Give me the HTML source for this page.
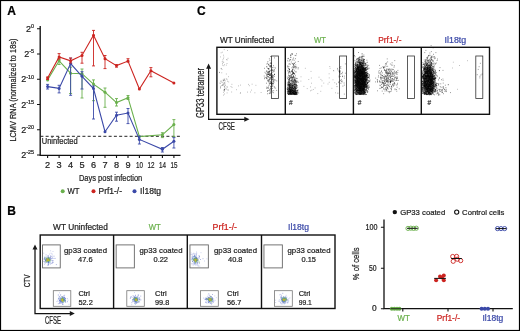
<!DOCTYPE html>
<html><head><meta charset="utf-8"><style>
html,body{margin:0;padding:0;background:#fff;width:520px;height:331px;overflow:hidden}

svg{display:block;font-family:"Liberation Sans", sans-serif;will-change:transform}
text{stroke-width:0.22px}
</style></head><body>
<div id="w"><svg width="520" height="331" viewBox="0 0 520 331">
<text x="7.3" y="15.4" font-size="12" fill="#000" stroke="#000" text-anchor="start" font-weight="bold">A</text>
<path d="M40.2 26V155.3H180.5" stroke="#111" stroke-width="1.35" fill="none"/>
<path d="M37 28.7H40M37 54.0H40M37 79.2H40M37 104.5H40M37 129.7H40M37 155.0H40M47.6 155.3V158M59.1 155.3V158M70.6 155.3V158M82.0 155.3V158M93.5 155.3V158M105.0 155.3V158M116.5 155.3V158M128.0 155.3V158M139.4 155.3V158M150.9 155.3V158M162.4 155.3V158M173.9 155.3V158" stroke="#111" stroke-width="1.1" fill="none"/>
<text x="34" y="31.7" font-size="9" fill="#222" stroke="#222" text-anchor="end">2<tspan font-size="5.4" dy="-3.6">0</tspan></text>
<text x="34" y="57.0" font-size="9" fill="#222" stroke="#222" text-anchor="end">2<tspan font-size="5.4" dy="-3.6">-5</tspan></text>
<text x="34" y="82.2" font-size="9" fill="#222" stroke="#222" text-anchor="end">2<tspan font-size="5.4" dy="-3.6">-10</tspan></text>
<text x="34" y="107.5" font-size="9" fill="#222" stroke="#222" text-anchor="end">2<tspan font-size="5.4" dy="-3.6">-15</tspan></text>
<text x="34" y="132.7" font-size="9" fill="#222" stroke="#222" text-anchor="end">2<tspan font-size="5.4" dy="-3.6">-20</tspan></text>
<text x="34" y="158.0" font-size="9" fill="#222" stroke="#222" text-anchor="end">2<tspan font-size="5.4" dy="-3.6">-25</tspan></text>
<text x="47.6" y="168.3" font-size="9.2" fill="#222" stroke="#222" text-anchor="middle">2</text>
<text x="59.1" y="168.3" font-size="9.2" fill="#222" stroke="#222" text-anchor="middle">3</text>
<text x="70.6" y="168.3" font-size="9.2" fill="#222" stroke="#222" text-anchor="middle">4</text>
<text x="82.0" y="168.3" font-size="9.2" fill="#222" stroke="#222" text-anchor="middle">5</text>
<text x="93.5" y="168.3" font-size="9.2" fill="#222" stroke="#222" text-anchor="middle">6</text>
<text x="105.0" y="168.3" font-size="9.2" fill="#222" stroke="#222" text-anchor="middle">7</text>
<text x="116.5" y="168.3" font-size="9.2" fill="#222" stroke="#222" text-anchor="middle">8</text>
<text x="128.0" y="168.3" font-size="9.2" fill="#222" stroke="#222" text-anchor="middle">9</text>
<text x="139.4" y="168.3" font-size="9.2" fill="#222" stroke="#222" text-anchor="middle" textLength="7.0" lengthAdjust="spacingAndGlyphs">10</text>
<text x="150.9" y="168.3" font-size="9.2" fill="#222" stroke="#222" text-anchor="middle" textLength="7.0" lengthAdjust="spacingAndGlyphs">12</text>
<text x="162.4" y="168.3" font-size="9.2" fill="#222" stroke="#222" text-anchor="middle" textLength="7.0" lengthAdjust="spacingAndGlyphs">14</text>
<text x="173.9" y="168.3" font-size="9.2" fill="#222" stroke="#222" text-anchor="middle" textLength="7.0" lengthAdjust="spacingAndGlyphs">15</text>
<text x="78.9" y="181.4" font-size="9.3" fill="#222" stroke="#222" text-anchor="start" textLength="63.4" lengthAdjust="spacingAndGlyphs">Days post infection</text>
<circle cx="62.7" cy="191.2" r="2" fill="#6ab04c"/><circle cx="93.5" cy="191.2" r="2" fill="#cc2420"/><circle cx="134.5" cy="191.2" r="2" fill="#3b49a8"/>
<text x="67.5" y="194" font-size="8.6" fill="#222" stroke="#222" text-anchor="start" textLength="12" lengthAdjust="spacingAndGlyphs">WT</text>
<text x="98.5" y="194" font-size="8.6" fill="#222" stroke="#222" text-anchor="start" textLength="23.5" lengthAdjust="spacingAndGlyphs">Prf1-/-</text>
<text x="140.1" y="194" font-size="8.6" fill="#222" stroke="#222" text-anchor="start" textLength="21" lengthAdjust="spacingAndGlyphs">Il18tg</text>
<text transform="translate(15.6 90.1) rotate(-90)" font-size="9.2" fill="#222" stroke="#222" text-anchor="middle" textLength="103" lengthAdjust="spacingAndGlyphs">LCMV RNA (normalized to 18s)</text>
<path d="M40.4 136.3H182" stroke="#222" stroke-width="1" stroke-dasharray="3 2.25"/>
<text x="41.8" y="143.7" font-size="8.4" fill="#222" stroke="#222" text-anchor="start" textLength="35.8" lengthAdjust="spacingAndGlyphs">Uninfected</text>
<path d="M47.6 79.9 L59.1 60.8 L70.6 73.2 L82.0 73.7 L93.5 84.1 L105.0 92.2 L116.5 102.6 L128.0 97.7 L139.4 136.6 L162.4 134.8 L173.9 124.5" stroke="#6ab04c" stroke-width="1.1" fill="none"/>
<path d="M59.1 59V64.5M57.6 59h3M57.6 64.5h3M70.6 67.2V93.5M69.1 67.2h3M69.1 93.5h3M82.0 69V98M80.5 69h3M80.5 98h3M93.5 79.9V100.7M92.0 79.9h3M92.0 100.7h3M105.0 88V107.3M103.5 88h3M103.5 107.3h3M116.5 98.6V106M115.0 98.6h3M115.0 106h3M128.0 95.5V99.5M126.5 95.5h3M126.5 99.5h3M162.4 132.7V137.6M160.9 132.7h3M160.9 137.6h3M173.9 119.6V136.8M172.4 119.6h3M172.4 136.8h3" stroke="#6ab04c" stroke-width="0.9" fill="none"/>
<circle cx="47.6" cy="79.9" r="1.5" fill="#6ab04c"/>
<circle cx="59.1" cy="60.8" r="1.5" fill="#6ab04c"/>
<circle cx="70.6" cy="73.2" r="1.5" fill="#6ab04c"/>
<circle cx="82.0" cy="73.7" r="1.5" fill="#6ab04c"/>
<circle cx="93.5" cy="84.1" r="1.5" fill="#6ab04c"/>
<circle cx="105.0" cy="92.2" r="1.5" fill="#6ab04c"/>
<circle cx="116.5" cy="102.6" r="1.5" fill="#6ab04c"/>
<circle cx="128.0" cy="97.7" r="1.5" fill="#6ab04c"/>
<circle cx="139.4" cy="136.6" r="1.5" fill="#6ab04c"/>
<circle cx="162.4" cy="134.8" r="1.5" fill="#6ab04c"/>
<circle cx="173.9" cy="124.5" r="1.5" fill="#6ab04c"/>
<path d="M47.6 86.6 L59.1 88.4 L70.6 63.6 L82.0 76.3 L93.5 88.6 L105.0 131.7 L116.5 115.2 L128.0 113 L139.4 139.4 L162.4 149.3 L173.9 141.2" stroke="#3b49a8" stroke-width="1.1" fill="none"/>
<path d="M47.6 84.4V89M46.1 84.4h3M46.1 89h3M59.1 85.3V92.9M57.6 85.3h3M57.6 92.9h3M70.6 58.1V95.3M69.1 58.1h3M69.1 95.3h3M82.0 71.7V89M80.5 71.7h3M80.5 89h3M93.5 86V119M92.0 86h3M92.0 119h3M116.5 112.2V121.2M115.0 112.2h3M115.0 121.2h3M128.0 108.5V123.6M126.5 108.5h3M126.5 123.6h3M139.4 136.3V144M137.9 136.3h3M137.9 144h3M162.4 147.5V152M160.9 147.5h3M160.9 152h3M173.9 137.6V148M172.4 137.6h3M172.4 148h3" stroke="#3b49a8" stroke-width="0.9" fill="none"/>
<circle cx="47.6" cy="86.6" r="1.5" fill="#3b49a8"/>
<circle cx="59.1" cy="88.4" r="1.5" fill="#3b49a8"/>
<circle cx="70.6" cy="63.6" r="1.5" fill="#3b49a8"/>
<circle cx="82.0" cy="76.3" r="1.5" fill="#3b49a8"/>
<circle cx="93.5" cy="88.6" r="1.5" fill="#3b49a8"/>
<circle cx="105.0" cy="131.7" r="1.5" fill="#3b49a8"/>
<circle cx="116.5" cy="115.2" r="1.5" fill="#3b49a8"/>
<circle cx="128.0" cy="113" r="1.5" fill="#3b49a8"/>
<circle cx="139.4" cy="139.4" r="1.5" fill="#3b49a8"/>
<circle cx="162.4" cy="149.3" r="1.5" fill="#3b49a8"/>
<circle cx="173.9" cy="141.2" r="1.5" fill="#3b49a8"/>
<path d="M47.6 78.1 L59.1 56.9 L70.6 60.8 L82.0 55.4 L93.5 35.2 L105.0 58.7 L116.5 65.6 L128.0 61.1 L139.4 89 L150.9 70.7 L173.9 83" stroke="#cc2420" stroke-width="1.1" fill="none"/>
<path d="M47.6 77V79.5M46.1 77h3M46.1 79.5h3M59.1 53.6V59M57.6 53.6h3M57.6 59h3M70.6 58V63M69.1 58h3M69.1 63h3M82.0 52.3V63.2M80.5 52.3h3M80.5 63.2h3M93.5 30.4V65.9M92.0 30.4h3M92.0 65.9h3M105.0 55.5V68.6M103.5 55.5h3M103.5 68.6h3M116.5 64.8V67.2M115.0 64.8h3M115.0 67.2h3M128.0 58.7V62M126.5 58.7h3M126.5 62h3M150.9 67.6V76.8M149.4 67.6h3M149.4 76.8h3" stroke="#cc2420" stroke-width="0.9" fill="none"/>
<circle cx="47.6" cy="78.1" r="1.5" fill="#cc2420"/>
<circle cx="59.1" cy="56.9" r="1.5" fill="#cc2420"/>
<circle cx="70.6" cy="60.8" r="1.5" fill="#cc2420"/>
<circle cx="82.0" cy="55.4" r="1.5" fill="#cc2420"/>
<circle cx="93.5" cy="35.2" r="1.5" fill="#cc2420"/>
<circle cx="105.0" cy="58.7" r="1.5" fill="#cc2420"/>
<circle cx="116.5" cy="65.6" r="1.5" fill="#cc2420"/>
<circle cx="128.0" cy="61.1" r="1.5" fill="#cc2420"/>
<circle cx="139.4" cy="89" r="1.5" fill="#cc2420"/>
<circle cx="150.9" cy="70.7" r="1.5" fill="#cc2420"/>
<circle cx="173.9" cy="83" r="1.5" fill="#cc2420"/>
<text x="197" y="15.3" font-size="12" fill="#000" stroke="#000" text-anchor="start" font-weight="bold">C</text>
<text x="220" y="42.9" font-size="8.6" fill="#222" stroke="#222" text-anchor="start" textLength="54" lengthAdjust="spacingAndGlyphs">WT Uninfected</text>
<text x="314" y="42.9" font-size="8.6" fill="#6ab04c" stroke="#6ab04c" text-anchor="start" textLength="12" lengthAdjust="spacingAndGlyphs">WT</text>
<text x="378.2" y="42.9" font-size="8.6" fill="#cc2420" stroke="#cc2420" text-anchor="start" textLength="23.3" lengthAdjust="spacingAndGlyphs">Prf1-/-</text>
<text x="444.6" y="42.9" font-size="8.6" fill="#3b49a8" stroke="#3b49a8" text-anchor="start" textLength="21.6" lengthAdjust="spacingAndGlyphs">Il18tg</text>
<rect x="216.9" y="47.3" width="272.6" height="67" fill="none" stroke="#111" stroke-width="1.4"/>
<path d="M285.3 47.4V114.3M353.4 47.4V114.3M421.3 47.4V114.3" stroke="#111" stroke-width="1.4"/>
<rect x="271.4" y="56" width="7" height="42.4" fill="none" stroke="#333" stroke-width="0.8"/>
<rect x="339.6" y="56" width="7" height="42.4" fill="none" stroke="#333" stroke-width="0.8"/>
<rect x="407.4" y="56" width="7" height="42.4" fill="none" stroke="#333" stroke-width="0.8"/>
<rect x="475.8" y="56" width="7" height="42.4" fill="none" stroke="#333" stroke-width="0.8"/>
<path d="M208.6 67V119.4H247" stroke="#111" stroke-width="1.2" fill="none"/>
<path d="M208.6 63.5l-2.5 5.2h5z M249.5 119.3l-5.2 -2.5v5z" fill="#1a1a1a"/>
<text transform="translate(203.7 93.0) rotate(-90)" font-size="10.2" fill="#222" stroke="#222" text-anchor="middle" textLength="49.8" lengthAdjust="spacingAndGlyphs">GP33 tetramer</text>
<text x="218.5" y="129.7" font-size="10.4" fill="#222" stroke="#222" text-anchor="start" textLength="16.5" lengthAdjust="spacingAndGlyphs">CFSE</text>
<text x="290.9" y="105.1" font-size="6.5" fill="#444" stroke="#444" text-anchor="middle">#</text>
<text x="359.5" y="105.1" font-size="6.5" fill="#444" stroke="#444" text-anchor="middle">#</text>
<text x="429.2" y="105.1" font-size="6.5" fill="#444" stroke="#444" text-anchor="middle">#</text>
<path d="M267.3 74.8h.8M268.0 87.7h.8M269.1 89.7h.8M264.5 77.7h.8M269.6 92.4h.8M272.6 77.4h.8M268.1 69.4h.8M271.3 73.6h.8M272.1 92.0h.8M273.9 86.7h.8M274.0 74.2h.8M270.7 88.8h.8M268.5 81.8h.8M273.9 87.8h.8M268.4 64.2h.8M270.3 75.3h.8M270.8 89.2h.8M265.5 73.5h.8M273.3 71.8h.8M272.4 79.8h.8M273.2 65.7h.8M271.7 83.1h.8M273.6 67.4h.8M270.0 70.8h.8M276.3 90.4h.8M270.9 82.6h.8M271.6 90.7h.8M272.9 81.7h.8M268.2 72.0h.8M267.2 73.0h.8M270.4 83.0h.8M293.3 92.3h.8M293.4 90.8h.8M291.4 77.1h.8M289.2 69.4h.8M289.5 81.9h.8M289.6 92.3h.8M290.6 76.2h.8M290.5 91.0h.8M288.6 75.7h.8M293.8 84.6h.8M288.7 84.3h.8M288.4 93.9h.8M293.1 67.0h.8M295.1 94.4h.8M289.5 91.9h.8M287.5 82.2h.8M294.4 94.4h.8M292.1 90.8h.8M297.3 87.3h.8M290.0 85.8h.8M293.0 89.6h.8M296.0 88.7h.8M294.3 66.6h.8M294.0 93.0h.8M295.6 84.4h.8M291.2 84.3h.8M289.5 90.1h.8M295.3 89.4h.8M292.7 93.9h.8M288.3 94.1h.8M289.9 89.3h.8M291.1 91.7h.8M293.6 65.5h.8M292.3 90.3h.8M293.0 76.1h.8M297.9 82.3h.8M288.9 69.1h.8M295.0 81.9h.8M294.8 85.2h.8M294.6 90.8h.8M290.3 90.0h.8M292.6 90.7h.8M294.1 87.4h.8M289.8 73.2h.8M288.5 84.6h.8M290.2 85.3h.8M296.0 88.0h.8M287.4 84.2h.8M291.0 93.8h.8M290.8 91.8h.8M288.4 88.4h.8M291.7 71.7h.8M290.9 89.2h.8M288.7 78.6h.8M296.7 91.3h.8M290.2 85.1h.8M296.0 92.4h.8M290.8 93.5h.8M295.6 67.2h.8M291.6 87.0h.8M289.2 71.5h.8M292.2 91.6h.8M287.7 94.3h.8M293.7 60.3h.8M292.0 70.7h.8M296.8 90.6h.8M294.9 77.8h.8M292.4 89.8h.8M290.7 91.3h.8M290.9 82.1h.8M295.2 93.7h.8M292.5 90.1h.8M290.7 90.7h.8M289.0 89.3h.8M289.6 88.4h.8M291.4 87.1h.8M290.4 90.4h.8M293.5 92.1h.8M296.0 90.8h.8M294.9 93.4h.8M289.2 94.6h.8M295.3 86.6h.8M292.7 72.7h.8M296.0 93.5h.8M292.6 90.8h.8M291.3 86.0h.8M295.2 93.2h.8M290.0 72.0h.8M292.2 93.0h.8M295.0 83.2h.8M292.5 74.7h.8M296.1 82.4h.8M292.9 93.3h.8M287.4 66.3h.8M289.8 87.2h.8M293.3 94.2h.8M297.0 94.0h.8M290.8 87.1h.8M296.6 94.2h.8M293.0 85.5h.8M294.1 89.7h.8M292.1 53.8h.8M292.8 67.0h.8M288.2 93.0h.8M295.2 92.7h.8M294.2 92.7h.8M291.9 93.1h.8M294.0 79.9h.8M294.4 90.2h.8M289.5 91.3h.8M295.0 92.4h.8M297.0 85.7h.8M295.7 87.1h.8M289.3 91.1h.8M288.8 71.0h.8M290.3 77.7h.8M293.5 90.9h.8M288.1 94.5h.8M290.3 92.4h.8M292.9 90.0h.8M288.9 93.9h.8M290.9 89.1h.8M290.9 90.1h.8M295.3 88.5h.8M293.3 90.4h.8M291.8 60.0h.8M288.6 82.8h.8M289.6 77.2h.8M291.9 80.3h.8M343.9 78.1h.8M341.6 73.8h.8M337.4 69.8h.8M343.7 83.0h.8M362.8 89.2h.8M360.4 89.7h.8M359.7 80.8h.8M358.2 70.8h.8M363.4 83.9h.8M357.6 78.0h.8M359.6 65.8h.8M362.9 72.8h.8M362.7 74.1h.8M363.0 80.4h.8M360.5 73.6h.8M361.0 88.8h.8M357.9 78.0h.8M361.9 72.1h.8M366.5 76.7h.8M361.4 78.1h.8M357.9 86.9h.8M360.7 91.5h.8M367.3 83.6h.8M361.2 86.0h.8M360.8 88.9h.8M361.3 88.9h.8M354.2 85.5h.8M362.3 62.4h.8M355.8 66.2h.8M355.7 64.9h.8M364.8 68.1h.8M361.4 92.6h.8M363.8 78.9h.8M361.8 74.3h.8M355.9 72.2h.8M360.5 85.4h.8M362.5 83.2h.8M358.5 90.1h.8M366.9 79.1h.8M359.3 59.5h.8M361.3 71.9h.8M360.2 68.1h.8M366.4 64.7h.8M359.8 78.6h.8M355.4 75.5h.8M365.1 84.1h.8M357.7 76.1h.8M363.6 82.7h.8M365.4 83.7h.8M359.0 69.5h.8M359.4 68.2h.8M363.5 72.9h.8M358.3 60.7h.8M360.7 74.6h.8M354.6 90.4h.8M359.1 62.7h.8M362.2 74.6h.8M357.1 79.2h.8M355.3 77.6h.8M361.4 76.0h.8M358.6 74.3h.8M359.1 63.6h.8M368.9 80.7h.8M364.1 76.0h.8M361.5 69.2h.8M361.0 81.8h.8M365.0 75.8h.8M354.9 69.2h.8M354.8 81.6h.8M364.7 87.1h.8M361.6 83.5h.8M357.6 77.5h.8M362.9 73.6h.8M359.1 81.2h.8M366.6 78.6h.8M363.5 83.7h.8M356.8 76.6h.8M358.2 75.2h.8M357.2 71.8h.8M360.2 85.2h.8M356.6 73.3h.8M355.5 77.2h.8M364.2 85.3h.8M363.9 69.5h.8M356.9 75.7h.8M363.5 77.3h.8M362.0 69.6h.8M364.6 86.0h.8M361.8 79.2h.8M360.9 71.8h.8M356.6 85.4h.8M357.1 71.5h.8M362.0 87.9h.8M363.3 85.9h.8M365.0 69.2h.8M355.2 88.0h.8M357.3 72.0h.8M355.4 92.1h.8M358.2 77.7h.8M359.2 70.1h.8M364.7 93.4h.8M360.6 64.7h.8M362.4 80.9h.8M363.9 71.8h.8M360.3 64.3h.8M356.1 84.8h.8M355.6 69.4h.8M362.7 72.6h.8M364.8 84.7h.8M360.6 79.7h.8M354.9 82.5h.8M364.5 82.5h.8M364.0 76.1h.8M365.0 77.4h.8M361.7 65.3h.8M358.1 72.2h.8M362.2 67.3h.8M361.2 89.7h.8M361.3 85.7h.8M361.6 77.8h.8M359.9 93.4h.8M357.0 81.7h.8M360.6 65.5h.8M358.7 80.4h.8M363.8 76.9h.8M359.3 68.3h.8M364.3 77.0h.8M362.7 76.3h.8M361.1 78.6h.8M358.4 67.2h.8M367.7 77.6h.8M358.5 88.5h.8M362.9 72.3h.8M360.5 90.5h.8M360.1 71.1h.8M361.5 81.9h.8M355.5 80.5h.8M359.8 66.6h.8M360.8 80.7h.8M364.8 88.2h.8M359.8 79.6h.8M365.1 90.5h.8M357.5 62.8h.8M359.6 73.0h.8M362.6 76.5h.8M357.1 79.6h.8M367.7 87.9h.8M368.2 82.3h.8M361.6 83.6h.8M358.1 70.8h.8M356.0 90.6h.8M359.9 92.2h.8M362.4 69.3h.8M361.4 90.9h.8M359.2 73.3h.8M364.7 78.5h.8M355.6 62.2h.8M356.7 86.4h.8M362.6 89.5h.8M363.1 60.5h.8M362.7 74.3h.8M363.8 73.8h.8M361.7 83.6h.8M362.6 85.3h.8M357.5 76.3h.8M361.2 91.6h.8M365.9 85.3h.8M366.5 82.1h.8M357.0 64.8h.8M356.6 88.9h.8M362.8 92.7h.8M357.1 94.3h.8M355.4 92.1h.8M364.1 83.0h.8M356.9 81.8h.8M359.7 72.0h.8M359.5 72.4h.8M361.5 86.4h.8M358.4 83.6h.8M368.2 87.9h.8M365.1 94.1h.8M357.6 85.3h.8M360.2 70.2h.8M361.4 76.6h.8M364.6 73.4h.8M364.8 78.2h.8M360.5 69.8h.8M361.3 87.7h.8M363.2 75.3h.8M357.8 75.7h.8M358.2 61.8h.8M364.8 85.6h.8M355.8 85.4h.8M357.0 84.8h.8M356.4 77.1h.8M357.8 86.5h.8M360.3 66.9h.8M362.6 84.6h.8M359.1 89.0h.8M360.5 85.3h.8M364.1 87.0h.8M355.3 85.1h.8M358.8 80.6h.8M362.6 60.6h.8M363.1 85.8h.8M356.2 84.1h.8M362.4 69.2h.8M355.4 77.4h.8M356.3 81.5h.8M361.7 82.7h.8M365.2 84.3h.8M358.5 85.8h.8M361.9 75.3h.8M358.6 88.6h.8M363.1 85.4h.8M362.7 89.4h.8M360.6 83.6h.8M360.2 83.2h.8M361.8 79.9h.8M356.4 70.5h.8M360.8 84.4h.8M357.5 67.7h.8M362.9 81.6h.8M363.8 73.6h.8M358.0 73.8h.8M364.2 68.4h.8M356.4 69.7h.8M360.1 62.3h.8M364.4 94.0h.8M364.5 85.3h.8M361.1 65.3h.8M361.9 59.9h.8M359.2 81.9h.8M358.9 65.8h.8M356.6 79.8h.8M359.1 75.8h.8M360.2 87.8h.8M359.7 66.5h.8M360.3 79.2h.8M357.6 68.1h.8M357.4 84.2h.8M360.8 85.2h.8M357.4 90.5h.8M357.4 75.0h.8M359.5 79.1h.8M361.2 82.6h.8M365.1 76.9h.8M366.6 86.7h.8M359.5 62.7h.8M359.3 70.8h.8M356.4 60.1h.8M360.4 86.3h.8M356.6 79.8h.8M362.0 69.1h.8M369.7 80.1h.8M359.4 66.9h.8M361.4 83.4h.8M359.3 79.4h.8M356.5 77.0h.8M361.1 86.9h.8M361.3 84.3h.8M356.0 75.3h.8M358.1 81.0h.8M355.6 79.4h.8M364.3 72.2h.8M357.2 91.0h.8M359.6 69.9h.8M362.7 65.9h.8M364.7 74.4h.8M359.5 86.8h.8M361.6 80.3h.8M362.3 86.5h.8M361.6 66.4h.8M365.8 81.1h.8M355.9 88.4h.8M357.5 70.4h.8M362.3 81.4h.8M364.6 74.8h.8M365.5 80.0h.8M354.6 60.6h.8M360.5 63.9h.8M363.4 78.4h.8M359.1 74.1h.8M363.1 63.9h.8M362.7 93.0h.8M366.6 84.9h.8M356.7 83.5h.8M359.5 71.7h.8M360.9 62.6h.8M360.5 76.8h.8M360.7 83.5h.8M361.7 91.0h.8M359.4 59.5h.8M362.5 93.6h.8M357.2 80.1h.8M360.0 66.0h.8M358.2 82.2h.8M363.8 73.6h.8M361.6 88.4h.8M362.1 83.0h.8M357.1 87.4h.8M362.6 67.0h.8M355.9 81.5h.8M365.8 70.0h.8M367.3 80.7h.8M360.9 85.9h.8M364.3 81.0h.8M357.3 75.4h.8M362.9 88.4h.8M359.7 83.2h.8M357.9 83.0h.8M355.7 75.0h.8M363.9 86.6h.8M357.3 80.0h.8M365.8 80.7h.8M360.4 63.6h.8M364.0 76.5h.8M355.6 75.6h.8M362.1 66.0h.8M364.0 78.7h.8M359.8 90.6h.8M362.7 76.0h.8M362.3 83.6h.8M364.9 73.9h.8M364.7 80.8h.8M362.0 72.1h.8M361.8 87.8h.8M361.7 89.8h.8M360.9 91.9h.8M365.9 79.5h.8M365.2 83.4h.8M354.3 80.3h.8M357.7 80.4h.8M356.1 85.1h.8M359.5 84.6h.8M358.1 88.4h.8M358.4 73.4h.8M355.5 72.4h.8M362.7 90.6h.8M357.6 84.6h.8M359.9 72.9h.8M354.3 68.8h.8M358.3 70.0h.8M356.8 66.8h.8M364.9 83.4h.8M361.1 75.6h.8M363.5 63.2h.8M358.5 64.4h.8M355.3 83.7h.8M356.0 94.3h.8M362.3 75.3h.8M361.2 81.7h.8M362.0 88.5h.8M362.0 69.5h.8M358.9 74.9h.8M365.7 72.1h.8M359.8 91.3h.8M355.2 76.4h.8M360.1 88.6h.8M360.1 82.3h.8M361.4 82.3h.8M362.5 71.1h.8M358.5 88.5h.8M359.7 63.9h.8M359.3 64.8h.8M359.2 57.3h.8M355.8 94.4h.8M359.7 62.3h.8M362.8 84.2h.8M366.8 75.6h.8M359.6 77.2h.8M364.1 82.3h.8M359.9 89.5h.8M357.6 85.3h.8M364.7 84.9h.8M363.5 75.1h.8M363.9 88.8h.8M363.1 91.2h.8M364.6 92.3h.8M362.9 73.4h.8M367.9 81.0h.8M360.6 71.2h.8M359.2 80.8h.8M364.0 93.3h.8M358.5 81.0h.8M360.5 78.8h.8M355.5 86.7h.8M359.2 78.7h.8M358.0 81.8h.8M355.4 72.0h.8M355.0 76.8h.8M361.0 84.2h.8M358.9 82.9h.8M356.7 89.9h.8M357.1 93.3h.8M364.2 61.7h.8M356.4 74.5h.8M357.5 74.1h.8M362.2 72.9h.8M357.4 67.5h.8M361.1 79.5h.8M357.7 69.3h.8M358.9 88.7h.8M365.4 65.4h.8M362.7 75.4h.8M361.5 75.3h.8M357.2 89.8h.8M361.4 74.1h.8M361.0 84.8h.8M361.9 78.3h.8M363.4 79.6h.8M360.3 84.5h.8M361.1 65.7h.8M361.5 74.5h.8M363.8 77.9h.8M360.0 69.6h.8M360.1 94.4h.8M365.7 75.6h.8M361.7 84.4h.8M366.3 73.0h.8M362.3 73.7h.8M358.0 84.2h.8M359.2 88.7h.8M363.3 80.6h.8M362.6 89.2h.8M356.1 94.4h.8M356.5 83.5h.8M363.0 92.2h.8M366.9 69.1h.8M365.6 65.8h.8M363.1 74.0h.8M364.3 83.2h.8M364.0 68.9h.8M358.5 91.9h.8M361.8 89.6h.8M360.0 89.8h.8M361.3 72.9h.8M355.2 86.8h.8M357.1 92.0h.8M360.0 69.3h.8M356.6 80.5h.8M363.8 90.1h.8M358.2 78.9h.8M362.7 77.2h.8M363.3 73.2h.8M358.6 82.2h.8M360.8 73.4h.8M363.8 85.2h.8M363.3 75.6h.8M358.4 73.1h.8M361.6 57.3h.8M362.0 78.9h.8M364.0 59.7h.8M359.8 81.7h.8M364.2 74.1h.8M358.5 90.6h.8M356.8 76.1h.8M357.0 75.8h.8M362.9 88.6h.8M361.8 90.8h.8M363.0 76.0h.8M357.4 93.2h.8M361.7 83.5h.8M359.5 77.7h.8M354.2 76.4h.8M366.7 83.6h.8M365.3 69.7h.8M359.5 69.3h.8M354.8 78.4h.8M364.0 85.7h.8M362.3 67.8h.8M356.6 90.5h.8M362.6 81.0h.8M364.1 75.0h.8M364.4 88.7h.8M357.0 87.5h.8M365.0 84.5h.8M363.4 82.5h.8M355.1 67.8h.8M361.7 90.3h.8M362.2 87.3h.8M363.6 82.6h.8M361.5 63.1h.8M365.8 62.8h.8M384.9 65.0h.8M387.5 84.4h.8M384.4 81.6h.8M387.0 81.1h.8M381.7 87.3h.8M382.5 66.7h.8M388.3 72.9h.8M382.8 83.9h.8M383.5 76.8h.8M388.1 82.2h.8M381.2 87.5h.8M384.0 81.3h.8M390.6 76.2h.8M396.0 79.9h.8M387.7 78.1h.8M393.8 83.5h.8M386.7 78.9h.8M383.1 85.1h.8M390.2 78.9h.8M392.4 84.9h.8M385.9 78.3h.8M395.8 74.2h.8M393.9 82.7h.8M387.3 71.3h.8M384.6 76.6h.8M375.0 81.9h.8M388.8 73.1h.8M388.3 79.0h.8M387.3 66.3h.8M385.1 82.9h.8M396.4 91.2h.8M392.4 65.2h.8M397.9 80.4h.8M387.5 73.9h.8M392.6 85.4h.8M396.2 71.7h.8M383.8 81.0h.8M391.7 80.9h.8M386.8 87.2h.8M391.6 75.9h.8M383.6 67.6h.8M390.2 82.7h.8M384.6 91.0h.8M392.1 69.7h.8M383.9 70.0h.8M382.1 87.5h.8M385.3 87.6h.8M377.2 81.8h.8M377.2 80.1h.8M385.8 78.1h.8M388.0 73.3h.8M425.2 87.1h.8M425.6 77.0h.8M430.0 76.6h.8M427.0 75.4h.8M433.0 78.8h.8M434.6 78.5h.8M433.0 88.3h.8M429.2 69.5h.8M426.5 89.5h.8M431.0 91.5h.8M428.0 81.2h.8M431.8 89.8h.8M424.3 87.7h.8M428.3 83.9h.8M429.7 84.4h.8M426.8 89.6h.8M430.4 86.9h.8M429.2 83.4h.8M422.8 77.8h.8M424.1 84.0h.8M423.5 80.8h.8M432.1 79.7h.8M435.3 82.7h.8M427.1 94.1h.8M431.7 74.2h.8M434.9 71.3h.8M431.9 77.1h.8M429.7 73.1h.8M430.2 88.9h.8M427.5 84.7h.8M426.8 63.7h.8M427.4 70.2h.8M430.3 88.7h.8M429.7 84.0h.8M429.8 80.2h.8M427.5 74.1h.8M428.3 80.1h.8M430.8 72.4h.8M425.8 71.2h.8M429.1 72.5h.8M429.9 85.3h.8M423.0 64.3h.8M429.7 89.0h.8M429.9 80.4h.8M432.5 88.2h.8M426.0 81.5h.8M425.5 72.6h.8M428.8 71.0h.8M431.7 77.4h.8M423.7 84.0h.8M424.8 73.2h.8M426.3 79.6h.8M423.0 85.7h.8M428.4 87.1h.8M429.8 68.3h.8M426.5 80.5h.8M430.6 75.6h.8M422.1 76.7h.8M427.2 75.2h.8M422.6 90.8h.8M429.4 82.6h.8M423.2 75.0h.8M424.8 75.4h.8M427.2 73.0h.8M428.2 88.2h.8M435.9 85.6h.8M427.2 88.2h.8M427.8 86.5h.8M430.0 78.6h.8M427.1 91.5h.8M431.3 77.6h.8M426.9 57.7h.8M424.0 88.7h.8M431.4 88.5h.8M425.0 61.4h.8M432.5 84.8h.8M423.2 75.0h.8M431.0 88.0h.8M424.2 77.6h.8M426.1 65.4h.8M430.0 93.6h.8M426.2 78.1h.8M427.3 77.5h.8M424.1 82.0h.8M430.9 79.7h.8M428.1 75.1h.8M429.2 75.1h.8M423.1 78.3h.8M428.8 78.2h.8M433.1 86.1h.8M425.3 71.3h.8M433.6 71.5h.8M428.0 75.4h.8M426.8 73.3h.8M423.6 82.2h.8M425.9 81.3h.8M431.9 78.2h.8M427.1 83.9h.8M430.8 67.2h.8M423.6 83.1h.8M428.9 65.6h.8M426.9 81.7h.8M431.8 88.1h.8M430.7 72.2h.8M429.0 78.0h.8M431.7 88.1h.8M430.4 77.0h.8M426.4 85.2h.8M429.9 87.6h.8M430.8 80.2h.8M426.3 92.4h.8M425.2 76.5h.8M431.8 92.2h.8M426.0 80.5h.8M423.4 78.6h.8M431.8 83.8h.8M424.8 81.1h.8M430.9 91.6h.8M427.2 76.0h.8M427.0 89.1h.8M427.2 66.7h.8M430.1 89.4h.8M429.2 77.1h.8M434.5 71.1h.8M427.6 77.0h.8M426.5 84.3h.8M425.8 75.7h.8M429.2 88.7h.8M427.8 76.0h.8M426.4 82.6h.8M426.1 78.8h.8M433.2 82.2h.8M424.2 82.4h.8M430.4 70.9h.8M431.5 88.6h.8M431.7 83.2h.8M425.4 88.7h.8M426.8 86.1h.8M429.9 85.2h.8M425.2 73.1h.8M427.7 75.6h.8M428.6 65.9h.8M428.3 89.1h.8M428.1 88.4h.8M426.6 75.6h.8M423.8 82.3h.8M429.4 79.0h.8M424.1 80.8h.8M430.6 57.7h.8M429.3 92.5h.8M431.3 71.6h.8M429.9 65.6h.8M431.1 79.8h.8M429.9 66.7h.8M425.4 83.6h.8M425.9 83.1h.8M427.5 77.0h.8M428.0 90.3h.8M432.5 71.8h.8M422.8 91.4h.8M434.9 75.8h.8M433.7 79.1h.8M432.1 90.5h.8M431.1 69.7h.8M433.3 86.7h.8M428.4 76.8h.8M424.2 74.5h.8M427.8 88.8h.8M432.6 83.7h.8M433.6 87.0h.8M429.3 67.0h.8M425.9 71.9h.8M427.6 69.8h.8M427.3 78.2h.8M424.6 89.8h.8M425.2 75.9h.8M422.7 71.6h.8M425.9 81.4h.8M424.3 68.5h.8M429.0 88.8h.8M432.1 83.3h.8M425.8 88.8h.8M426.0 78.8h.8M427.5 68.5h.8M429.2 90.3h.8M425.5 85.0h.8M427.0 68.5h.8M427.3 89.8h.8M428.9 79.4h.8M427.1 82.2h.8M428.2 87.7h.8M426.0 89.6h.8M422.3 84.4h.8M432.7 81.6h.8M425.1 90.2h.8M425.7 69.1h.8M427.2 69.0h.8M425.4 69.7h.8M430.2 82.4h.8M426.6 90.8h.8M431.2 78.1h.8M422.0 90.6h.8M425.9 72.4h.8M424.6 82.7h.8M426.6 74.9h.8M430.1 81.8h.8M426.7 76.8h.8M429.8 66.2h.8M426.0 91.7h.8M425.2 89.3h.8M428.2 81.6h.8M431.4 82.7h.8M427.3 65.8h.8M432.3 77.8h.8M430.0 74.1h.8M426.0 88.9h.8M429.0 67.6h.8M435.6 77.7h.8M430.5 89.0h.8M429.4 77.8h.8M429.1 69.5h.8M426.2 75.8h.8M426.1 91.9h.8M425.3 72.2h.8M427.4 73.2h.8M425.0 82.0h.8M433.1 83.3h.8M427.2 78.3h.8M429.0 93.0h.8M428.9 89.3h.8M426.6 79.2h.8M431.2 76.5h.8M426.1 92.6h.8M430.4 83.8h.8M434.6 79.6h.8M428.6 93.2h.8M426.6 73.2h.8M431.0 85.1h.8M426.4 84.4h.8M426.6 80.7h.8M426.8 64.7h.8M432.0 87.7h.8M426.2 71.6h.8M428.5 73.1h.8M428.2 80.9h.8M425.9 69.6h.8M431.1 71.0h.8M428.6 91.8h.8M428.5 84.4h.8M431.6 81.7h.8M427.3 69.1h.8M425.6 92.3h.8M431.0 81.1h.8M432.1 88.6h.8M430.4 77.2h.8M426.9 60.6h.8M427.0 74.4h.8M425.5 78.6h.8M424.3 80.8h.8M423.3 67.8h.8M424.6 85.2h.8M425.5 70.3h.8M428.7 85.1h.8M426.4 71.8h.8M424.9 85.9h.8M424.4 85.0h.8M429.6 67.3h.8M429.1 78.0h.8M430.0 78.7h.8M427.6 56.8h.8M429.7 68.8h.8M427.4 91.9h.8M424.7 75.7h.8M428.9 75.1h.8M435.2 77.5h.8M430.5 89.7h.8M433.4 86.7h.8M431.9 89.1h.8M432.3 68.4h.8M426.2 75.9h.8M430.9 69.1h.8M425.9 84.5h.8M424.6 84.0h.8M427.7 78.3h.8M426.1 89.3h.8M430.2 94.3h.8M428.2 91.7h.8M426.0 83.3h.8M430.1 73.1h.8M422.5 89.8h.8M430.1 82.0h.8M431.5 75.8h.8M425.9 67.9h.8M427.0 73.5h.8M430.1 92.8h.8M422.4 89.6h.8M426.2 93.7h.8M430.4 89.5h.8M430.4 83.6h.8M427.5 77.1h.8M428.9 60.2h.8M427.9 84.1h.8M428.2 93.7h.8M432.8 90.5h.8M430.1 79.4h.8M434.0 91.3h.8M424.0 79.2h.8M430.9 82.7h.8M431.4 88.5h.8M431.1 82.0h.8M427.6 81.4h.8M428.3 88.1h.8M430.1 85.7h.8M425.5 73.3h.8M427.2 91.3h.8M429.9 87.0h.8M433.4 82.0h.8M430.5 84.5h.8M425.2 86.6h.8M424.6 92.3h.8M423.9 78.0h.8M426.4 76.4h.8M425.2 66.3h.8M432.6 82.5h.8M426.7 60.0h.8M427.1 63.6h.8M430.2 79.6h.8M429.2 92.7h.8M425.8 86.3h.8M436.6 75.5h.8M427.5 84.9h.8M426.1 85.3h.8M431.0 76.2h.8M432.9 78.4h.8M426.0 88.3h.8M432.1 74.6h.8M432.8 61.1h.8M428.2 76.6h.8M425.6 67.5h.8M442.7 80.2h.8M423.3 76.1h.8M425.1 66.2h.8M425.1 93.5h.8M430.2 79.4h.8M438.9 70.7h.8M432.7 89.1h.8M427.3 83.6h.8M439.1 77.8h.8M423.7 93.5h.8M422.4 75.4h.8M428.0 83.0h.8M430.7 59.4h.8M428.6 79.4h.8M439.0 91.1h.8M429.7 55.3h.8M437.2 59.0h.8M425.6 59.4h.8M432.8 63.1h.8M435.0 63.7h.8M433.4 66.5h.8M431.0 58.8h.8M433.9 58.7h.8M445.5 87.6h.8M439.4 94.8h.8M429.6 94.0h.8M440.6 89.8h.8M440.4 83.8h.8M446.1 91.0h.8M432.9 89.7h.8M438.2 93.0h.8M445.8 89.3h.8M476.8 74.7h.8" stroke="#000" stroke-width="0.85" stroke-opacity="0.58" fill="none"/>
<path d="M268.1 72.9h.8M268.9 72.7h.8M267.7 74.3h.8M273.3 90.7h.8M271.3 84.4h.8M269.5 74.4h.8M267.4 68.5h.8M273.6 80.8h.8M274.8 80.1h.8M269.5 75.2h.8M274.0 74.4h.8M264.0 78.7h.8M269.4 78.1h.8M269.8 74.7h.8M269.8 65.9h.8M267.9 74.2h.8M271.6 77.3h.8M270.4 86.6h.8M267.2 90.9h.8M268.9 77.4h.8M269.9 63.0h.8M271.0 76.5h.8M270.3 74.0h.8M274.3 79.7h.8M270.3 66.7h.8M270.0 92.9h.8M272.2 88.4h.8M270.2 81.4h.8M271.3 75.3h.8M269.6 70.2h.8M291.5 67.8h.8M291.4 90.1h.8M291.3 79.9h.8M296.4 94.3h.8M287.8 84.9h.8M290.9 93.3h.8M290.8 79.8h.8M286.9 83.1h.8M292.7 83.4h.8M291.6 93.7h.8M290.3 91.8h.8M292.4 87.5h.8M292.1 87.8h.8M293.4 82.0h.8M288.5 66.5h.8M295.2 80.7h.8M293.0 82.5h.8M288.3 84.7h.8M292.3 86.0h.8M289.4 89.3h.8M293.7 79.0h.8M293.9 94.2h.8M290.3 57.2h.8M294.8 87.9h.8M293.1 93.4h.8M294.1 73.5h.8M293.2 90.0h.8M295.4 92.7h.8M289.4 93.3h.8M289.3 89.2h.8M293.4 92.3h.8M292.0 77.5h.8M290.3 92.4h.8M291.0 94.5h.8M296.2 93.7h.8M291.7 90.2h.8M295.2 92.5h.8M290.4 88.1h.8M292.1 90.7h.8M288.4 89.7h.8M288.4 94.5h.8M288.1 90.8h.8M287.0 90.2h.8M291.0 93.8h.8M291.4 74.7h.8M289.2 90.1h.8M292.7 88.6h.8M294.2 94.6h.8M293.2 64.4h.8M290.6 84.3h.8M292.2 94.3h.8M289.8 93.9h.8M292.2 85.6h.8M296.0 90.7h.8M292.4 89.4h.8M294.5 94.0h.8M294.3 84.0h.8M289.6 86.2h.8M291.9 85.0h.8M289.2 89.5h.8M291.8 85.6h.8M293.9 91.4h.8M294.1 84.3h.8M288.9 91.2h.8M292.0 69.6h.8M287.4 91.2h.8M294.0 90.8h.8M288.0 83.6h.8M293.2 81.1h.8M287.7 93.4h.8M288.6 76.2h.8M290.1 93.1h.8M290.3 94.1h.8M294.3 87.3h.8M290.4 89.9h.8M296.0 94.6h.8M297.8 61.5h.8M294.1 93.4h.8M288.0 77.5h.8M288.6 87.7h.8M293.2 88.3h.8M296.0 93.6h.8M295.3 89.5h.8M289.7 91.2h.8M288.9 69.5h.8M295.6 81.3h.8M291.7 88.1h.8M292.3 90.5h.8M293.3 73.0h.8M293.6 93.3h.8M295.0 90.2h.8M290.5 88.8h.8M291.4 71.1h.8M291.3 53.7h.8M293.1 84.9h.8M290.4 83.6h.8M292.8 72.7h.8M288.1 68.5h.8M294.0 81.1h.8M338.7 77.0h.8M339.3 71.8h.8M342.1 76.1h.8M342.0 72.3h.8M339.4 70.6h.8M338.6 81.7h.8M340.4 68.4h.8M341.6 80.9h.8M343.9 94.1h.8M356.8 83.7h.8M363.9 81.7h.8M368.9 74.6h.8M360.2 78.3h.8M360.1 87.8h.8M362.5 89.2h.8M354.5 81.3h.8M360.2 82.1h.8M362.1 67.3h.8M365.7 77.9h.8M356.2 76.9h.8M361.7 72.6h.8M361.7 73.5h.8M360.9 60.2h.8M355.5 71.0h.8M357.7 86.0h.8M362.9 81.3h.8M363.9 78.6h.8M360.7 70.1h.8M363.3 68.0h.8M364.4 77.3h.8M356.8 91.7h.8M354.2 76.8h.8M361.5 83.9h.8M358.7 89.7h.8M359.6 73.9h.8M358.6 74.4h.8M363.2 78.8h.8M359.6 67.5h.8M354.2 55.5h.8M363.0 85.3h.8M358.9 81.9h.8M358.0 60.6h.8M360.8 89.1h.8M357.9 67.3h.8M359.1 94.5h.8M361.1 89.3h.8M364.4 85.4h.8M357.5 83.2h.8M360.4 87.1h.8M361.7 85.8h.8M361.4 72.1h.8M361.1 63.5h.8M362.8 61.2h.8M356.3 92.4h.8M356.7 68.7h.8M364.7 72.6h.8M363.5 88.5h.8M356.2 81.9h.8M363.6 87.9h.8M364.1 82.1h.8M356.4 77.8h.8M360.7 70.8h.8M364.3 85.1h.8M365.3 71.0h.8M358.6 88.1h.8M361.6 82.8h.8M355.6 77.3h.8M356.5 68.5h.8M357.8 84.3h.8M361.4 60.4h.8M362.2 87.3h.8M365.4 81.8h.8M363.1 80.0h.8M358.7 85.6h.8M360.8 59.6h.8M363.6 75.7h.8M364.3 77.7h.8M363.3 84.9h.8M367.0 91.9h.8M358.7 82.6h.8M365.9 79.8h.8M363.4 80.4h.8M361.6 71.7h.8M358.1 67.5h.8M364.0 85.7h.8M358.7 58.7h.8M365.4 72.4h.8M361.6 66.9h.8M363.4 88.5h.8M366.9 77.5h.8M355.6 91.3h.8M362.2 68.9h.8M364.4 89.8h.8M357.6 89.8h.8M364.0 78.8h.8M359.4 79.3h.8M364.1 69.7h.8M358.4 75.5h.8M356.7 69.3h.8M359.5 74.1h.8M367.1 75.4h.8M357.5 86.7h.8M361.1 73.1h.8M360.3 74.7h.8M362.8 71.3h.8M358.4 63.1h.8M360.5 90.0h.8M358.6 79.6h.8M358.1 81.4h.8M362.8 76.7h.8M362.1 75.4h.8M367.4 85.1h.8M358.4 88.9h.8M359.3 67.8h.8M360.0 72.9h.8M364.1 81.6h.8M360.4 86.1h.8M361.8 77.6h.8M357.5 74.2h.8M362.1 82.5h.8M359.6 78.9h.8M357.3 81.5h.8M364.6 82.0h.8M358.6 79.5h.8M360.3 75.9h.8M358.8 75.0h.8M361.0 66.4h.8M357.9 92.2h.8M363.0 78.5h.8M360.5 79.5h.8M356.4 91.3h.8M360.8 75.5h.8M359.3 74.3h.8M361.3 93.1h.8M357.6 82.7h.8M361.9 69.4h.8M361.8 80.4h.8M359.2 92.8h.8M362.3 80.2h.8M360.1 90.5h.8M364.7 63.4h.8M359.2 82.6h.8M358.1 78.5h.8M357.7 76.7h.8M360.8 90.9h.8M364.8 86.3h.8M355.3 67.5h.8M354.7 76.8h.8M367.5 82.1h.8M361.0 67.6h.8M358.3 68.8h.8M360.4 77.4h.8M360.6 90.5h.8M356.5 74.7h.8M360.9 91.3h.8M366.5 79.1h.8M360.2 72.0h.8M358.0 81.5h.8M360.8 81.9h.8M360.6 73.9h.8M365.8 84.3h.8M359.7 76.6h.8M364.5 70.6h.8M356.5 91.7h.8M361.0 62.3h.8M359.7 91.9h.8M359.2 70.2h.8M360.9 81.5h.8M363.9 80.0h.8M363.7 82.5h.8M362.0 61.2h.8M359.9 93.4h.8M365.6 75.2h.8M355.1 89.9h.8M361.5 67.5h.8M363.2 63.2h.8M357.3 72.2h.8M358.7 65.7h.8M361.8 82.9h.8M360.6 78.9h.8M361.8 82.3h.8M361.2 84.5h.8M362.0 69.9h.8M364.5 73.2h.8M357.8 80.2h.8M358.1 73.0h.8M360.8 88.1h.8M354.9 93.2h.8M366.3 84.9h.8M356.2 74.1h.8M362.3 71.5h.8M359.7 88.4h.8M366.0 78.3h.8M365.5 82.9h.8M364.3 83.7h.8M354.6 56.7h.8M355.6 84.9h.8M359.8 89.9h.8M363.8 82.4h.8M362.8 72.9h.8M362.5 74.8h.8M362.4 84.4h.8M359.3 71.1h.8M355.7 85.3h.8M360.2 89.6h.8M361.4 87.3h.8M355.8 71.3h.8M368.1 82.4h.8M357.7 72.0h.8M358.9 84.4h.8M360.9 73.6h.8M366.7 85.7h.8M361.5 68.5h.8M361.3 79.3h.8M360.9 87.9h.8M361.0 72.1h.8M356.3 64.1h.8M366.1 85.6h.8M362.6 88.6h.8M362.3 82.0h.8M360.1 70.8h.8M364.1 92.6h.8M357.2 69.6h.8M357.4 84.8h.8M364.6 72.3h.8M363.0 80.5h.8M362.8 83.9h.8M357.9 58.2h.8M359.8 74.4h.8M355.1 62.8h.8M359.5 75.3h.8M365.3 81.0h.8M360.4 94.1h.8M359.0 85.9h.8M356.8 73.9h.8M356.7 73.0h.8M356.9 79.0h.8M362.8 67.8h.8M361.2 70.8h.8M358.8 74.4h.8M367.3 82.9h.8M357.3 78.9h.8M365.7 67.4h.8M364.0 83.6h.8M362.5 86.6h.8M361.7 89.6h.8M356.9 84.6h.8M360.8 71.6h.8M359.2 57.1h.8M358.0 78.9h.8M360.1 84.5h.8M364.7 87.1h.8M365.4 80.6h.8M361.2 72.4h.8M364.2 82.2h.8M355.3 89.5h.8M357.7 69.4h.8M358.4 79.9h.8M360.7 84.2h.8M363.7 87.5h.8M358.3 85.0h.8M361.2 81.0h.8M361.5 62.7h.8M365.9 76.5h.8M356.3 83.5h.8M361.1 73.4h.8M362.7 86.4h.8M362.2 78.6h.8M361.8 68.4h.8M363.1 83.2h.8M362.0 73.2h.8M365.3 72.4h.8M358.2 65.3h.8M363.3 87.1h.8M360.9 93.5h.8M355.3 76.3h.8M358.1 85.9h.8M358.6 86.4h.8M362.8 69.7h.8M365.7 67.1h.8M363.6 87.1h.8M363.6 56.5h.8M362.7 69.7h.8M362.1 90.8h.8M355.2 77.2h.8M361.8 74.9h.8M357.3 89.1h.8M357.1 80.2h.8M366.3 75.7h.8M358.7 71.7h.8M358.8 64.6h.8M361.7 70.6h.8M363.6 82.7h.8M360.3 93.4h.8M361.9 74.1h.8M364.4 77.4h.8M363.5 63.0h.8M355.6 76.5h.8M362.6 87.5h.8M364.7 94.6h.8M363.2 88.4h.8M366.5 60.2h.8M362.1 88.1h.8M361.9 78.7h.8M355.9 78.0h.8M365.1 86.4h.8M358.5 81.2h.8M360.5 68.6h.8M363.6 69.0h.8M356.3 68.2h.8M364.1 81.5h.8M360.7 64.4h.8M361.3 76.4h.8M365.2 67.9h.8M359.4 84.8h.8M360.7 83.6h.8M363.4 76.1h.8M367.1 62.3h.8M368.1 77.6h.8M361.5 80.1h.8M359.0 72.4h.8M356.2 78.3h.8M358.5 79.5h.8M369.2 75.2h.8M362.7 88.0h.8M363.5 88.3h.8M363.2 82.3h.8M357.6 87.7h.8M361.1 68.4h.8M357.8 76.0h.8M358.3 88.8h.8M358.0 83.0h.8M357.5 76.8h.8M359.9 83.8h.8M361.0 93.0h.8M365.8 91.6h.8M362.0 94.2h.8M364.4 69.2h.8M361.8 66.9h.8M359.3 92.7h.8M354.4 77.1h.8M361.4 94.2h.8M354.2 75.7h.8M361.2 92.2h.8M361.9 84.9h.8M366.1 88.3h.8M362.2 85.3h.8M366.3 73.8h.8M362.1 76.1h.8M356.9 78.8h.8M361.8 90.3h.8M358.8 84.0h.8M356.0 69.8h.8M364.1 83.4h.8M358.1 85.5h.8M361.8 82.9h.8M355.4 83.1h.8M364.8 90.3h.8M363.1 83.0h.8M365.4 84.7h.8M361.0 56.6h.8M358.2 91.8h.8M360.4 87.2h.8M356.4 78.7h.8M361.4 80.6h.8M363.1 73.5h.8M356.5 86.2h.8M363.3 59.9h.8M365.3 79.0h.8M355.8 68.6h.8M357.6 86.5h.8M354.2 83.7h.8M360.9 82.8h.8M359.8 84.8h.8M358.9 82.5h.8M361.2 84.1h.8M360.8 86.7h.8M357.6 87.0h.8M363.5 83.5h.8M359.4 80.6h.8M361.2 81.2h.8M359.2 73.4h.8M362.5 88.9h.8M359.2 87.1h.8M359.9 90.4h.8M362.7 78.4h.8M362.3 76.5h.8M363.7 87.3h.8M359.8 87.1h.8M365.7 70.7h.8M364.3 77.0h.8M360.7 82.4h.8M356.0 90.2h.8M355.8 94.6h.8M364.5 69.3h.8M360.2 76.0h.8M358.9 76.3h.8M360.7 81.7h.8M358.9 81.1h.8M355.2 81.3h.8M361.5 69.1h.8M363.2 77.4h.8M360.7 87.7h.8M356.7 76.0h.8M365.0 76.1h.8M359.7 87.8h.8M356.0 76.3h.8M361.9 93.3h.8M364.9 78.5h.8M354.1 90.4h.8M363.9 79.5h.8M367.2 73.4h.8M364.6 78.6h.8M361.6 77.1h.8M355.5 85.8h.8M357.0 87.6h.8M359.6 83.6h.8M355.6 65.3h.8M359.6 61.1h.8M364.7 63.9h.8M360.7 92.8h.8M357.4 81.7h.8M362.9 71.1h.8M360.6 63.7h.8M365.9 86.7h.8M365.5 69.2h.8M360.7 59.0h.8M359.5 70.6h.8M363.7 79.2h.8M362.3 86.6h.8M354.9 93.2h.8M357.8 75.6h.8M356.9 79.7h.8M364.2 72.6h.8M368.1 88.1h.8M360.8 87.1h.8M363.6 79.9h.8M357.5 84.3h.8M365.4 81.9h.8M361.0 86.2h.8M355.3 74.1h.8M356.5 83.9h.8M365.3 78.1h.8M366.3 80.6h.8M358.3 69.9h.8M362.1 73.7h.8M357.1 73.6h.8M363.7 79.1h.8M355.0 78.6h.8M364.9 79.2h.8M362.2 67.2h.8M361.1 79.1h.8M357.0 74.1h.8M363.0 78.1h.8M356.1 72.2h.8M367.3 87.8h.8M356.6 68.2h.8M364.0 72.5h.8M360.7 77.8h.8M354.8 89.9h.8M364.7 77.4h.8M357.6 85.0h.8M364.8 84.6h.8M364.6 79.7h.8M361.7 83.9h.8M363.9 89.7h.8M363.2 69.5h.8M365.1 64.8h.8M360.9 70.9h.8M356.4 73.4h.8M357.1 68.5h.8M363.3 80.6h.8M357.1 80.4h.8M358.8 82.2h.8M359.7 77.9h.8M361.3 86.0h.8M362.2 71.3h.8M357.6 80.2h.8M361.8 91.4h.8M360.9 75.8h.8M361.1 93.1h.8M357.5 84.5h.8M366.3 89.0h.8M363.6 79.2h.8M358.1 83.2h.8M357.5 61.4h.8M361.7 54.9h.8M358.7 92.2h.8M357.5 77.3h.8M362.6 74.4h.8M358.6 68.6h.8M360.6 68.1h.8M362.6 84.4h.8M358.0 70.7h.8M362.8 86.7h.8M364.9 80.6h.8M356.4 78.1h.8M358.6 89.1h.8M368.2 74.9h.8M366.2 86.5h.8M362.7 82.6h.8M360.0 89.3h.8M359.5 86.3h.8M361.6 93.2h.8M358.7 63.1h.8M357.8 71.0h.8M394.3 79.9h.8M397.0 78.3h.8M384.7 88.8h.8M388.5 68.9h.8M383.9 79.0h.8M386.5 69.1h.8M390.2 77.5h.8M378.8 70.6h.8M394.6 73.4h.8M383.2 68.2h.8M386.6 79.7h.8M390.0 81.1h.8M383.8 66.8h.8M394.1 82.9h.8M379.2 81.2h.8M392.1 76.1h.8M398.8 88.8h.8M390.3 74.0h.8M386.3 81.5h.8M390.1 81.5h.8M386.0 88.0h.8M394.8 80.7h.8M391.5 69.0h.8M387.7 81.4h.8M390.0 82.4h.8M383.7 89.4h.8M394.1 72.0h.8M382.0 72.9h.8M388.8 71.0h.8M396.8 74.2h.8M381.0 84.5h.8M383.9 77.2h.8M388.9 86.8h.8M391.5 78.9h.8M389.4 75.8h.8M397.0 77.1h.8M392.7 79.6h.8M396.0 73.0h.8M387.1 87.9h.8M393.0 80.1h.8M386.1 89.8h.8M377.1 90.8h.8M387.8 78.8h.8M393.6 67.2h.8M387.3 81.0h.8M386.4 72.3h.8M377.9 77.1h.8M390.5 80.0h.8M385.8 76.5h.8M387.8 75.0h.8M386.0 86.1h.8M381.4 78.7h.8M380.9 71.6h.8M378.7 73.6h.8M384.1 69.3h.8M392.1 78.7h.8M386.5 85.2h.8M386.7 72.6h.8M396.6 80.4h.8M380.8 79.9h.8M389.1 79.7h.8M386.1 89.9h.8M386.5 76.7h.8M427.4 81.6h.8M429.0 82.7h.8M430.9 69.1h.8M433.2 73.5h.8M429.6 85.5h.8M427.4 84.0h.8M423.4 68.4h.8M428.0 87.3h.8M428.0 86.6h.8M428.6 77.5h.8M425.4 78.1h.8M432.3 68.8h.8M426.8 88.5h.8M424.8 66.5h.8M426.3 87.5h.8M427.6 84.1h.8M425.9 85.8h.8M425.2 84.9h.8M434.3 86.2h.8M424.0 74.8h.8M425.1 91.5h.8M427.7 71.4h.8M431.1 80.1h.8M425.1 83.1h.8M428.5 76.6h.8M430.8 82.1h.8M423.2 80.9h.8M425.1 68.2h.8M426.0 93.5h.8M426.5 77.0h.8M431.7 82.6h.8M428.6 85.6h.8M427.5 61.4h.8M426.4 68.9h.8M426.7 83.3h.8M423.9 74.9h.8M426.4 87.1h.8M429.1 92.9h.8M434.6 64.3h.8M431.5 74.2h.8M424.5 90.3h.8M429.2 86.8h.8M429.6 76.2h.8M425.7 84.0h.8M433.8 79.2h.8M432.2 83.7h.8M429.7 73.5h.8M434.5 78.5h.8M431.6 70.5h.8M422.5 83.0h.8M423.8 92.4h.8M431.5 80.6h.8M423.5 78.3h.8M429.7 84.5h.8M425.7 85.0h.8M430.4 87.9h.8M431.5 79.3h.8M431.8 89.0h.8M427.6 83.3h.8M429.3 72.5h.8M430.2 70.3h.8M426.0 81.5h.8M425.9 72.0h.8M429.7 74.3h.8M435.0 74.0h.8M431.2 89.7h.8M431.8 69.6h.8M426.2 76.6h.8M424.1 67.2h.8M428.4 85.3h.8M429.1 77.1h.8M428.2 92.8h.8M422.2 87.6h.8M424.5 90.1h.8M422.2 81.3h.8M422.6 85.3h.8M430.1 76.2h.8M429.5 86.7h.8M430.7 93.8h.8M423.4 82.2h.8M429.2 77.7h.8M431.5 77.9h.8M428.8 75.4h.8M426.8 89.7h.8M424.4 76.1h.8M429.8 79.7h.8M429.5 69.1h.8M430.9 71.3h.8M430.0 80.1h.8M428.6 91.8h.8M430.4 90.3h.8M427.8 68.2h.8M434.4 78.0h.8M427.7 76.9h.8M433.6 77.7h.8M431.8 87.6h.8M431.8 79.0h.8M426.1 94.0h.8M423.5 83.0h.8M430.4 74.8h.8M431.9 88.1h.8M433.5 84.6h.8M429.9 78.1h.8M424.7 75.3h.8M423.4 85.2h.8M429.5 69.1h.8M429.7 80.6h.8M425.9 91.5h.8M427.3 86.6h.8M430.0 75.6h.8M427.5 68.0h.8M436.8 90.6h.8M431.1 94.3h.8M429.2 89.9h.8M425.9 63.1h.8M429.3 86.5h.8M424.7 75.4h.8M427.3 92.4h.8M425.6 71.6h.8M427.8 74.4h.8M434.9 77.3h.8M427.2 81.0h.8M432.2 90.3h.8M429.6 85.9h.8M429.6 83.7h.8M427.9 90.5h.8M427.7 86.6h.8M432.2 79.1h.8M429.3 84.4h.8M429.6 79.2h.8M426.7 87.7h.8M432.7 81.8h.8M431.7 86.7h.8M422.6 82.4h.8M429.9 93.2h.8M422.0 76.5h.8M427.1 67.6h.8M434.6 84.0h.8M429.9 80.8h.8M428.6 75.7h.8M426.5 88.4h.8M428.8 82.5h.8M424.8 82.8h.8M429.3 69.4h.8M431.1 65.6h.8M432.9 72.8h.8M428.7 78.9h.8M433.1 87.4h.8M431.8 83.0h.8M431.5 91.2h.8M430.0 73.1h.8M427.1 82.6h.8M422.4 77.3h.8M428.1 74.8h.8M428.7 75.6h.8M431.1 77.9h.8M431.9 86.4h.8M429.3 61.3h.8M430.7 90.1h.8M425.7 93.7h.8M430.1 61.4h.8M430.7 69.5h.8M427.7 86.6h.8M426.9 77.1h.8M425.4 81.6h.8M428.8 79.9h.8M431.7 70.8h.8M425.2 73.5h.8M422.1 88.5h.8M430.0 73.0h.8M430.7 90.3h.8M426.9 59.0h.8M429.9 86.5h.8M428.0 87.5h.8M430.9 78.4h.8M429.1 88.7h.8M428.4 70.4h.8M425.1 63.5h.8M431.9 78.2h.8M433.2 69.8h.8M429.7 69.9h.8M429.4 74.1h.8M433.4 72.1h.8M432.1 75.9h.8M422.5 85.5h.8M427.7 82.6h.8M424.6 69.1h.8M424.2 65.2h.8M429.7 94.7h.8M426.3 74.8h.8M424.0 68.7h.8M427.8 88.3h.8M428.4 76.3h.8M427.9 79.7h.8M430.2 81.9h.8M428.7 90.2h.8M428.8 89.6h.8M426.8 77.9h.8M434.3 85.6h.8M431.0 85.7h.8M425.9 81.8h.8M424.9 82.4h.8M425.5 84.4h.8M428.5 88.5h.8M430.8 83.7h.8M428.3 73.6h.8M431.4 83.3h.8M431.0 87.7h.8M426.5 72.6h.8M432.7 85.5h.8M428.4 90.4h.8M424.9 72.4h.8M427.8 87.7h.8M427.1 70.9h.8M426.0 73.6h.8M426.4 84.6h.8M425.4 88.1h.8M422.6 73.0h.8M430.5 79.8h.8M427.5 82.0h.8M432.0 76.2h.8M426.4 85.7h.8M423.7 87.8h.8M426.7 89.3h.8M426.2 75.5h.8M431.8 76.5h.8M427.0 75.8h.8M431.6 82.7h.8M426.2 62.6h.8M429.6 89.6h.8M424.2 87.4h.8M427.3 77.7h.8M431.2 63.7h.8M423.2 70.4h.8M426.1 85.8h.8M432.6 89.8h.8M429.5 68.5h.8M429.1 64.6h.8M428.6 88.5h.8M427.5 76.2h.8M424.3 86.3h.8M423.6 74.6h.8M422.9 83.9h.8M432.3 87.7h.8M427.0 78.8h.8M427.5 71.1h.8M426.5 84.9h.8M425.8 73.7h.8M433.5 78.9h.8M432.4 66.3h.8M422.7 79.1h.8M428.0 93.3h.8M423.6 74.4h.8M430.9 90.2h.8M422.2 92.0h.8M428.2 89.2h.8M428.1 93.3h.8M427.8 80.3h.8M432.7 76.2h.8M427.5 67.1h.8M431.1 62.4h.8M431.3 77.5h.8M428.4 92.4h.8M425.3 84.7h.8M429.4 73.0h.8M427.8 64.7h.8M427.1 91.6h.8M425.4 81.5h.8M427.5 88.5h.8M429.3 86.7h.8M425.8 91.5h.8M427.6 81.7h.8M433.7 79.8h.8M428.9 73.8h.8M425.4 88.5h.8M427.6 66.3h.8M429.5 81.2h.8M422.9 83.9h.8M432.3 78.1h.8M430.3 84.2h.8M425.2 76.2h.8M429.1 85.1h.8M430.7 89.5h.8M430.4 89.3h.8M429.8 69.7h.8M427.9 88.6h.8M426.4 85.9h.8M425.7 67.7h.8M434.7 86.8h.8M430.1 86.8h.8M427.2 70.1h.8M431.7 78.3h.8M432.9 88.9h.8M429.6 76.9h.8M431.0 86.6h.8M428.5 88.0h.8M430.2 86.5h.8M430.7 73.2h.8M434.0 87.1h.8M426.5 90.4h.8M430.3 73.3h.8M422.1 80.9h.8M427.9 86.3h.8M428.6 67.4h.8M424.5 80.8h.8M427.6 70.0h.8M430.3 82.7h.8M434.0 88.7h.8M425.3 90.4h.8M432.1 91.2h.8M432.3 78.5h.8M431.1 67.7h.8M422.5 62.7h.8M424.0 90.7h.8M428.2 81.3h.8M424.7 85.6h.8M431.1 72.3h.8M433.0 66.3h.8M426.5 70.3h.8M428.7 79.3h.8M428.7 85.0h.8M425.7 84.8h.8M425.4 61.3h.8M427.0 86.6h.8M426.3 64.4h.8M422.0 70.9h.8M425.9 87.6h.8M428.0 91.8h.8M427.6 94.0h.8M431.3 80.8h.8M424.2 74.9h.8M423.2 80.2h.8M425.1 87.0h.8M430.1 65.1h.8M428.2 75.7h.8M423.7 79.2h.8M430.0 67.4h.8M427.4 80.1h.8M425.4 87.2h.8M432.2 70.6h.8M425.6 89.1h.8M423.4 77.1h.8M428.6 73.5h.8M424.8 68.5h.8M425.4 78.4h.8M425.7 89.4h.8M427.2 68.6h.8M431.7 80.2h.8M433.2 78.9h.8M426.7 73.9h.8M426.8 67.1h.8M424.7 86.9h.8M426.9 93.9h.8M423.4 74.0h.8M427.8 76.2h.8M427.3 76.2h.8M426.1 73.5h.8M426.3 78.0h.8M425.1 85.5h.8M430.4 89.0h.8M428.5 81.8h.8M426.5 64.6h.8M428.4 91.7h.8M430.5 76.0h.8M428.6 80.0h.8M433.9 83.9h.8M431.9 87.6h.8M432.7 85.1h.8M424.0 93.2h.8M428.4 71.9h.8M431.5 81.2h.8M429.4 69.3h.8M426.1 86.3h.8M432.4 64.7h.8M428.7 93.4h.8M428.1 86.1h.8M430.0 85.6h.8M430.1 70.5h.8M424.7 92.4h.8M428.1 91.3h.8M432.5 70.1h.8M435.1 73.6h.8M423.0 81.8h.8M431.4 75.6h.8M438.9 78.3h.8M433.2 71.3h.8M430.0 74.5h.8M428.7 90.4h.8M430.3 58.0h.8M431.0 63.1h.8M429.7 58.9h.8M426.0 57.9h.8M427.7 60.4h.8M430.2 64.4h.8M434.8 58.3h.8M434.4 63.1h.8M430.2 60.5h.8M428.8 65.1h.8M434.1 56.7h.8M435.8 91.7h.8M439.6 89.4h.8M442.8 87.9h.8M444.9 85.2h.8M435.5 84.5h.8M442.3 89.7h.8M441.4 90.0h.8M450.2 92.6h.8M432.9 84.5h.8M479.5 77.9h.8" stroke="#000" stroke-width="0.85" stroke-opacity="0.58" fill="none"/>
<path d="M271.3 79.9h.8M269.2 66.3h.8M269.3 80.2h.8M268.9 58.8h.8M270.3 66.4h.8M269.4 90.6h.8M267.8 79.8h.8M271.2 82.9h.8M266.9 71.7h.8M272.4 75.0h.8M268.1 68.5h.8M271.4 77.0h.8M267.7 72.5h.8M271.1 66.1h.8M269.5 93.4h.8M269.9 63.4h.8M267.0 93.8h.8M273.1 83.4h.8M272.0 85.8h.8M268.2 64.5h.8M266.2 77.8h.8M269.7 65.3h.8M267.7 76.5h.8M268.8 72.1h.8M271.8 84.2h.8M269.2 79.4h.8M269.1 75.5h.8M272.1 67.6h.8M269.4 79.1h.8M267.0 63.2h.8M274.1 76.3h.8M269.1 83.4h.8M267.0 74.8h.8M272.7 75.5h.8M291.3 91.1h.8M293.8 63.4h.8M290.2 87.4h.8M288.8 91.6h.8M288.7 92.7h.8M294.3 91.6h.8M295.2 92.0h.8M295.2 66.7h.8M294.7 86.9h.8M290.2 87.4h.8M291.1 78.3h.8M294.1 88.7h.8M286.8 89.2h.8M293.8 80.1h.8M289.1 85.5h.8M290.7 91.4h.8M293.1 93.4h.8M294.0 93.4h.8M290.1 91.7h.8M287.5 86.7h.8M293.1 80.2h.8M292.0 93.1h.8M290.7 81.0h.8M289.9 87.9h.8M288.7 71.4h.8M293.7 93.6h.8M295.1 90.6h.8M292.2 74.1h.8M288.5 91.1h.8M287.4 66.0h.8M291.9 81.8h.8M293.6 81.8h.8M294.2 92.7h.8M289.0 75.8h.8M291.7 91.0h.8M295.2 94.5h.8M288.8 79.7h.8M288.9 63.8h.8M289.6 85.2h.8M293.2 91.3h.8M294.1 86.7h.8M287.9 79.6h.8M293.9 89.1h.8M292.1 79.9h.8M294.9 88.6h.8M295.4 91.4h.8M294.6 92.5h.8M289.7 91.5h.8M290.2 92.8h.8M289.9 89.0h.8M293.3 93.4h.8M294.8 91.7h.8M287.4 85.1h.8M293.0 91.4h.8M295.4 86.2h.8M289.1 79.2h.8M291.7 74.3h.8M294.7 82.6h.8M293.3 86.9h.8M289.8 90.2h.8M293.7 63.8h.8M293.0 75.9h.8M292.4 73.1h.8M296.4 82.0h.8M292.6 86.2h.8M289.1 78.0h.8M289.4 78.7h.8M297.4 90.8h.8M292.4 93.5h.8M291.1 80.8h.8M294.6 88.7h.8M293.2 77.8h.8M294.4 78.8h.8M293.1 91.0h.8M287.1 60.8h.8M291.0 92.9h.8M289.0 85.2h.8M294.0 92.0h.8M291.1 74.9h.8M294.7 55.4h.8M289.1 92.6h.8M294.7 80.4h.8M289.8 91.3h.8M290.9 87.4h.8M295.3 81.4h.8M295.5 84.7h.8M295.0 84.8h.8M293.7 80.8h.8M288.3 81.7h.8M294.0 89.9h.8M294.7 79.7h.8M291.6 93.5h.8M291.2 85.7h.8M294.5 90.4h.8M296.3 67.1h.8M292.4 87.4h.8M286.8 88.6h.8M296.0 92.9h.8M293.8 79.5h.8M293.6 84.9h.8M295.5 88.5h.8M286.9 91.4h.8M292.7 77.6h.8M287.5 58.7h.8M288.3 91.0h.8M288.8 81.1h.8M287.4 85.0h.8M290.4 85.8h.8M294.9 93.1h.8M296.4 88.1h.8M292.6 82.1h.8M290.9 88.8h.8M291.0 77.7h.8M294.5 86.0h.8M294.8 87.6h.8M291.5 71.6h.8M292.4 73.6h.8M292.8 77.2h.8M297.3 92.7h.8M288.9 85.6h.8M295.0 87.8h.8M287.7 88.9h.8M293.4 67.6h.8M294.0 70.8h.8M292.2 87.9h.8M289.4 84.6h.8M290.3 93.3h.8M294.5 89.9h.8M290.9 80.7h.8M295.5 71.4h.8M292.3 77.0h.8M296.6 93.8h.8M338.7 76.0h.8M340.4 66.6h.8M343.9 76.1h.8M339.9 76.4h.8M339.7 72.2h.8M362.0 71.8h.8M358.2 69.9h.8M362.8 69.2h.8M361.8 70.6h.8M359.2 76.1h.8M357.4 70.6h.8M360.7 82.0h.8M363.5 90.7h.8M364.3 70.2h.8M361.4 83.6h.8M360.8 65.5h.8M356.7 70.5h.8M362.7 84.5h.8M361.5 67.2h.8M363.3 78.1h.8M360.6 70.3h.8M359.7 82.3h.8M358.8 93.1h.8M355.9 68.3h.8M356.9 64.3h.8M364.1 68.6h.8M362.2 90.1h.8M362.9 88.3h.8M363.0 62.3h.8M365.8 90.0h.8M364.9 73.6h.8M365.3 70.5h.8M359.7 87.7h.8M359.7 79.2h.8M359.6 91.8h.8M355.4 89.2h.8M358.8 90.6h.8M355.6 89.7h.8M354.2 77.6h.8M356.4 82.8h.8M359.4 88.1h.8M365.0 79.2h.8M366.2 72.5h.8M359.0 88.9h.8M360.3 86.5h.8M361.0 61.4h.8M359.7 82.9h.8M362.5 72.0h.8M363.2 77.1h.8M365.9 84.0h.8M361.7 71.9h.8M358.1 92.3h.8M360.5 76.8h.8M366.7 90.5h.8M362.6 94.3h.8M358.0 77.5h.8M357.2 83.8h.8M359.8 86.2h.8M359.1 86.5h.8M359.8 78.2h.8M356.5 76.4h.8M360.0 84.7h.8M367.5 77.5h.8M363.3 88.1h.8M359.3 66.9h.8M357.8 68.0h.8M358.0 85.1h.8M358.6 74.0h.8M359.2 90.5h.8M360.4 87.1h.8M363.0 84.1h.8M359.1 84.0h.8M359.8 89.2h.8M361.6 94.0h.8M356.7 62.8h.8M358.9 85.4h.8M367.9 77.5h.8M362.9 59.2h.8M357.0 84.6h.8M360.5 74.5h.8M358.2 71.4h.8M365.6 76.9h.8M355.9 80.3h.8M362.7 82.6h.8M362.8 69.8h.8M359.9 90.0h.8M359.6 76.1h.8M362.5 68.9h.8M365.9 77.1h.8M365.6 79.4h.8M364.7 79.6h.8M364.7 76.2h.8M361.4 67.2h.8M356.7 70.2h.8M363.2 70.4h.8M355.6 66.9h.8M366.7 77.3h.8M363.0 86.2h.8M360.5 82.3h.8M354.2 75.5h.8M361.3 81.5h.8M355.2 94.3h.8M361.7 75.3h.8M361.6 87.2h.8M358.6 88.2h.8M362.3 80.0h.8M365.1 72.4h.8M356.5 73.3h.8M361.5 89.2h.8M364.5 68.3h.8M360.3 75.3h.8M356.4 72.3h.8M359.7 82.5h.8M362.0 77.4h.8M363.9 83.5h.8M360.1 64.4h.8M358.7 76.7h.8M358.9 85.1h.8M363.5 80.6h.8M356.7 80.2h.8M368.9 78.4h.8M363.2 61.6h.8M365.3 85.7h.8M360.4 64.4h.8M358.8 75.2h.8M359.6 62.2h.8M364.1 83.4h.8M357.2 80.3h.8M361.5 76.8h.8M359.2 73.1h.8M366.0 87.0h.8M362.9 72.2h.8M356.6 65.5h.8M358.2 87.1h.8M355.3 69.0h.8M357.9 79.8h.8M356.4 81.7h.8M360.0 72.9h.8M357.0 78.3h.8M354.8 77.3h.8M365.4 84.9h.8M359.3 75.2h.8M359.0 72.2h.8M365.7 74.1h.8M361.9 76.2h.8M355.3 74.5h.8M363.8 72.4h.8M363.9 73.8h.8M358.5 77.3h.8M355.4 87.6h.8M360.1 78.8h.8M361.0 75.1h.8M358.0 67.4h.8M362.5 59.0h.8M363.2 92.2h.8M358.8 83.0h.8M359.4 83.4h.8M362.3 88.7h.8M360.6 82.5h.8M357.9 91.0h.8M358.3 76.9h.8M355.1 75.9h.8M357.5 70.8h.8M362.7 69.8h.8M360.0 69.3h.8M366.4 84.1h.8M362.9 79.1h.8M358.1 92.2h.8M359.5 71.9h.8M363.1 90.2h.8M363.0 68.6h.8M363.4 86.2h.8M357.3 77.8h.8M360.8 88.9h.8M364.2 88.2h.8M361.0 78.4h.8M361.0 66.7h.8M362.1 78.2h.8M360.2 82.8h.8M360.9 79.0h.8M363.4 76.7h.8M362.2 74.6h.8M359.5 93.5h.8M365.8 94.5h.8M356.2 91.9h.8M354.8 92.2h.8M360.6 79.3h.8M363.2 91.1h.8M358.8 72.1h.8M359.6 94.2h.8M356.4 88.5h.8M362.6 77.8h.8M355.3 82.0h.8M359.9 70.2h.8M359.2 70.6h.8M366.0 67.8h.8M361.8 89.2h.8M358.8 70.3h.8M362.1 88.2h.8M355.7 80.4h.8M354.6 87.8h.8M360.7 81.5h.8M361.2 72.1h.8M361.9 82.0h.8M355.7 70.9h.8M360.6 86.8h.8M356.7 81.8h.8M358.3 62.5h.8M358.0 81.3h.8M358.5 87.3h.8M359.0 75.6h.8M358.5 73.4h.8M359.9 74.2h.8M357.3 68.5h.8M362.0 72.4h.8M364.8 85.1h.8M357.3 85.3h.8M358.8 90.1h.8M359.5 63.7h.8M357.1 76.7h.8M361.4 93.8h.8M365.9 87.2h.8M365.7 74.4h.8M359.9 76.5h.8M363.4 78.7h.8M365.1 84.0h.8M359.7 84.0h.8M363.8 85.6h.8M357.3 65.7h.8M366.1 74.5h.8M359.8 74.3h.8M357.7 90.0h.8M359.6 85.2h.8M354.5 87.7h.8M357.0 77.1h.8M365.7 79.9h.8M368.7 77.0h.8M365.3 69.8h.8M359.7 63.9h.8M361.1 72.4h.8M358.1 74.5h.8M358.9 84.2h.8M362.2 68.7h.8M361.3 87.5h.8M361.8 75.6h.8M355.3 63.6h.8M362.7 86.3h.8M359.5 70.7h.8M361.5 71.6h.8M357.2 80.9h.8M365.7 79.9h.8M364.5 75.2h.8M360.7 68.2h.8M359.0 88.2h.8M359.5 92.5h.8M357.1 86.0h.8M358.6 74.7h.8M360.3 79.8h.8M363.7 80.1h.8M361.9 61.0h.8M363.3 77.1h.8M356.8 75.5h.8M362.4 69.3h.8M354.9 71.7h.8M358.8 77.7h.8M365.2 79.7h.8M363.4 88.3h.8M361.8 85.4h.8M363.9 81.4h.8M368.1 89.6h.8M362.0 72.6h.8M356.5 86.2h.8M360.2 80.8h.8M357.0 78.5h.8M360.7 73.2h.8M359.7 84.0h.8M358.1 77.7h.8M367.0 83.1h.8M366.6 67.4h.8M355.8 68.0h.8M361.5 89.7h.8M359.5 87.9h.8M365.8 74.6h.8M363.5 89.5h.8M357.3 71.2h.8M363.5 84.4h.8M357.5 76.1h.8M357.7 93.5h.8M362.7 72.4h.8M362.1 83.6h.8M359.9 64.3h.8M358.9 83.5h.8M354.8 84.5h.8M359.8 87.5h.8M365.0 84.3h.8M364.6 75.9h.8M363.3 89.2h.8M360.1 86.7h.8M359.4 75.1h.8M360.1 72.4h.8M361.2 84.3h.8M356.2 75.4h.8M357.1 70.0h.8M359.8 75.5h.8M357.3 75.2h.8M360.8 85.1h.8M366.4 80.7h.8M355.9 66.7h.8M364.3 76.7h.8M364.0 74.4h.8M356.1 84.6h.8M362.5 90.5h.8M361.3 79.7h.8M357.9 74.5h.8M357.3 67.9h.8M360.0 91.1h.8M360.0 94.2h.8M355.2 76.6h.8M357.3 69.2h.8M358.2 75.6h.8M358.3 67.5h.8M363.9 77.9h.8M362.7 86.1h.8M360.1 69.4h.8M361.2 69.5h.8M361.5 82.2h.8M360.2 74.9h.8M359.3 86.9h.8M362.4 81.3h.8M356.6 73.1h.8M360.0 78.0h.8M359.1 72.3h.8M363.7 69.4h.8M362.9 88.7h.8M362.9 94.4h.8M360.4 90.1h.8M360.3 70.9h.8M362.7 74.4h.8M365.5 69.9h.8M360.9 88.2h.8M355.8 76.1h.8M362.9 91.7h.8M369.2 87.3h.8M366.1 86.5h.8M363.6 86.2h.8M358.5 92.3h.8M367.5 77.0h.8M356.7 79.7h.8M363.7 94.1h.8M357.7 67.6h.8M355.3 89.1h.8M357.3 89.1h.8M365.4 85.6h.8M365.6 78.3h.8M356.7 80.8h.8M363.0 89.8h.8M358.5 94.2h.8M360.2 75.0h.8M360.3 78.6h.8M359.6 68.0h.8M364.5 87.9h.8M362.7 59.1h.8M362.5 71.4h.8M361.2 67.9h.8M359.4 74.8h.8M354.4 77.3h.8M363.0 86.4h.8M359.3 66.9h.8M361.5 75.6h.8M357.6 90.5h.8M359.7 84.7h.8M361.7 80.4h.8M359.4 91.5h.8M362.8 78.7h.8M359.8 66.9h.8M363.0 64.4h.8M357.3 82.7h.8M360.5 90.8h.8M354.1 87.0h.8M359.4 88.5h.8M358.1 66.3h.8M363.6 76.2h.8M359.5 90.5h.8M363.9 73.1h.8M358.1 78.6h.8M362.3 73.8h.8M359.6 67.8h.8M362.7 78.1h.8M357.4 78.1h.8M361.0 79.2h.8M355.2 84.5h.8M356.6 91.4h.8M360.0 76.4h.8M361.6 76.6h.8M357.4 75.3h.8M363.0 79.2h.8M359.6 88.5h.8M359.7 80.6h.8M356.1 92.4h.8M362.3 83.2h.8M356.2 70.0h.8M359.0 75.1h.8M362.9 74.7h.8M365.1 76.8h.8M364.2 71.5h.8M366.4 84.4h.8M363.3 68.9h.8M357.1 70.0h.8M355.6 70.4h.8M360.6 84.7h.8M359.6 82.5h.8M359.5 69.2h.8M364.1 82.9h.8M359.2 82.2h.8M364.4 86.4h.8M360.6 60.6h.8M363.4 91.8h.8M358.8 66.4h.8M357.5 79.5h.8M358.3 71.5h.8M361.7 83.8h.8M360.5 67.9h.8M360.0 72.9h.8M356.0 70.7h.8M366.1 76.3h.8M361.1 66.5h.8M359.8 70.5h.8M359.0 85.2h.8M362.6 85.1h.8M359.9 90.7h.8M361.3 80.6h.8M358.9 89.6h.8M362.0 68.2h.8M359.8 79.5h.8M367.1 74.2h.8M357.2 68.5h.8M365.8 70.1h.8M355.3 72.0h.8M360.0 73.2h.8M364.5 64.1h.8M360.9 66.2h.8M361.1 67.3h.8M357.1 77.0h.8M356.8 84.9h.8M359.6 78.9h.8M361.7 92.1h.8M361.9 65.3h.8M365.1 75.4h.8M361.6 69.2h.8M358.0 58.2h.8M363.3 78.3h.8M360.7 94.3h.8M363.0 71.1h.8M361.6 76.9h.8M362.1 72.5h.8M368.3 65.4h.8M364.2 93.3h.8M363.6 86.7h.8M356.8 89.6h.8M365.2 92.1h.8M357.9 85.7h.8M356.6 73.5h.8M364.5 80.4h.8M358.4 87.8h.8M360.2 71.3h.8M360.6 79.9h.8M366.4 77.9h.8M362.4 77.6h.8M354.4 83.4h.8M364.4 74.1h.8M360.9 73.0h.8M360.0 79.1h.8M359.0 85.9h.8M356.5 90.1h.8M364.8 78.1h.8M362.1 77.0h.8M357.1 79.8h.8M357.3 81.7h.8M358.1 83.8h.8M355.2 71.0h.8M364.0 70.7h.8M366.5 78.6h.8M363.7 92.9h.8M359.3 88.4h.8M358.5 66.4h.8M364.5 80.3h.8M358.2 88.1h.8M360.6 87.5h.8M356.5 93.3h.8M355.4 69.9h.8M358.0 71.1h.8M357.2 73.7h.8M357.7 67.1h.8M360.3 82.0h.8M362.9 80.3h.8M354.2 71.1h.8M359.9 72.7h.8M365.0 75.1h.8M356.9 86.0h.8M359.4 78.6h.8M359.7 80.9h.8M363.8 81.3h.8M362.8 81.7h.8M359.0 89.7h.8M362.8 68.2h.8M357.4 87.1h.8M358.1 82.7h.8M355.8 71.4h.8M355.6 80.7h.8M361.1 87.3h.8M354.9 79.0h.8M360.1 93.2h.8M355.9 94.1h.8M360.3 81.2h.8M358.6 68.1h.8M360.3 76.4h.8M357.8 72.6h.8M364.9 83.5h.8M357.4 85.1h.8M360.1 68.7h.8M362.9 80.6h.8M357.8 84.5h.8M358.8 60.2h.8M357.9 94.0h.8M356.1 85.7h.8M379.9 77.4h.8M383.7 78.7h.8M392.8 81.5h.8M392.6 83.7h.8M386.6 91.0h.8M389.4 75.5h.8M383.3 93.7h.8M385.3 71.1h.8M385.8 66.3h.8M390.4 81.9h.8M383.8 74.9h.8M383.4 80.5h.8M391.9 72.4h.8M390.7 81.0h.8M386.6 76.0h.8M383.9 85.2h.8M379.6 68.5h.8M388.4 70.4h.8M386.7 82.6h.8M389.8 77.3h.8M393.2 74.0h.8M391.2 86.3h.8M388.3 76.3h.8M380.8 74.7h.8M388.9 71.4h.8M386.4 73.0h.8M386.0 80.2h.8M381.3 77.6h.8M389.0 73.7h.8M380.7 78.0h.8M388.7 79.8h.8M387.9 69.6h.8M389.6 81.7h.8M396.4 80.3h.8M387.6 83.0h.8M395.9 78.0h.8M386.5 84.6h.8M387.9 91.6h.8M389.9 91.6h.8M391.1 86.2h.8M385.0 89.1h.8M395.1 77.3h.8M389.3 69.1h.8M390.3 74.9h.8M385.8 81.4h.8M384.5 67.0h.8M390.6 76.7h.8M383.2 76.7h.8M391.8 74.5h.8M386.1 71.3h.8M393.1 76.4h.8M429.5 66.3h.8M427.3 74.7h.8M424.4 90.7h.8M428.5 85.9h.8M427.8 84.7h.8M431.2 83.8h.8M429.4 82.2h.8M424.6 78.4h.8M427.1 89.0h.8M433.9 79.3h.8M422.8 89.8h.8M430.9 72.8h.8M431.2 80.8h.8M430.7 89.1h.8M427.1 72.8h.8M429.7 75.9h.8M425.0 77.3h.8M432.4 89.1h.8M424.2 86.5h.8M433.0 71.6h.8M424.1 84.8h.8M424.8 83.5h.8M423.6 89.9h.8M429.2 84.7h.8M424.1 83.3h.8M423.2 92.6h.8M434.3 78.7h.8M428.7 91.0h.8M435.3 85.9h.8M427.9 76.6h.8M422.3 67.7h.8M425.9 77.2h.8M430.4 76.2h.8M430.5 79.6h.8M427.9 74.7h.8M432.0 75.7h.8M431.0 75.0h.8M431.1 84.7h.8M422.9 82.3h.8M426.3 75.9h.8M429.1 85.0h.8M422.1 81.6h.8M430.5 69.8h.8M431.9 74.1h.8M422.5 81.4h.8M428.9 86.2h.8M428.0 71.2h.8M427.3 75.8h.8M433.2 68.0h.8M425.0 70.0h.8M426.9 88.2h.8M426.7 71.2h.8M433.0 74.1h.8M428.6 78.1h.8M436.1 83.6h.8M425.9 78.7h.8M429.6 88.2h.8M424.2 85.0h.8M426.2 72.4h.8M423.5 89.6h.8M429.4 84.7h.8M423.6 84.0h.8M426.0 71.5h.8M428.2 65.3h.8M424.7 79.8h.8M423.6 86.3h.8M427.5 75.3h.8M431.6 78.0h.8M428.0 88.0h.8M425.2 93.2h.8M425.5 86.0h.8M426.8 79.8h.8M424.9 76.0h.8M425.0 86.1h.8M427.3 90.4h.8M422.9 85.3h.8M428.7 83.1h.8M422.6 78.1h.8M424.3 63.9h.8M422.3 86.8h.8M430.2 86.7h.8M425.7 86.2h.8M428.7 70.7h.8M430.0 75.0h.8M434.2 82.1h.8M425.3 72.5h.8M429.9 73.9h.8M424.4 69.5h.8M432.3 89.3h.8M425.3 62.5h.8M427.5 94.0h.8M427.5 85.1h.8M428.3 70.8h.8M425.2 76.5h.8M425.0 88.9h.8M433.0 75.7h.8M424.8 62.4h.8M431.1 84.7h.8M430.9 88.8h.8M427.3 87.9h.8M431.5 82.7h.8M427.1 83.0h.8M427.6 93.8h.8M425.0 82.4h.8M431.5 87.0h.8M429.4 77.8h.8M429.3 69.3h.8M431.8 85.7h.8M430.2 80.2h.8M431.7 84.8h.8M430.0 70.9h.8M428.3 81.4h.8M424.0 92.5h.8M431.9 68.0h.8M431.3 84.5h.8M432.4 75.1h.8M423.6 81.9h.8M431.3 93.1h.8M431.0 83.5h.8M428.7 85.0h.8M428.6 85.4h.8M426.8 89.9h.8M427.3 94.6h.8M425.2 84.6h.8M426.0 84.4h.8M426.6 89.0h.8M428.7 67.4h.8M422.2 76.1h.8M424.4 84.9h.8M424.0 78.7h.8M429.6 89.2h.8M432.4 86.4h.8M431.5 65.9h.8M430.6 77.9h.8M430.7 74.2h.8M431.8 78.4h.8M424.0 69.2h.8M427.7 70.5h.8M436.5 85.8h.8M432.9 71.6h.8M425.2 81.7h.8M429.3 70.0h.8M429.8 68.3h.8M428.8 86.0h.8M430.1 93.7h.8M423.6 78.5h.8M425.9 79.9h.8M426.8 80.9h.8M422.8 91.3h.8M425.8 64.1h.8M427.5 68.7h.8M424.3 69.5h.8M423.0 64.1h.8M430.1 93.9h.8M433.1 94.3h.8M426.9 90.3h.8M427.8 66.7h.8M428.1 69.1h.8M429.3 84.2h.8M428.2 73.2h.8M426.8 92.0h.8M425.9 85.8h.8M430.3 72.7h.8M427.3 81.7h.8M427.2 72.4h.8M432.9 91.6h.8M429.2 76.4h.8M432.1 70.1h.8M426.3 94.7h.8M426.1 72.2h.8M425.1 92.5h.8M433.9 89.4h.8M426.9 87.6h.8M430.7 92.8h.8M427.6 87.5h.8M427.2 75.6h.8M430.3 93.9h.8M423.5 70.4h.8M424.8 78.2h.8M425.2 71.5h.8M430.5 89.1h.8M427.9 80.2h.8M425.3 79.0h.8M431.7 80.1h.8M430.2 77.1h.8M427.0 86.8h.8M428.5 77.3h.8M428.3 76.7h.8M426.8 74.0h.8M430.3 74.8h.8M423.9 79.5h.8M431.0 73.4h.8M428.5 73.6h.8M431.7 80.9h.8M425.8 81.6h.8M425.9 66.1h.8M431.6 73.6h.8M426.7 69.7h.8M432.2 76.2h.8M426.5 78.6h.8M432.1 89.3h.8M432.0 91.8h.8M423.4 78.7h.8M427.0 71.0h.8M430.0 76.3h.8M433.7 91.4h.8M423.6 76.4h.8M433.0 85.9h.8M432.5 80.5h.8M424.7 86.3h.8M430.6 85.2h.8M433.1 84.8h.8M428.4 69.2h.8M432.0 85.7h.8M430.2 78.1h.8M428.1 84.6h.8M430.5 83.2h.8M425.6 84.4h.8M424.6 74.4h.8M431.6 86.5h.8M432.1 74.6h.8M427.7 86.3h.8M429.6 89.4h.8M427.4 89.0h.8M427.2 83.8h.8M425.4 73.0h.8M431.1 85.0h.8M427.3 65.4h.8M424.8 82.1h.8M430.9 88.7h.8M423.7 81.6h.8M435.0 79.0h.8M428.8 84.5h.8M426.9 86.7h.8M432.4 92.0h.8M427.6 90.6h.8M424.1 86.1h.8M426.8 86.1h.8M425.7 69.7h.8M425.5 78.6h.8M433.5 86.2h.8M422.2 83.7h.8M432.1 74.7h.8M431.8 76.0h.8M433.6 86.1h.8M430.5 78.5h.8M434.0 75.4h.8M427.9 72.0h.8M425.7 76.8h.8M430.9 90.7h.8M431.1 87.0h.8M427.1 72.8h.8M432.9 72.4h.8M427.8 76.7h.8M424.1 78.8h.8M425.4 76.9h.8M432.7 79.7h.8M430.2 69.8h.8M424.8 81.4h.8M432.8 93.1h.8M432.2 70.7h.8M423.8 92.2h.8M424.7 68.8h.8M426.9 89.5h.8M423.8 93.2h.8M430.5 85.1h.8M425.7 72.8h.8M423.6 67.9h.8M428.6 84.0h.8M429.8 93.9h.8M429.1 82.4h.8M429.8 93.2h.8M425.6 80.7h.8M426.8 71.7h.8M427.0 87.0h.8M426.6 78.9h.8M423.0 76.2h.8M427.3 73.6h.8M426.9 86.0h.8M431.2 86.3h.8M422.9 76.3h.8M433.6 71.9h.8M427.7 85.3h.8M424.6 73.1h.8M431.7 80.4h.8M429.4 73.1h.8M431.3 68.6h.8M431.9 76.9h.8M429.1 85.2h.8M423.0 87.7h.8M425.5 92.9h.8M431.2 64.1h.8M424.5 77.9h.8M427.9 80.5h.8M422.2 89.1h.8M427.7 81.7h.8M429.2 71.6h.8M425.6 87.3h.8M430.2 73.4h.8M430.6 79.9h.8M425.6 81.4h.8M431.4 75.4h.8M430.2 82.7h.8M433.3 79.7h.8M427.1 67.7h.8M431.2 91.8h.8M423.0 84.8h.8M436.0 75.0h.8M429.7 90.9h.8M431.4 91.4h.8M426.1 90.8h.8M425.4 78.4h.8M429.7 74.9h.8M428.8 82.4h.8M424.3 85.9h.8M429.8 86.2h.8M429.6 84.2h.8M428.9 72.5h.8M432.1 69.2h.8M426.2 85.7h.8M422.2 87.1h.8M429.6 87.0h.8M434.0 72.5h.8M429.6 72.5h.8M428.4 77.0h.8M425.6 72.1h.8M424.0 71.6h.8M423.7 93.4h.8M425.6 74.9h.8M424.7 88.4h.8M431.6 80.0h.8M435.1 85.0h.8M424.0 82.7h.8M431.8 78.8h.8M431.4 67.6h.8M431.9 92.6h.8M429.0 68.5h.8M432.9 88.7h.8M423.3 77.4h.8M439.6 67.6h.8M427.8 78.8h.8M427.8 87.0h.8M428.1 71.9h.8M424.6 74.0h.8M424.9 83.3h.8M425.5 73.5h.8M433.1 88.5h.8M428.1 67.8h.8M432.9 64.0h.8M430.0 80.9h.8M430.4 69.1h.8M424.8 75.9h.8M431.6 56.0h.8M428.4 71.1h.8M422.3 93.5h.8M432.7 56.5h.8M425.5 59.7h.8M427.2 64.0h.8M429.8 67.2h.8M428.2 55.5h.8M428.1 72.0h.8M431.2 65.5h.8M429.8 70.3h.8M430.5 65.2h.8M434.5 57.3h.8M435.9 63.0h.8M440.0 91.4h.8M439.8 86.6h.8M431.7 87.3h.8M445.7 91.6h.8M433.1 86.8h.8M435.5 89.3h.8M442.8 86.5h.8M437.3 93.4h.8M435.2 84.8h.8M435.6 87.4h.8M435.1 90.2h.8M480.5 75.0h.8M481.7 74.1h.8" stroke="#000" stroke-width="0.85" stroke-opacity="0.58" fill="none"/>
<path d="M269.3 85.0h.8M266.3 87.2h.8M271.3 76.5h.8M267.0 91.2h.8M266.2 83.2h.8M268.8 73.4h.8M267.2 76.4h.8M272.7 77.9h.8M271.5 69.4h.8M275.1 68.0h.8M266.3 76.0h.8M271.9 76.9h.8M266.3 75.1h.8M266.7 78.9h.8M268.6 81.9h.8M266.5 78.1h.8M274.2 57.9h.8M263.8 76.0h.8M272.1 77.1h.8M270.5 88.9h.8M272.1 70.6h.8M266.5 64.0h.8M269.7 82.2h.8M273.1 76.1h.8M266.0 66.7h.8M269.5 60.3h.8M270.8 86.0h.8M273.1 79.0h.8M267.0 87.4h.8M268.5 65.3h.8M273.1 92.7h.8M271.6 75.2h.8M271.3 70.4h.8M269.9 91.4h.8M267.7 88.5h.8M268.8 74.0h.8M268.8 93.6h.8M270.8 62.8h.8M271.1 84.3h.8M264.1 68.3h.8M266.4 88.5h.8M269.1 71.5h.8M270.7 82.3h.8M270.8 66.0h.8M271.2 73.2h.8M290.4 54.9h.8M294.9 94.6h.8M290.7 55.0h.8M292.2 85.9h.8M289.8 83.7h.8M297.6 89.8h.8M289.9 59.5h.8M287.6 93.5h.8M295.2 90.1h.8M292.4 72.7h.8M288.7 79.3h.8M295.2 93.0h.8M295.6 72.2h.8M290.9 90.9h.8M291.6 84.1h.8M287.5 87.6h.8M295.3 92.5h.8M295.1 94.1h.8M292.8 88.5h.8M295.4 64.9h.8M294.0 86.9h.8M291.1 76.0h.8M291.2 94.1h.8M294.6 88.1h.8M294.7 85.6h.8M290.6 90.5h.8M292.1 89.8h.8M289.8 88.4h.8M295.9 85.6h.8M287.5 89.6h.8M294.0 87.5h.8M290.2 55.5h.8M289.3 86.8h.8M287.9 85.8h.8M291.6 86.8h.8M292.0 71.0h.8M296.3 81.2h.8M293.9 94.3h.8M295.6 80.6h.8M289.4 87.4h.8M287.1 87.4h.8M296.4 86.1h.8M287.2 89.4h.8M289.8 59.9h.8M292.6 92.5h.8M289.2 84.6h.8M291.5 88.2h.8M294.8 67.1h.8M292.8 94.0h.8M288.7 61.1h.8M288.6 70.9h.8M286.9 77.1h.8M289.3 60.1h.8M292.7 59.1h.8M296.6 92.5h.8M291.7 92.8h.8M288.4 82.2h.8M289.4 92.3h.8M292.3 92.5h.8M293.0 88.4h.8M296.0 84.6h.8M295.2 92.8h.8M294.2 93.6h.8M291.8 92.6h.8M295.6 87.4h.8M291.9 94.5h.8M290.1 90.7h.8M290.3 84.2h.8M287.8 88.3h.8M289.1 88.3h.8M287.9 73.3h.8M288.1 75.0h.8M291.9 85.9h.8M290.6 90.9h.8M288.0 58.4h.8M289.4 93.8h.8M293.9 73.8h.8M291.8 63.5h.8M293.1 64.3h.8M290.0 91.5h.8M294.6 93.7h.8M296.2 53.8h.8M290.3 83.1h.8M291.7 92.5h.8M288.1 90.9h.8M290.0 92.3h.8M291.9 83.2h.8M292.2 92.3h.8M288.5 91.9h.8M297.7 68.9h.8M289.3 81.0h.8M288.5 86.3h.8M293.9 84.7h.8M292.7 81.4h.8M290.3 93.8h.8M293.3 93.9h.8M290.7 89.6h.8M292.9 76.6h.8M290.0 93.0h.8M294.3 83.8h.8M291.6 91.7h.8M287.6 88.5h.8M288.8 87.5h.8M292.2 90.2h.8M289.1 93.8h.8M291.2 89.6h.8M292.7 94.0h.8M290.2 90.0h.8M294.4 88.9h.8M292.9 91.4h.8M292.7 91.0h.8M287.9 85.1h.8M294.1 85.1h.8M289.5 93.8h.8M289.5 76.5h.8M293.4 94.1h.8M290.8 92.2h.8M288.7 89.4h.8M291.3 88.1h.8M290.0 94.3h.8M288.8 84.5h.8M293.7 84.0h.8M290.3 75.2h.8M288.9 82.4h.8M293.9 93.3h.8M292.9 88.9h.8M289.0 90.0h.8M340.0 80.4h.8M341.7 81.9h.8M339.6 67.5h.8M343.9 85.1h.8M339.7 74.3h.8M339.2 72.7h.8M340.9 79.4h.8M339.6 70.9h.8M340.5 83.3h.8M337.0 68.4h.8M356.8 67.1h.8M363.7 88.9h.8M360.0 89.9h.8M360.6 62.7h.8M364.6 82.1h.8M363.2 69.8h.8M360.5 89.2h.8M361.2 73.2h.8M361.3 90.6h.8M359.3 76.2h.8M358.6 69.9h.8M357.9 81.8h.8M364.4 68.5h.8M360.7 74.2h.8M362.5 81.4h.8M365.0 80.2h.8M358.5 64.8h.8M355.5 77.3h.8M363.0 88.6h.8M359.5 88.3h.8M359.8 73.9h.8M358.4 88.7h.8M357.8 73.5h.8M362.9 76.1h.8M357.2 94.5h.8M361.8 94.2h.8M358.3 60.0h.8M359.0 74.3h.8M356.6 86.3h.8M363.8 77.1h.8M360.7 78.5h.8M358.7 90.8h.8M361.0 65.7h.8M356.5 71.8h.8M360.5 89.4h.8M362.6 83.6h.8M361.4 88.6h.8M360.1 75.3h.8M364.5 90.9h.8M360.3 82.4h.8M354.9 85.3h.8M361.4 72.4h.8M357.3 68.6h.8M365.4 65.1h.8M368.6 77.3h.8M359.4 83.6h.8M361.1 65.6h.8M354.4 72.2h.8M363.4 79.7h.8M357.9 82.6h.8M360.7 86.4h.8M363.6 68.4h.8M364.1 74.4h.8M356.5 82.2h.8M358.5 71.2h.8M356.3 71.9h.8M357.3 74.7h.8M361.1 73.9h.8M355.0 84.4h.8M360.1 69.1h.8M363.0 92.1h.8M357.0 66.2h.8M362.4 76.8h.8M355.2 87.2h.8M362.8 69.1h.8M355.7 80.4h.8M358.7 93.2h.8M364.0 75.0h.8M364.8 87.1h.8M362.1 79.5h.8M366.0 72.0h.8M360.5 73.4h.8M361.6 91.0h.8M358.9 60.6h.8M364.0 78.8h.8M357.1 79.2h.8M354.6 70.5h.8M359.5 64.5h.8M358.0 66.8h.8M354.3 72.3h.8M358.4 77.7h.8M364.3 73.8h.8M361.1 72.8h.8M359.3 78.7h.8M356.7 62.0h.8M354.3 81.6h.8M357.2 64.7h.8M362.5 91.1h.8M361.3 90.8h.8M357.9 94.0h.8M357.2 80.5h.8M364.2 93.8h.8M362.2 75.4h.8M359.5 76.5h.8M355.4 65.2h.8M363.2 90.6h.8M358.4 79.9h.8M366.8 76.0h.8M360.2 77.0h.8M356.4 70.1h.8M356.7 81.6h.8M365.5 76.6h.8M355.3 64.0h.8M363.0 84.4h.8M357.2 83.5h.8M357.1 81.7h.8M359.0 86.9h.8M359.5 62.4h.8M364.0 75.9h.8M356.1 86.5h.8M365.5 92.6h.8M364.4 75.7h.8M361.6 65.7h.8M362.6 89.8h.8M364.0 82.6h.8M359.7 75.4h.8M362.8 86.5h.8M355.3 80.3h.8M363.9 78.0h.8M354.2 78.1h.8M360.1 75.4h.8M361.0 79.5h.8M358.8 61.2h.8M361.2 73.7h.8M356.3 93.5h.8M367.1 86.3h.8M361.1 81.7h.8M358.5 80.2h.8M362.4 81.5h.8M361.9 78.0h.8M358.2 78.5h.8M359.1 59.6h.8M364.1 85.8h.8M357.1 82.0h.8M363.6 71.0h.8M356.7 74.5h.8M360.0 88.0h.8M366.3 79.7h.8M357.3 76.8h.8M358.7 76.4h.8M359.3 76.6h.8M354.4 92.6h.8M357.2 92.0h.8M357.0 79.8h.8M360.2 88.5h.8M359.0 62.4h.8M359.7 77.8h.8M360.4 85.7h.8M365.9 75.9h.8M359.7 73.0h.8M366.5 76.5h.8M359.7 73.1h.8M365.4 72.7h.8M355.0 73.1h.8M362.7 74.7h.8M365.4 77.3h.8M362.5 88.8h.8M354.4 89.7h.8M357.8 68.3h.8M361.2 84.0h.8M357.3 86.7h.8M363.9 79.2h.8M360.6 65.2h.8M368.8 68.2h.8M358.6 72.4h.8M358.9 86.4h.8M357.1 80.3h.8M358.4 86.8h.8M360.7 81.1h.8M360.8 69.8h.8M363.4 79.5h.8M360.7 86.1h.8M360.0 72.7h.8M360.7 89.4h.8M358.4 68.8h.8M360.6 73.6h.8M363.4 64.9h.8M359.3 82.6h.8M354.6 93.4h.8M361.7 88.0h.8M356.1 79.4h.8M358.2 89.2h.8M358.4 71.2h.8M362.1 89.4h.8M364.1 84.0h.8M359.3 83.6h.8M361.8 75.1h.8M361.7 71.0h.8M366.4 86.9h.8M362.6 82.8h.8M358.7 90.5h.8M358.7 70.1h.8M363.1 78.1h.8M363.4 92.9h.8M356.6 68.4h.8M362.6 65.1h.8M359.8 63.7h.8M360.6 66.9h.8M364.5 76.7h.8M363.5 72.8h.8M359.1 65.1h.8M357.2 62.0h.8M365.5 79.9h.8M362.2 73.6h.8M360.1 76.8h.8M358.8 77.9h.8M360.1 88.6h.8M365.7 76.8h.8M362.7 69.4h.8M363.4 86.8h.8M367.7 73.5h.8M356.3 79.9h.8M357.4 83.8h.8M360.5 73.9h.8M356.0 83.8h.8M361.7 72.7h.8M358.0 70.1h.8M359.5 67.9h.8M362.8 76.2h.8M355.6 83.1h.8M360.2 73.7h.8M368.9 81.5h.8M354.5 79.8h.8M357.3 69.4h.8M363.0 74.8h.8M361.8 77.4h.8M358.7 75.2h.8M358.6 61.9h.8M359.0 63.1h.8M359.1 65.7h.8M362.3 76.2h.8M357.8 90.4h.8M362.4 66.3h.8M357.6 79.3h.8M363.3 91.0h.8M359.1 78.8h.8M355.4 67.6h.8M357.5 85.7h.8M360.1 62.8h.8M365.9 73.5h.8M358.2 70.0h.8M358.1 78.4h.8M362.4 83.9h.8M355.8 67.1h.8M357.1 74.5h.8M358.9 66.9h.8M363.3 88.1h.8M357.2 64.5h.8M356.7 90.5h.8M357.9 81.2h.8M356.9 66.1h.8M363.6 71.4h.8M362.9 84.5h.8M365.6 87.0h.8M357.5 76.9h.8M360.5 73.0h.8M361.9 89.5h.8M358.6 73.5h.8M363.6 83.8h.8M355.9 88.3h.8M361.1 70.8h.8M357.2 67.3h.8M357.2 59.1h.8M362.4 63.5h.8M364.1 85.2h.8M360.2 79.0h.8M360.6 69.6h.8M357.8 72.7h.8M357.8 79.3h.8M359.9 66.8h.8M361.1 75.0h.8M356.2 82.2h.8M357.2 82.0h.8M359.8 64.2h.8M358.0 88.2h.8M361.2 94.0h.8M367.4 73.5h.8M359.6 69.8h.8M357.5 72.0h.8M356.7 77.5h.8M365.3 72.4h.8M355.6 84.9h.8M359.2 70.2h.8M357.6 87.1h.8M364.1 81.2h.8M359.0 88.1h.8M364.0 66.9h.8M363.4 72.1h.8M360.9 81.4h.8M362.1 92.7h.8M360.2 71.5h.8M356.5 80.9h.8M360.9 73.7h.8M362.0 74.1h.8M356.1 88.2h.8M363.1 88.0h.8M365.9 79.1h.8M361.8 89.3h.8M363.0 65.4h.8M357.9 78.6h.8M363.3 61.3h.8M357.6 84.0h.8M358.6 90.5h.8M360.0 94.3h.8M355.7 77.1h.8M357.8 72.0h.8M358.3 82.4h.8M355.4 81.8h.8M356.9 82.6h.8M360.0 69.7h.8M358.0 71.3h.8M357.4 92.4h.8M357.8 68.8h.8M358.4 70.0h.8M361.0 67.6h.8M363.0 81.3h.8M366.5 90.7h.8M358.3 75.0h.8M362.4 82.0h.8M359.2 89.5h.8M363.2 86.3h.8M359.6 69.7h.8M362.0 90.1h.8M358.2 82.3h.8M358.5 93.9h.8M363.0 65.9h.8M360.1 80.0h.8M356.5 86.0h.8M363.7 75.9h.8M361.4 71.3h.8M362.6 74.0h.8M364.1 91.1h.8M364.9 77.0h.8M358.9 69.7h.8M361.9 90.5h.8M358.6 78.2h.8M357.3 86.4h.8M364.4 85.0h.8M357.0 73.7h.8M358.2 83.8h.8M359.6 85.8h.8M354.2 92.3h.8M363.1 68.5h.8M361.2 91.9h.8M363.3 87.2h.8M359.0 79.6h.8M358.5 82.8h.8M358.2 81.7h.8M358.7 94.0h.8M362.7 63.2h.8M362.0 81.1h.8M357.6 83.7h.8M363.9 89.0h.8M360.9 71.3h.8M357.6 74.4h.8M360.2 71.6h.8M361.3 65.7h.8M359.5 84.1h.8M365.1 69.9h.8M361.8 73.4h.8M365.8 84.6h.8M360.9 73.5h.8M357.2 84.4h.8M364.5 91.6h.8M356.8 83.6h.8M361.3 62.5h.8M355.7 82.7h.8M360.0 93.2h.8M357.7 90.9h.8M358.1 85.9h.8M362.3 67.8h.8M358.2 83.7h.8M358.1 84.1h.8M358.1 69.8h.8M357.5 83.6h.8M363.0 60.2h.8M361.3 76.3h.8M358.5 88.9h.8M361.7 78.3h.8M360.8 85.8h.8M355.5 78.1h.8M361.5 94.5h.8M362.2 63.9h.8M360.3 93.8h.8M367.7 76.4h.8M360.1 76.1h.8M365.7 81.5h.8M357.9 70.1h.8M359.9 83.4h.8M362.6 81.3h.8M363.7 67.8h.8M361.2 79.9h.8M363.0 67.6h.8M359.5 93.7h.8M355.5 89.4h.8M364.4 70.6h.8M357.9 84.6h.8M355.9 76.0h.8M362.1 66.3h.8M364.1 79.6h.8M359.6 91.9h.8M357.3 84.9h.8M356.4 77.2h.8M357.7 76.7h.8M357.2 76.6h.8M357.9 58.1h.8M362.7 83.7h.8M357.6 90.5h.8M362.3 83.0h.8M358.7 88.1h.8M361.7 65.8h.8M358.3 77.3h.8M363.9 91.5h.8M358.2 82.3h.8M363.3 74.3h.8M355.8 70.2h.8M362.4 79.7h.8M364.6 87.4h.8M359.9 76.5h.8M365.3 73.9h.8M357.7 88.8h.8M357.0 77.4h.8M359.4 92.6h.8M357.8 72.4h.8M359.7 91.2h.8M359.3 73.3h.8M364.4 63.0h.8M359.2 81.7h.8M364.0 84.8h.8M358.1 73.7h.8M362.1 76.8h.8M356.1 79.6h.8M355.9 89.9h.8M360.2 92.9h.8M365.0 77.7h.8M361.1 92.3h.8M357.5 60.2h.8M359.6 81.8h.8M359.8 80.3h.8M364.7 89.4h.8M360.0 88.6h.8M362.5 83.9h.8M363.4 77.1h.8M361.6 79.3h.8M356.4 76.9h.8M359.0 80.0h.8M355.7 71.4h.8M360.3 88.6h.8M364.9 81.0h.8M359.3 86.9h.8M364.4 72.9h.8M365.9 84.3h.8M360.6 69.7h.8M358.1 72.1h.8M360.9 72.4h.8M355.2 68.4h.8M363.1 83.4h.8M356.3 74.7h.8M365.3 82.5h.8M356.6 64.8h.8M358.4 80.9h.8M358.5 81.0h.8M355.8 78.6h.8M365.8 89.5h.8M358.6 77.4h.8M361.1 75.8h.8M359.8 84.6h.8M359.3 87.3h.8M358.2 86.2h.8M356.2 88.5h.8M387.6 85.4h.8M379.6 72.6h.8M392.4 84.5h.8M390.6 71.3h.8M394.3 71.0h.8M393.4 72.2h.8M391.7 62.8h.8M393.6 85.4h.8M395.8 76.9h.8M389.9 64.0h.8M383.9 83.4h.8M386.9 74.1h.8M379.6 85.2h.8M391.1 65.0h.8M384.3 78.3h.8M386.8 80.5h.8M385.6 75.6h.8M394.7 89.7h.8M384.2 70.5h.8M382.0 75.5h.8M385.2 85.4h.8M384.7 83.0h.8M383.0 67.3h.8M382.4 77.4h.8M397.4 72.4h.8M396.0 78.6h.8M381.8 91.1h.8M380.1 74.2h.8M390.8 87.0h.8M397.5 70.4h.8M395.9 85.1h.8M379.1 65.4h.8M381.9 81.0h.8M390.2 84.3h.8M375.3 78.1h.8M386.0 63.0h.8M386.8 58.9h.8M381.9 82.6h.8M384.7 80.2h.8M383.3 86.8h.8M379.8 85.7h.8M390.8 81.1h.8M385.7 70.7h.8M386.7 74.1h.8M383.2 86.2h.8M393.6 73.8h.8M390.1 73.4h.8M390.6 79.0h.8M390.8 70.1h.8M423.8 70.2h.8M432.3 90.3h.8M428.7 80.3h.8M431.5 73.5h.8M422.3 85.3h.8M429.3 75.7h.8M423.2 88.0h.8M435.7 83.0h.8M430.5 75.3h.8M429.3 92.2h.8M427.7 79.6h.8M431.0 73.4h.8M428.9 91.4h.8M430.8 81.6h.8M428.8 85.7h.8M428.9 81.5h.8M431.2 76.7h.8M432.6 68.2h.8M432.2 85.5h.8M426.6 82.5h.8M432.3 83.5h.8M422.6 77.2h.8M423.4 81.1h.8M429.2 69.2h.8M431.7 75.1h.8M431.0 88.1h.8M431.2 81.4h.8M424.1 84.9h.8M428.9 80.9h.8M428.0 73.1h.8M425.6 93.3h.8M430.8 71.1h.8M423.4 82.9h.8M435.5 86.7h.8M429.9 73.3h.8M426.8 82.2h.8M428.7 92.6h.8M428.1 73.7h.8M423.7 93.7h.8M424.6 76.3h.8M427.6 68.3h.8M426.6 89.3h.8M424.8 85.0h.8M429.1 78.9h.8M429.8 75.1h.8M426.9 76.4h.8M431.4 89.3h.8M432.9 76.6h.8M423.2 68.7h.8M425.1 77.2h.8M427.0 84.1h.8M425.3 83.0h.8M431.2 73.4h.8M422.3 83.6h.8M430.1 71.3h.8M428.0 89.2h.8M426.0 78.7h.8M429.7 92.3h.8M432.6 82.0h.8M428.3 81.5h.8M429.3 94.7h.8M430.5 73.1h.8M424.8 84.3h.8M426.4 65.5h.8M425.5 86.4h.8M435.7 84.2h.8M433.4 82.0h.8M434.0 77.1h.8M431.8 83.6h.8M431.7 80.9h.8M429.4 91.1h.8M428.8 72.1h.8M427.0 82.6h.8M429.6 79.5h.8M427.0 88.1h.8M424.2 86.3h.8M428.7 79.2h.8M437.3 83.5h.8M425.0 82.6h.8M425.1 81.5h.8M427.5 84.1h.8M431.5 85.2h.8M426.3 87.8h.8M424.9 75.8h.8M425.3 82.7h.8M424.3 61.7h.8M430.4 71.4h.8M430.6 73.5h.8M429.8 82.1h.8M427.2 80.2h.8M427.0 71.4h.8M425.1 76.0h.8M427.2 72.5h.8M422.7 83.6h.8M428.4 83.4h.8M429.6 80.3h.8M427.1 80.6h.8M426.1 76.5h.8M426.9 90.8h.8M423.6 64.2h.8M429.5 77.1h.8M431.8 79.2h.8M425.3 67.7h.8M424.4 68.2h.8M425.4 82.6h.8M426.7 89.6h.8M424.7 63.6h.8M431.7 78.2h.8M430.9 78.7h.8M432.7 78.4h.8M430.6 80.9h.8M426.1 77.7h.8M426.7 81.6h.8M427.8 72.4h.8M428.5 81.2h.8M428.4 92.5h.8M431.8 90.3h.8M430.1 80.6h.8M434.4 91.6h.8M425.6 78.2h.8M429.7 69.9h.8M429.3 86.1h.8M423.9 72.2h.8M425.6 83.7h.8M432.3 81.4h.8M427.6 71.7h.8M424.5 68.7h.8M426.4 75.0h.8M429.3 74.1h.8M431.4 72.9h.8M425.1 79.2h.8M426.4 73.3h.8M432.6 81.9h.8M432.4 84.1h.8M422.5 87.7h.8M429.4 84.3h.8M432.7 92.8h.8M430.2 76.3h.8M427.1 58.4h.8M432.6 82.0h.8M424.9 73.6h.8M430.5 79.9h.8M423.9 71.5h.8M427.9 86.7h.8M428.1 70.3h.8M427.4 80.6h.8M422.1 78.4h.8M428.9 76.3h.8M427.4 90.4h.8M424.6 68.6h.8M428.4 83.7h.8M428.7 76.9h.8M430.9 89.9h.8M422.1 87.8h.8M430.8 76.4h.8M428.7 93.0h.8M424.3 78.3h.8M425.3 75.2h.8M425.1 76.3h.8M427.9 70.7h.8M428.7 80.6h.8M425.8 85.0h.8M429.0 70.4h.8M432.6 73.3h.8M433.5 89.8h.8M432.7 85.9h.8M433.0 82.4h.8M422.8 90.7h.8M433.6 78.1h.8M426.0 77.6h.8M426.5 87.5h.8M432.4 81.3h.8M428.9 84.8h.8M424.6 73.5h.8M427.5 82.9h.8M426.4 73.4h.8M425.0 91.7h.8M429.3 88.9h.8M428.2 93.6h.8M422.4 91.2h.8M430.1 79.4h.8M429.9 82.6h.8M427.2 85.7h.8M424.3 94.5h.8M427.1 68.4h.8M429.2 67.4h.8M435.1 84.6h.8M428.8 91.7h.8M424.8 94.3h.8M433.0 70.1h.8M429.6 71.0h.8M423.7 88.4h.8M423.8 71.9h.8M430.0 81.1h.8M428.2 77.7h.8M428.8 81.6h.8M423.8 71.8h.8M429.0 92.0h.8M433.8 80.0h.8M430.8 73.3h.8M424.4 78.1h.8M432.2 92.3h.8M431.1 89.4h.8M423.5 92.6h.8M434.6 80.9h.8M429.0 88.5h.8M427.3 69.0h.8M430.9 79.6h.8M423.9 80.1h.8M429.2 70.2h.8M426.7 69.6h.8M428.9 76.0h.8M427.3 74.1h.8M434.1 69.9h.8M426.3 78.5h.8M425.2 72.2h.8M430.1 66.6h.8M429.4 83.4h.8M428.7 67.9h.8M431.7 82.3h.8M429.3 79.1h.8M424.7 80.5h.8M424.0 75.1h.8M424.3 74.1h.8M429.1 86.0h.8M427.6 70.5h.8M432.8 82.9h.8M423.9 91.8h.8M430.9 71.6h.8M428.5 93.3h.8M422.5 92.2h.8M422.5 76.7h.8M426.9 90.5h.8M427.9 70.5h.8M427.2 86.6h.8M427.4 76.2h.8M428.0 91.0h.8M433.5 76.8h.8M430.6 72.6h.8M432.6 87.9h.8M435.1 74.2h.8M424.9 66.0h.8M431.7 78.2h.8M425.1 71.2h.8M430.0 89.6h.8M429.5 82.1h.8M429.0 78.7h.8M433.4 74.5h.8M430.4 67.1h.8M425.1 78.3h.8M428.1 86.0h.8M423.4 87.3h.8M430.5 83.8h.8M429.1 71.5h.8M429.8 90.5h.8M426.0 88.7h.8M427.3 67.8h.8M425.4 78.8h.8M427.7 71.4h.8M421.9 84.9h.8M424.4 71.4h.8M424.3 70.0h.8M423.5 88.4h.8M426.4 86.9h.8M428.8 72.5h.8M425.0 93.9h.8M427.1 71.9h.8M432.1 83.3h.8M430.0 86.5h.8M429.6 83.2h.8M427.4 91.8h.8M423.7 88.0h.8M427.3 88.3h.8M430.0 86.8h.8M429.3 90.3h.8M426.3 77.3h.8M428.5 66.0h.8M429.1 62.4h.8M431.0 76.7h.8M429.8 71.9h.8M429.0 81.1h.8M426.7 76.1h.8M432.6 84.2h.8M429.0 92.4h.8M423.6 66.4h.8M429.8 79.2h.8M430.4 74.7h.8M425.8 71.0h.8M425.1 87.2h.8M426.9 71.2h.8M429.2 83.3h.8M431.4 91.6h.8M428.2 85.0h.8M431.6 76.9h.8M425.0 85.7h.8M427.6 72.3h.8M433.3 88.6h.8M424.0 81.6h.8M431.8 74.8h.8M430.5 74.6h.8M426.5 71.6h.8M429.8 90.0h.8M428.6 74.3h.8M429.8 82.4h.8M429.1 77.1h.8M427.7 91.6h.8M430.2 78.5h.8M425.4 88.1h.8M428.4 75.7h.8M427.8 80.9h.8M427.9 83.1h.8M422.3 76.4h.8M424.6 82.8h.8M424.9 78.6h.8M433.6 80.1h.8M431.8 92.9h.8M422.8 77.9h.8M431.5 80.7h.8M430.9 81.5h.8M426.9 76.1h.8M430.4 89.8h.8M427.4 80.9h.8M428.4 86.6h.8M426.4 67.6h.8M426.8 69.0h.8M426.6 65.5h.8M428.2 76.1h.8M430.1 83.8h.8M436.8 76.6h.8M434.0 65.9h.8M432.6 83.2h.8M435.2 70.5h.8M432.8 83.3h.8M435.1 72.0h.8M423.8 60.0h.8M429.5 84.0h.8M426.7 80.1h.8M428.6 65.5h.8M442.6 70.4h.8M429.9 84.6h.8M425.9 84.3h.8M434.0 75.9h.8M433.0 77.1h.8M430.2 91.6h.8M423.8 76.1h.8M431.0 62.4h.8M429.2 66.9h.8M428.1 61.0h.8M431.5 60.6h.8M428.3 55.9h.8M430.7 45.6h.8M429.5 53.0h.8M441.9 92.3h.8M435.8 93.9h.8M437.1 91.9h.8M441.4 90.9h.8M428.7 92.3h.8M439.1 89.9h.8M432.6 85.5h.8M430.1 92.0h.8M435.1 89.6h.8M444.3 89.5h.8M441.7 92.6h.8M440.7 87.3h.8M431.1 94.0h.8M438.5 94.0h.8M428.7 87.8h.8M477.8 69.4h.8M479.5 76.3h.8" stroke="#000" stroke-width="0.85" stroke-opacity="0.58" fill="none"/>
<path d="M270.3 90.0h.8M270.3 83.5h.8M272.1 79.6h.8M272.8 81.2h.8M273.0 80.0h.8M267.7 81.4h.8M270.7 83.6h.8M267.3 80.5h.8M269.1 71.2h.8M267.9 76.7h.8M273.9 70.1h.8M268.2 86.0h.8M271.7 75.0h.8M265.5 77.4h.8M267.7 77.3h.8M269.8 78.8h.8M270.5 73.9h.8M266.4 70.6h.8M267.5 61.6h.8M266.4 74.4h.8M268.0 71.4h.8M272.0 76.2h.8M270.6 77.3h.8M268.8 83.9h.8M268.1 74.4h.8M271.9 83.6h.8M268.8 68.8h.8M271.1 63.6h.8M272.5 83.5h.8M269.9 88.4h.8M268.4 74.3h.8M270.5 83.5h.8M268.9 71.4h.8M275.3 88.1h.8M272.4 86.4h.8M272.7 84.9h.8M270.4 77.2h.8M266.7 67.0h.8M270.6 79.0h.8M264.6 72.3h.8M276.4 80.9h.8M270.7 73.8h.8M297.5 92.1h.8M288.5 86.7h.8M293.3 93.9h.8M289.5 89.5h.8M289.2 83.3h.8M290.8 91.8h.8M295.5 55.6h.8M296.7 78.6h.8M289.1 84.6h.8M289.1 90.4h.8M291.7 82.5h.8M291.1 90.8h.8M296.4 78.3h.8M296.1 92.1h.8M292.6 91.8h.8M290.9 62.0h.8M293.3 72.9h.8M292.1 92.2h.8M288.7 91.8h.8M288.5 72.4h.8M290.0 64.2h.8M288.4 80.0h.8M289.2 88.9h.8M291.7 71.7h.8M290.0 91.7h.8M288.9 91.9h.8M293.3 58.0h.8M293.4 92.7h.8M288.2 83.9h.8M291.9 79.0h.8M294.4 94.1h.8M294.0 90.2h.8M289.1 86.5h.8M291.1 91.8h.8M290.1 90.8h.8M289.2 93.7h.8M288.6 92.9h.8M293.2 93.5h.8M292.3 79.1h.8M290.2 90.7h.8M289.7 86.8h.8M290.1 93.9h.8M293.0 73.5h.8M290.7 93.2h.8M292.6 84.3h.8M295.8 91.9h.8M289.4 88.9h.8M292.3 88.4h.8M288.7 82.4h.8M289.3 93.7h.8M294.8 79.9h.8M297.3 90.6h.8M288.1 89.9h.8M292.5 78.2h.8M295.3 88.2h.8M289.4 90.9h.8M290.2 77.9h.8M290.7 76.2h.8M292.3 86.4h.8M290.9 88.5h.8M288.7 82.0h.8M289.0 86.5h.8M290.9 84.3h.8M296.6 82.1h.8M289.5 90.0h.8M294.2 82.3h.8M290.0 80.7h.8M289.3 78.6h.8M290.6 93.4h.8M293.2 86.2h.8M291.7 87.4h.8M294.4 92.0h.8M289.6 84.5h.8M290.7 93.9h.8M292.2 85.1h.8M293.2 92.4h.8M291.8 90.4h.8M289.1 85.8h.8M290.5 94.0h.8M291.7 93.0h.8M290.3 93.6h.8M288.7 72.6h.8M292.1 89.2h.8M291.4 91.7h.8M295.5 68.7h.8M288.2 91.5h.8M291.8 85.7h.8M290.5 83.8h.8M290.6 89.6h.8M292.4 84.0h.8M292.8 93.0h.8M297.3 81.2h.8M295.1 91.3h.8M295.0 90.0h.8M294.8 94.5h.8M293.0 85.2h.8M292.9 76.2h.8M295.0 62.2h.8M294.6 91.8h.8M337.5 93.2h.8M344.9 63.9h.8M342.5 86.1h.8M340.9 81.3h.8M339.5 71.4h.8M336.6 86.6h.8M339.0 71.8h.8M342.0 76.6h.8M336.1 84.0h.8M361.5 88.0h.8M361.0 69.5h.8M367.7 68.2h.8M361.7 82.2h.8M355.1 80.2h.8M361.5 71.4h.8M360.4 69.4h.8M360.3 83.2h.8M361.6 84.0h.8M364.4 72.2h.8M361.6 88.2h.8M361.2 74.6h.8M355.2 88.7h.8M359.6 61.7h.8M362.1 63.1h.8M355.2 77.4h.8M360.9 80.1h.8M357.3 72.5h.8M364.9 81.6h.8M361.9 63.5h.8M355.9 86.2h.8M357.9 69.8h.8M363.1 79.4h.8M354.4 73.2h.8M363.6 59.6h.8M360.4 78.8h.8M359.3 87.3h.8M356.0 70.8h.8M360.3 71.2h.8M359.1 72.3h.8M356.3 82.6h.8M354.7 71.4h.8M360.2 83.5h.8M364.6 73.6h.8M356.3 91.0h.8M363.0 86.6h.8M361.8 68.9h.8M362.4 72.8h.8M360.9 75.2h.8M359.6 84.3h.8M362.0 84.4h.8M358.3 83.9h.8M363.3 73.8h.8M361.4 92.1h.8M361.0 72.6h.8M354.4 74.7h.8M359.4 78.0h.8M359.6 82.8h.8M364.8 83.2h.8M360.1 79.7h.8M359.4 89.5h.8M359.8 77.3h.8M355.9 87.9h.8M355.8 70.6h.8M363.0 73.7h.8M355.9 93.7h.8M357.6 80.6h.8M358.3 71.9h.8M364.1 91.8h.8M363.1 79.4h.8M358.8 88.6h.8M355.0 65.2h.8M365.7 82.8h.8M362.1 86.0h.8M364.2 84.6h.8M362.4 74.9h.8M366.6 78.7h.8M357.9 74.7h.8M357.7 83.2h.8M364.7 71.0h.8M362.2 80.6h.8M361.7 73.9h.8M354.4 86.9h.8M355.7 84.5h.8M355.3 88.4h.8M364.3 86.6h.8M357.2 68.0h.8M357.1 68.9h.8M356.0 70.7h.8M361.6 64.5h.8M357.8 90.0h.8M363.0 91.2h.8M357.4 72.9h.8M360.0 75.3h.8M361.8 78.9h.8M360.8 73.0h.8M364.9 89.7h.8M362.1 84.7h.8M365.7 75.6h.8M362.6 78.1h.8M365.6 67.5h.8M357.4 72.2h.8M358.4 79.9h.8M358.9 72.8h.8M362.9 80.5h.8M360.1 75.7h.8M359.2 93.3h.8M367.1 83.4h.8M356.1 69.6h.8M358.5 69.7h.8M367.1 79.3h.8M354.7 82.9h.8M366.2 75.8h.8M357.1 82.2h.8M359.5 75.6h.8M360.3 87.7h.8M361.7 88.2h.8M362.2 69.8h.8M359.9 70.2h.8M363.0 68.2h.8M354.1 73.7h.8M363.9 78.9h.8M362.2 71.7h.8M362.7 66.0h.8M363.7 90.1h.8M357.6 67.3h.8M364.1 91.5h.8M360.8 74.2h.8M362.2 85.0h.8M361.8 63.0h.8M356.0 84.6h.8M361.8 81.5h.8M357.6 67.5h.8M356.8 78.3h.8M357.4 69.3h.8M357.7 88.5h.8M362.1 74.1h.8M360.2 85.1h.8M364.4 63.9h.8M356.3 72.2h.8M364.2 69.8h.8M354.9 86.9h.8M356.1 81.5h.8M358.2 93.3h.8M358.3 73.7h.8M356.6 75.4h.8M358.5 89.2h.8M358.8 82.6h.8M365.1 63.8h.8M361.6 84.3h.8M357.0 92.4h.8M364.7 84.6h.8M362.2 71.6h.8M357.9 69.4h.8M366.2 87.0h.8M358.8 85.8h.8M360.7 79.1h.8M363.7 75.3h.8M354.4 79.1h.8M359.0 85.1h.8M359.3 71.5h.8M362.8 89.4h.8M363.0 86.2h.8M363.9 75.1h.8M359.2 68.6h.8M365.8 81.1h.8M360.3 91.2h.8M362.9 70.7h.8M365.2 75.9h.8M360.9 70.9h.8M366.5 74.5h.8M359.7 78.5h.8M356.1 73.8h.8M364.6 85.4h.8M357.8 72.2h.8M358.8 77.7h.8M366.6 88.3h.8M364.7 72.6h.8M364.4 81.3h.8M358.7 69.9h.8M360.7 70.7h.8M360.9 78.5h.8M359.3 71.3h.8M356.0 65.4h.8M358.0 92.2h.8M363.6 89.6h.8M362.8 85.5h.8M360.1 75.0h.8M359.7 61.5h.8M358.8 91.8h.8M360.1 64.6h.8M360.2 67.0h.8M365.5 82.2h.8M363.4 93.6h.8M354.5 79.6h.8M354.5 76.8h.8M356.9 92.9h.8M362.4 78.6h.8M363.6 60.4h.8M363.8 68.9h.8M358.1 80.4h.8M360.0 85.0h.8M362.6 93.5h.8M356.5 76.9h.8M359.4 87.3h.8M358.5 72.1h.8M356.5 77.0h.8M360.0 80.8h.8M357.5 84.8h.8M357.3 73.6h.8M359.5 80.3h.8M365.7 79.6h.8M359.8 86.8h.8M356.5 79.1h.8M358.3 75.2h.8M360.1 86.1h.8M359.0 78.6h.8M354.7 66.7h.8M357.0 58.5h.8M359.2 72.4h.8M356.3 86.7h.8M360.8 72.2h.8M364.7 79.3h.8M357.7 85.1h.8M364.0 79.3h.8M355.1 83.4h.8M357.7 67.4h.8M358.0 80.9h.8M363.0 78.3h.8M355.4 81.7h.8M356.7 76.4h.8M357.0 71.7h.8M356.5 78.6h.8M361.7 53.5h.8M359.2 67.2h.8M357.9 76.6h.8M358.7 74.8h.8M362.3 88.6h.8M367.4 86.2h.8M364.0 65.4h.8M358.3 77.9h.8M357.4 81.0h.8M354.7 78.8h.8M363.0 73.0h.8M362.7 88.7h.8M363.9 67.9h.8M355.3 86.7h.8M359.8 70.8h.8M365.9 85.8h.8M357.4 77.1h.8M366.9 88.4h.8M356.1 70.0h.8M362.6 56.4h.8M358.9 77.0h.8M354.9 85.6h.8M357.4 67.9h.8M359.5 67.0h.8M363.9 90.7h.8M358.4 86.2h.8M363.2 84.8h.8M358.3 84.2h.8M366.7 83.3h.8M359.1 75.6h.8M365.0 68.6h.8M363.8 88.6h.8M357.5 64.4h.8M361.6 73.7h.8M364.7 68.6h.8M366.9 73.4h.8M357.2 64.0h.8M359.4 85.1h.8M355.1 74.4h.8M361.9 68.6h.8M362.9 90.7h.8M358.7 73.8h.8M355.4 75.1h.8M366.8 91.1h.8M367.3 66.4h.8M359.5 94.5h.8M356.0 74.0h.8M356.1 82.1h.8M365.5 76.4h.8M356.0 83.0h.8M362.2 81.5h.8M359.4 90.9h.8M364.0 92.6h.8M359.3 87.7h.8M357.6 87.2h.8M363.5 73.6h.8M358.3 83.2h.8M360.8 88.4h.8M360.2 64.4h.8M362.1 69.3h.8M365.3 75.8h.8M362.7 65.8h.8M357.9 62.0h.8M368.6 85.0h.8M359.9 73.3h.8M365.7 81.3h.8M355.7 82.8h.8M364.1 87.5h.8M363.8 75.4h.8M361.9 58.1h.8M363.1 91.3h.8M361.7 68.5h.8M361.8 80.3h.8M363.3 80.2h.8M360.2 76.1h.8M360.4 87.8h.8M365.1 68.1h.8M364.3 74.7h.8M359.7 78.4h.8M362.5 86.4h.8M359.5 90.9h.8M359.4 81.6h.8M357.6 80.3h.8M364.2 92.8h.8M355.3 81.9h.8M359.9 86.4h.8M360.7 86.9h.8M363.6 78.9h.8M358.4 80.1h.8M360.4 73.2h.8M358.6 79.8h.8M358.6 93.8h.8M356.0 83.1h.8M365.2 92.5h.8M358.8 81.1h.8M363.8 87.4h.8M356.0 73.3h.8M362.9 86.9h.8M359.7 89.0h.8M361.3 71.7h.8M363.0 82.4h.8M359.6 69.8h.8M366.7 75.1h.8M362.2 70.5h.8M354.3 75.4h.8M364.9 82.4h.8M356.2 82.6h.8M356.7 65.4h.8M365.3 84.3h.8M362.2 73.9h.8M360.6 84.5h.8M355.8 74.4h.8M363.5 75.8h.8M358.7 90.0h.8M364.5 73.2h.8M356.0 75.2h.8M359.1 58.1h.8M362.4 63.5h.8M362.7 71.2h.8M356.2 78.1h.8M359.0 73.4h.8M365.4 70.2h.8M360.8 80.3h.8M362.3 91.9h.8M360.8 74.1h.8M357.7 74.8h.8M362.0 85.5h.8M357.2 67.3h.8M359.6 69.1h.8M361.4 74.2h.8M359.4 90.9h.8M358.8 83.7h.8M357.4 77.3h.8M356.8 80.8h.8M364.6 89.5h.8M361.3 88.4h.8M360.9 68.4h.8M355.9 75.0h.8M354.3 88.9h.8M359.8 73.1h.8M357.7 72.1h.8M358.4 82.5h.8M358.6 75.5h.8M360.7 66.8h.8M359.9 67.5h.8M358.7 82.1h.8M358.1 59.5h.8M354.4 76.8h.8M360.3 73.8h.8M357.0 84.6h.8M360.1 69.4h.8M360.5 65.3h.8M356.7 87.0h.8M365.9 85.8h.8M359.3 73.2h.8M356.0 90.8h.8M361.1 83.6h.8M356.5 76.2h.8M358.3 66.3h.8M360.7 78.2h.8M362.2 77.9h.8M359.0 90.5h.8M356.9 68.7h.8M357.2 89.6h.8M362.7 84.5h.8M357.3 79.8h.8M360.7 85.1h.8M357.0 67.6h.8M361.3 71.5h.8M357.2 85.0h.8M357.0 80.9h.8M365.0 74.3h.8M360.1 81.0h.8M361.7 86.7h.8M360.4 87.8h.8M365.0 77.0h.8M364.7 70.0h.8M355.7 83.4h.8M354.4 74.2h.8M355.0 91.8h.8M359.8 94.2h.8M356.6 71.5h.8M356.7 66.2h.8M359.6 86.5h.8M361.3 75.2h.8M362.9 88.7h.8M363.1 71.1h.8M359.2 92.7h.8M357.2 80.8h.8M358.0 73.5h.8M360.7 69.2h.8M356.4 73.9h.8M366.7 77.3h.8M358.7 84.4h.8M360.0 84.5h.8M358.2 82.1h.8M361.9 87.4h.8M359.4 74.3h.8M358.1 77.7h.8M359.5 88.6h.8M360.8 86.7h.8M356.4 91.3h.8M363.2 83.7h.8M363.3 70.4h.8M361.6 78.3h.8M359.1 72.1h.8M362.1 79.2h.8M362.4 88.8h.8M361.9 69.3h.8M363.2 67.9h.8M363.1 83.7h.8M354.1 68.2h.8M360.3 77.1h.8M364.1 82.5h.8M363.4 93.2h.8M361.4 86.1h.8M360.2 63.9h.8M367.5 91.8h.8M355.2 67.2h.8M355.9 91.8h.8M364.0 92.5h.8M355.7 81.9h.8M365.1 82.1h.8M357.4 73.7h.8M357.2 90.0h.8M361.6 68.6h.8M357.5 85.8h.8M354.9 82.4h.8M358.8 68.4h.8M358.0 69.1h.8M362.3 74.6h.8M355.9 80.1h.8M359.0 75.7h.8M361.5 84.6h.8M362.1 72.2h.8M358.0 84.2h.8M362.6 78.9h.8M364.9 80.5h.8M356.8 75.7h.8M363.6 62.3h.8M354.8 80.6h.8M360.8 64.5h.8M362.2 82.8h.8M363.9 81.4h.8M357.4 84.2h.8M355.1 79.1h.8M356.9 79.1h.8M360.9 81.0h.8M363.4 84.5h.8M359.2 79.2h.8M364.0 70.0h.8M363.6 85.2h.8M355.1 65.2h.8M367.2 87.2h.8M356.0 70.8h.8M363.0 81.8h.8M361.0 77.7h.8M363.7 71.7h.8M357.9 80.9h.8M361.2 85.7h.8M359.5 71.5h.8M361.1 91.1h.8M363.6 69.9h.8M361.4 78.3h.8M362.4 93.1h.8M356.6 94.2h.8M354.6 73.9h.8M364.7 87.1h.8M363.2 76.7h.8M360.8 77.1h.8M364.6 82.5h.8M361.1 90.8h.8M367.4 80.5h.8M361.0 70.7h.8M362.0 85.3h.8M356.9 79.8h.8M360.5 56.8h.8M362.1 79.2h.8M364.4 68.5h.8M363.8 66.2h.8M362.6 62.1h.8M361.9 84.8h.8M363.1 87.1h.8M360.3 86.0h.8M363.0 89.1h.8M357.2 76.8h.8M357.1 81.9h.8M359.4 71.1h.8M366.3 89.2h.8M364.6 80.2h.8M360.7 90.7h.8M364.7 87.6h.8M357.8 82.4h.8M357.3 92.6h.8M365.7 68.6h.8M363.2 88.6h.8M367.0 82.4h.8M359.4 76.4h.8M359.4 65.4h.8M364.3 73.3h.8M362.7 85.7h.8M360.3 70.9h.8M356.0 78.5h.8M359.7 70.6h.8M357.0 71.5h.8M363.5 62.0h.8M364.2 87.0h.8M362.5 80.5h.8M364.4 71.2h.8M361.7 71.2h.8M357.0 83.4h.8M360.5 79.3h.8M363.9 71.2h.8M366.1 82.3h.8M358.3 90.6h.8M356.6 90.0h.8M356.4 82.5h.8M356.1 69.8h.8M358.0 89.7h.8M379.1 81.1h.8M388.3 73.8h.8M386.5 77.8h.8M386.6 69.1h.8M391.7 81.5h.8M378.2 75.8h.8M388.2 80.8h.8M383.3 67.4h.8M387.0 73.1h.8M392.4 78.8h.8M379.4 88.4h.8M387.7 77.3h.8M389.6 82.0h.8M386.6 78.1h.8M394.1 65.8h.8M388.8 86.3h.8M389.0 72.9h.8M384.9 76.7h.8M393.7 84.2h.8M381.4 86.8h.8M385.7 70.2h.8M393.2 69.6h.8M382.5 82.7h.8M380.4 76.1h.8M393.9 78.9h.8M391.5 76.4h.8M387.0 87.3h.8M390.2 72.4h.8M381.4 75.7h.8M382.2 75.8h.8M379.6 82.6h.8M394.4 60.6h.8M390.4 88.6h.8M382.8 83.6h.8M386.7 73.1h.8M387.3 61.9h.8M387.0 75.4h.8M388.9 92.7h.8M380.1 78.9h.8M390.9 91.0h.8M386.2 73.7h.8M381.9 80.8h.8M387.4 75.7h.8M391.0 89.6h.8M385.2 63.6h.8M383.0 88.8h.8M385.1 70.8h.8M389.2 91.6h.8M391.7 73.8h.8M396.0 89.5h.8M385.1 75.9h.8M395.3 72.7h.8M383.9 84.2h.8M383.2 83.0h.8M389.8 81.3h.8M385.7 72.3h.8M380.5 88.3h.8M396.9 84.7h.8M394.6 88.9h.8M388.8 84.1h.8M388.3 72.9h.8M385.4 72.1h.8M425.5 79.4h.8M431.3 81.4h.8M429.8 89.8h.8M434.5 75.9h.8M430.4 91.0h.8M434.6 81.3h.8M430.0 66.8h.8M429.5 72.9h.8M423.7 79.1h.8M424.4 88.1h.8M422.5 77.2h.8M427.9 76.8h.8M425.4 81.2h.8M430.4 83.4h.8M432.5 69.7h.8M431.9 93.9h.8M430.0 61.9h.8M426.7 91.5h.8M431.0 91.8h.8M422.7 88.6h.8M427.9 89.6h.8M431.2 82.7h.8M423.7 83.0h.8M429.8 89.8h.8M435.3 89.3h.8M429.8 75.4h.8M425.6 85.3h.8M426.1 68.4h.8M433.2 83.2h.8M431.6 80.4h.8M432.0 77.5h.8M424.1 78.2h.8M427.9 90.7h.8M428.6 78.6h.8M427.7 86.0h.8M425.5 72.6h.8M430.0 73.1h.8M425.2 64.3h.8M430.1 86.9h.8M430.1 72.5h.8M426.6 85.5h.8M429.8 67.9h.8M432.8 78.7h.8M431.3 84.2h.8M424.7 87.3h.8M428.6 71.6h.8M430.6 92.8h.8M431.3 88.6h.8M433.1 79.5h.8M430.5 84.7h.8M428.1 78.5h.8M426.3 88.8h.8M435.6 84.8h.8M427.6 85.8h.8M430.0 84.3h.8M426.6 91.1h.8M430.4 81.8h.8M431.3 69.9h.8M423.7 86.3h.8M427.3 77.8h.8M430.8 75.6h.8M429.1 73.9h.8M432.2 82.1h.8M427.0 76.5h.8M424.1 85.6h.8M424.6 77.4h.8M431.1 84.7h.8M432.7 92.7h.8M428.3 74.8h.8M426.7 89.6h.8M423.3 78.9h.8M426.7 81.0h.8M430.5 75.0h.8M431.2 73.4h.8M426.9 88.1h.8M431.4 81.3h.8M431.5 83.7h.8M429.5 85.2h.8M430.4 82.2h.8M431.9 76.6h.8M425.5 73.9h.8M422.2 72.2h.8M427.8 89.4h.8M428.2 92.7h.8M430.4 87.9h.8M431.5 81.1h.8M429.7 93.4h.8M427.0 69.4h.8M430.9 77.9h.8M425.8 84.0h.8M433.4 75.2h.8M427.0 85.5h.8M430.8 78.9h.8M424.7 77.7h.8M423.8 94.0h.8M430.9 82.6h.8M429.3 71.5h.8M424.0 86.5h.8M427.7 70.8h.8M426.9 71.4h.8M431.9 76.5h.8M427.1 72.1h.8M428.2 82.6h.8M428.7 88.9h.8M429.0 80.1h.8M429.8 75.9h.8M428.2 78.1h.8M431.0 84.0h.8M423.9 68.6h.8M429.4 82.6h.8M424.5 68.8h.8M426.6 93.5h.8M426.6 76.8h.8M431.0 84.6h.8M430.7 72.8h.8M429.1 78.8h.8M426.7 86.7h.8M425.2 77.0h.8M424.3 81.3h.8M429.2 78.7h.8M422.4 84.6h.8M428.1 94.4h.8M428.9 65.4h.8M429.4 69.9h.8M433.4 81.3h.8M422.8 72.8h.8M428.6 92.7h.8M428.2 87.0h.8M429.8 72.6h.8M426.9 84.9h.8M429.0 77.2h.8M433.8 87.1h.8M433.7 82.9h.8M429.2 63.4h.8M423.6 85.2h.8M425.9 77.0h.8M430.7 79.0h.8M424.7 80.9h.8M424.6 86.7h.8M427.6 73.1h.8M429.1 76.9h.8M428.3 94.6h.8M430.7 80.0h.8M429.1 72.0h.8M428.4 75.7h.8M430.2 88.2h.8M429.1 77.3h.8M429.4 85.3h.8M427.6 61.0h.8M423.7 66.5h.8M430.6 74.6h.8M424.7 88.3h.8M428.2 88.2h.8M426.6 90.9h.8M433.3 71.0h.8M430.2 77.3h.8M426.1 70.2h.8M428.3 81.7h.8M431.3 80.3h.8M432.9 90.9h.8M424.2 84.6h.8M432.4 84.0h.8M430.4 76.3h.8M426.7 73.6h.8M425.1 73.3h.8M422.7 78.2h.8M431.9 63.4h.8M426.2 72.1h.8M429.6 77.1h.8M425.9 87.0h.8M433.4 75.3h.8M427.1 78.0h.8M424.4 77.8h.8M432.3 90.4h.8M424.6 81.7h.8M429.9 74.6h.8M425.7 94.5h.8M426.7 94.5h.8M426.7 72.4h.8M427.9 86.7h.8M430.4 87.4h.8M427.4 63.0h.8M436.0 72.7h.8M432.0 85.1h.8M423.1 70.0h.8M429.9 64.2h.8M430.1 71.9h.8M428.6 67.3h.8M431.8 80.7h.8M424.9 86.2h.8M424.2 79.4h.8M432.4 77.2h.8M429.5 94.3h.8M426.4 81.8h.8M432.2 85.3h.8M427.2 94.4h.8M424.5 76.9h.8M425.2 93.7h.8M424.4 82.6h.8M424.4 74.9h.8M430.4 80.5h.8M424.8 83.1h.8M429.8 85.4h.8M426.8 88.6h.8M431.0 79.4h.8M424.8 86.7h.8M426.1 73.6h.8M430.8 89.8h.8M427.5 74.6h.8M425.4 87.8h.8M424.3 93.3h.8M428.6 80.7h.8M426.9 71.5h.8M432.0 81.3h.8M424.7 81.3h.8M426.0 83.9h.8M429.1 85.4h.8M422.7 77.0h.8M425.5 93.3h.8M430.2 88.0h.8M431.1 87.2h.8M429.8 85.5h.8M432.1 60.0h.8M427.9 71.8h.8M426.4 91.7h.8M431.2 72.6h.8M429.7 65.8h.8M429.0 93.3h.8M423.1 74.7h.8M429.0 86.4h.8M434.4 82.5h.8M426.4 61.0h.8M424.4 80.9h.8M423.7 70.0h.8M426.5 67.2h.8M427.4 88.6h.8M432.0 72.9h.8M427.2 71.0h.8M429.4 70.9h.8M426.3 80.2h.8M429.1 76.6h.8M430.7 86.4h.8M428.1 92.9h.8M425.0 73.8h.8M430.1 84.0h.8M427.6 66.3h.8M427.3 87.1h.8M430.9 89.1h.8M426.0 82.3h.8M425.5 88.0h.8M433.6 84.4h.8M430.2 79.0h.8M423.9 80.5h.8M428.4 76.0h.8M427.3 86.9h.8M426.0 80.2h.8M424.9 87.7h.8M430.6 81.9h.8M430.5 83.6h.8M427.2 76.1h.8M429.7 80.9h.8M430.6 62.5h.8M428.3 80.9h.8M429.5 71.2h.8M423.2 76.2h.8M431.8 74.4h.8M423.2 86.2h.8M432.7 82.4h.8M427.6 68.7h.8M425.2 71.1h.8M424.6 85.7h.8M427.6 62.6h.8M424.4 70.9h.8M431.3 90.0h.8M422.7 77.7h.8M429.9 69.1h.8M426.7 90.8h.8M429.7 77.6h.8M430.1 77.0h.8M423.7 76.4h.8M429.4 69.2h.8M428.7 70.2h.8M424.3 89.5h.8M429.3 81.3h.8M433.6 79.1h.8M425.8 75.3h.8M429.8 77.3h.8M426.7 83.4h.8M429.1 89.3h.8M423.8 79.2h.8M426.9 70.3h.8M430.3 84.2h.8M430.9 76.7h.8M428.7 88.2h.8M427.7 64.0h.8M431.8 79.8h.8M432.4 77.3h.8M432.6 77.0h.8M429.0 87.0h.8M427.8 89.2h.8M433.6 76.7h.8M431.2 83.9h.8M428.7 87.3h.8M429.8 68.1h.8M424.2 67.7h.8M425.2 72.3h.8M432.3 76.8h.8M429.7 68.9h.8M425.4 80.0h.8M426.0 77.3h.8M431.1 76.2h.8M426.6 78.5h.8M433.4 90.7h.8M427.4 90.0h.8M429.8 81.3h.8M429.1 79.4h.8M422.2 74.1h.8M426.6 70.7h.8M426.2 76.3h.8M433.5 76.6h.8M430.9 78.9h.8M434.9 78.5h.8M432.0 91.4h.8M423.4 83.9h.8M442.8 83.1h.8M434.3 83.9h.8M438.3 84.9h.8M433.0 84.7h.8M426.8 80.0h.8M433.4 88.2h.8M423.2 75.3h.8M434.3 78.1h.8M429.0 73.5h.8M425.0 75.7h.8M438.1 84.8h.8M425.5 50.4h.8M428.6 82.4h.8M434.3 78.4h.8M429.2 84.9h.8M427.3 75.9h.8M426.9 67.2h.8M429.4 77.4h.8M428.2 88.6h.8M428.4 65.3h.8M430.9 94.7h.8M432.8 78.5h.8M434.2 73.0h.8M438.0 79.9h.8M429.5 69.2h.8M430.7 73.8h.8M432.6 75.1h.8M427.8 80.5h.8M428.8 59.6h.8M435.5 52.6h.8M429.7 64.9h.8M432.6 60.4h.8M431.2 57.3h.8M433.0 54.3h.8M431.0 59.7h.8M427.3 57.3h.8M430.2 67.4h.8M436.7 60.5h.8M431.3 70.3h.8M424.4 52.6h.8M428.8 55.3h.8M436.0 88.0h.8M435.1 91.5h.8M445.1 90.8h.8M435.2 90.3h.8M434.2 94.8h.8M436.7 88.2h.8M444.4 89.3h.8M430.6 86.8h.8M431.9 90.5h.8M441.7 91.9h.8M432.3 86.9h.8M448.1 84.7h.8M435.0 91.9h.8M437.9 94.9h.8M432.1 89.7h.8M478.7 66.7h.8" stroke="#000" stroke-width="0.85" stroke-opacity="0.58" fill="none"/>
<path d="M272.8 70.5h.8M266.0 71.6h.8M266.3 78.4h.8M268.5 80.0h.8M271.9 78.1h.8M272.5 82.9h.8M273.7 69.3h.8M268.5 74.4h.8M268.2 68.5h.8M270.5 86.4h.8M270.3 77.9h.8M270.9 86.8h.8M271.7 78.9h.8M268.2 80.6h.8M271.7 69.7h.8M269.9 75.5h.8M274.2 74.5h.8M269.4 75.1h.8M267.9 90.5h.8M269.8 67.2h.8M271.5 81.2h.8M273.6 82.2h.8M273.7 71.3h.8M270.2 56.5h.8M270.6 87.5h.8M270.5 65.5h.8M271.9 72.2h.8M266.8 72.9h.8M288.9 69.2h.8M295.7 93.9h.8M288.5 80.3h.8M293.6 83.3h.8M290.2 87.7h.8M295.6 92.8h.8M294.0 77.9h.8M287.1 92.4h.8M294.1 91.6h.8M292.7 92.3h.8M287.9 93.0h.8M295.2 58.7h.8M293.6 87.1h.8M288.2 88.1h.8M292.1 77.9h.8M290.5 92.1h.8M295.9 84.1h.8M289.7 75.7h.8M292.5 69.0h.8M293.2 88.0h.8M296.3 93.6h.8M290.5 92.1h.8M295.0 91.4h.8M293.9 91.2h.8M291.2 77.4h.8M294.0 67.1h.8M292.4 71.4h.8M293.0 65.3h.8M289.4 87.7h.8M290.7 86.3h.8M295.0 84.6h.8M292.4 66.8h.8M290.3 89.5h.8M298.3 93.0h.8M291.4 94.4h.8M287.4 92.0h.8M296.0 94.5h.8M291.8 90.9h.8M292.7 92.8h.8M296.1 86.3h.8M289.8 83.9h.8M290.0 94.3h.8M293.3 73.5h.8M293.0 93.5h.8M293.1 92.0h.8M289.4 91.5h.8M289.7 86.1h.8M296.9 90.9h.8M290.6 90.5h.8M295.4 83.1h.8M287.6 91.7h.8M292.3 87.1h.8M294.4 82.8h.8M288.6 89.5h.8M287.0 78.6h.8M290.1 93.0h.8M290.8 80.8h.8M289.6 92.3h.8M288.3 90.4h.8M294.7 88.2h.8M289.0 87.8h.8M293.8 63.2h.8M288.2 84.7h.8M289.8 86.9h.8M289.3 91.2h.8M289.9 92.5h.8M294.4 80.3h.8M288.6 64.1h.8M289.0 88.5h.8M288.0 94.4h.8M295.1 92.9h.8M288.9 83.1h.8M290.9 89.4h.8M287.2 93.4h.8M294.4 74.3h.8M291.2 70.9h.8M290.1 90.1h.8M295.6 78.7h.8M296.3 92.5h.8M287.0 89.8h.8M291.9 92.7h.8M293.7 88.6h.8M294.4 94.5h.8M293.1 88.5h.8M292.4 81.6h.8M293.3 94.1h.8M288.9 88.8h.8M291.4 88.9h.8M294.5 93.7h.8M294.9 90.7h.8M294.6 86.8h.8M294.7 80.9h.8M292.7 72.8h.8M289.0 93.9h.8M289.3 85.5h.8M293.8 93.7h.8M289.0 87.3h.8M290.9 85.6h.8M287.8 92.9h.8M296.0 85.5h.8M290.8 86.9h.8M288.5 91.4h.8M291.7 92.4h.8M291.9 81.0h.8M290.3 91.3h.8M294.1 91.3h.8M287.2 70.8h.8M287.6 67.7h.8M292.7 93.9h.8M295.2 75.8h.8M288.5 85.5h.8M293.5 69.1h.8M294.2 86.6h.8M291.6 83.5h.8M292.2 88.0h.8M297.8 67.7h.8M289.7 77.8h.8M294.4 84.3h.8M294.8 81.7h.8M288.2 82.0h.8M296.4 92.4h.8M293.6 91.7h.8M292.1 54.3h.8M291.6 94.2h.8M290.3 93.0h.8M292.4 92.5h.8M292.0 63.9h.8M288.4 91.8h.8M288.9 80.1h.8M292.0 69.8h.8M294.2 77.1h.8M292.7 91.5h.8M291.0 87.8h.8M290.5 57.4h.8M338.3 82.6h.8M344.9 73.2h.8M340.7 73.5h.8M367.2 68.8h.8M357.5 75.1h.8M364.2 84.8h.8M363.7 70.8h.8M361.0 84.2h.8M355.7 73.4h.8M358.7 81.6h.8M359.0 94.2h.8M368.5 81.1h.8M360.1 74.8h.8M358.3 90.4h.8M358.7 94.1h.8M359.2 78.2h.8M363.5 81.8h.8M357.2 85.0h.8M359.2 87.5h.8M362.9 82.2h.8M358.2 87.5h.8M358.7 71.3h.8M361.3 88.0h.8M354.4 64.6h.8M355.0 71.9h.8M355.6 81.5h.8M358.0 85.8h.8M356.2 83.6h.8M357.8 82.4h.8M359.7 79.6h.8M361.0 58.0h.8M364.6 74.7h.8M355.5 75.5h.8M368.5 86.5h.8M363.3 71.4h.8M362.7 80.2h.8M363.1 80.1h.8M357.4 81.6h.8M357.4 71.6h.8M356.1 87.6h.8M358.1 83.6h.8M359.7 73.9h.8M363.2 85.5h.8M359.9 90.6h.8M367.0 71.8h.8M356.8 62.0h.8M360.9 65.9h.8M356.2 70.4h.8M357.6 90.4h.8M355.7 77.9h.8M359.7 72.9h.8M361.8 76.5h.8M363.4 92.8h.8M361.8 67.4h.8M363.6 68.8h.8M364.2 84.5h.8M357.0 65.6h.8M354.5 91.2h.8M355.5 64.9h.8M358.4 84.0h.8M359.8 90.9h.8M358.1 83.9h.8M366.6 75.7h.8M359.6 88.8h.8M361.2 84.0h.8M361.8 70.4h.8M364.1 82.7h.8M358.1 67.1h.8M362.7 77.0h.8M359.0 88.7h.8M355.5 72.8h.8M355.6 76.8h.8M363.8 90.8h.8M358.2 69.2h.8M360.5 71.4h.8M354.3 86.2h.8M354.8 72.2h.8M360.8 66.6h.8M364.3 86.8h.8M363.3 86.2h.8M360.6 76.0h.8M362.3 72.8h.8M357.9 77.6h.8M362.3 92.3h.8M359.1 67.6h.8M359.2 87.2h.8M369.4 81.7h.8M364.9 79.6h.8M356.6 74.0h.8M363.8 65.4h.8M362.8 71.4h.8M362.2 66.0h.8M358.9 91.9h.8M362.0 84.4h.8M359.9 62.4h.8M363.1 86.1h.8M357.4 88.1h.8M359.4 71.0h.8M357.8 82.2h.8M362.9 81.3h.8M362.9 89.4h.8M354.6 90.7h.8M355.1 93.3h.8M360.1 67.7h.8M357.9 90.9h.8M363.1 67.6h.8M364.7 87.7h.8M358.9 77.1h.8M356.0 68.4h.8M356.7 73.4h.8M364.6 91.6h.8M362.8 69.9h.8M362.2 92.1h.8M360.5 73.1h.8M362.4 73.7h.8M355.7 69.6h.8M358.0 74.8h.8M355.4 65.2h.8M357.2 67.5h.8M359.4 81.5h.8M367.1 67.0h.8M363.0 94.1h.8M363.4 72.0h.8M362.5 56.2h.8M363.9 78.4h.8M364.2 71.4h.8M359.5 80.7h.8M358.0 65.2h.8M363.8 83.1h.8M356.2 78.7h.8M358.5 86.0h.8M365.0 80.8h.8M358.7 78.2h.8M359.9 80.2h.8M360.3 89.1h.8M360.7 84.3h.8M362.3 79.9h.8M357.5 74.0h.8M362.4 87.0h.8M359.3 83.8h.8M359.6 79.7h.8M366.8 82.1h.8M356.9 84.1h.8M364.4 86.3h.8M354.8 81.9h.8M363.0 89.5h.8M366.6 77.2h.8M358.9 93.4h.8M362.3 72.7h.8M356.6 70.1h.8M367.0 65.3h.8M367.0 92.3h.8M360.9 89.7h.8M360.1 83.0h.8M355.6 63.2h.8M362.8 63.8h.8M354.6 85.8h.8M356.7 79.1h.8M359.6 78.8h.8M362.1 73.8h.8M359.2 81.5h.8M355.3 82.2h.8M357.7 67.2h.8M358.4 66.1h.8M361.3 89.0h.8M356.2 87.5h.8M360.9 79.8h.8M365.2 81.8h.8M355.4 85.6h.8M359.0 77.7h.8M361.5 93.3h.8M360.7 64.3h.8M358.9 66.2h.8M359.4 73.4h.8M360.2 66.1h.8M365.7 80.2h.8M359.8 86.7h.8M358.0 80.0h.8M362.1 78.2h.8M363.8 75.5h.8M358.1 77.5h.8M359.2 74.0h.8M354.6 80.2h.8M359.1 86.2h.8M365.3 63.7h.8M354.3 72.6h.8M360.4 92.9h.8M360.2 60.0h.8M366.2 75.4h.8M360.5 77.0h.8M362.3 84.3h.8M369.0 76.1h.8M365.6 87.0h.8M356.4 88.5h.8M356.5 85.9h.8M362.5 79.6h.8M356.0 85.8h.8M361.7 84.5h.8M359.3 85.7h.8M364.1 77.2h.8M354.2 70.2h.8M355.1 82.8h.8M361.9 81.3h.8M360.0 69.8h.8M357.5 68.2h.8M359.0 83.5h.8M362.9 80.7h.8M356.7 66.3h.8M362.0 80.0h.8M357.3 87.6h.8M362.0 56.4h.8M362.1 92.1h.8M360.9 60.5h.8M354.7 77.1h.8M359.4 85.5h.8M365.7 69.3h.8M359.9 76.0h.8M362.4 68.7h.8M359.5 76.6h.8M363.3 93.5h.8M360.4 88.5h.8M357.1 72.5h.8M360.5 80.7h.8M356.1 59.0h.8M357.2 67.8h.8M363.5 67.5h.8M365.0 68.9h.8M359.0 90.6h.8M360.4 88.4h.8M359.6 65.1h.8M363.2 88.9h.8M361.5 77.7h.8M358.0 71.3h.8M361.0 86.7h.8M363.0 68.4h.8M364.1 76.2h.8M366.9 69.2h.8M362.2 77.6h.8M356.9 80.0h.8M362.4 87.2h.8M358.5 62.2h.8M363.3 90.7h.8M362.3 73.8h.8M363.3 67.1h.8M362.3 64.6h.8M363.3 74.1h.8M358.8 86.1h.8M358.8 74.6h.8M354.3 72.6h.8M362.8 76.6h.8M366.2 90.2h.8M354.6 85.3h.8M360.3 90.8h.8M355.2 76.2h.8M365.8 72.9h.8M355.3 71.6h.8M356.8 86.4h.8M358.9 91.8h.8M364.8 92.6h.8M365.1 78.9h.8M362.6 78.7h.8M360.5 85.7h.8M361.3 93.5h.8M364.9 73.3h.8M361.8 89.5h.8M357.0 81.4h.8M356.1 89.4h.8M361.3 75.2h.8M356.6 78.8h.8M360.0 70.7h.8M354.2 80.7h.8M362.3 83.3h.8M364.0 81.5h.8M363.0 94.6h.8M356.9 81.3h.8M359.8 63.1h.8M360.0 92.2h.8M358.9 81.4h.8M359.7 63.5h.8M362.9 70.8h.8M362.6 81.8h.8M360.8 91.0h.8M365.9 94.4h.8M361.5 68.4h.8M366.3 87.5h.8M358.0 52.5h.8M357.4 88.2h.8M362.2 73.7h.8M361.9 90.8h.8M367.5 75.1h.8M355.9 90.8h.8M357.1 76.9h.8M356.3 82.8h.8M361.5 94.0h.8M362.9 73.3h.8M360.8 71.7h.8M361.6 80.1h.8M361.8 80.6h.8M356.5 71.1h.8M354.1 66.2h.8M357.8 73.0h.8M358.4 77.8h.8M360.0 76.5h.8M357.5 87.0h.8M364.3 91.6h.8M360.3 83.7h.8M364.1 76.2h.8M362.9 82.6h.8M359.8 69.7h.8M360.4 87.3h.8M362.5 66.9h.8M358.2 81.4h.8M356.6 88.5h.8M354.6 85.9h.8M361.2 78.7h.8M361.7 69.5h.8M354.4 89.1h.8M366.5 79.7h.8M361.0 71.9h.8M358.6 85.0h.8M358.0 68.1h.8M354.2 76.1h.8M355.3 71.9h.8M363.3 90.2h.8M355.5 64.0h.8M362.4 71.4h.8M362.5 82.6h.8M356.9 72.6h.8M358.7 87.9h.8M360.6 83.4h.8M361.3 85.2h.8M361.4 75.9h.8M362.4 83.2h.8M359.3 78.4h.8M361.7 70.6h.8M361.8 76.7h.8M358.9 72.3h.8M368.4 80.3h.8M360.6 71.7h.8M357.4 88.1h.8M362.6 83.2h.8M355.7 90.6h.8M359.3 82.6h.8M359.4 90.3h.8M363.4 72.5h.8M363.0 74.6h.8M366.3 74.9h.8M362.7 72.2h.8M358.8 88.1h.8M357.2 66.6h.8M363.8 81.0h.8M362.9 77.4h.8M361.5 79.2h.8M358.1 68.6h.8M359.1 84.3h.8M356.5 78.7h.8M363.4 88.6h.8M359.2 89.4h.8M363.0 69.6h.8M356.8 87.2h.8M355.8 61.6h.8M363.0 79.8h.8M360.2 79.3h.8M356.8 79.9h.8M360.0 70.4h.8M359.2 88.5h.8M359.1 78.5h.8M354.2 74.0h.8M367.6 85.4h.8M362.7 84.3h.8M364.5 94.3h.8M362.6 66.2h.8M356.3 85.0h.8M362.8 80.1h.8M360.8 86.2h.8M360.4 84.9h.8M357.6 76.6h.8M363.1 93.4h.8M361.6 70.8h.8M360.1 68.7h.8M360.3 70.2h.8M355.0 82.3h.8M354.7 69.3h.8M364.7 75.2h.8M360.4 64.7h.8M362.3 69.8h.8M359.9 82.9h.8M355.4 80.6h.8M366.3 75.5h.8M357.4 90.9h.8M367.0 82.6h.8M361.4 87.1h.8M358.7 84.4h.8M356.9 72.5h.8M364.0 70.9h.8M360.6 87.7h.8M361.6 64.0h.8M357.8 68.7h.8M359.8 92.2h.8M365.4 75.5h.8M358.5 71.0h.8M364.1 59.4h.8M358.9 75.6h.8M354.2 82.5h.8M355.6 75.6h.8M355.3 80.5h.8M365.5 67.7h.8M359.6 80.5h.8M358.9 87.5h.8M359.2 89.3h.8M358.4 67.6h.8M362.0 65.5h.8M359.8 92.1h.8M362.2 63.1h.8M355.9 71.1h.8M361.6 77.5h.8M360.0 87.8h.8M357.3 66.4h.8M362.6 70.1h.8M363.6 81.1h.8M358.2 87.1h.8M356.5 78.4h.8M363.8 71.5h.8M358.7 62.6h.8M363.5 55.0h.8M366.8 75.3h.8M360.0 82.9h.8M361.1 80.9h.8M356.4 59.6h.8M360.9 77.3h.8M359.7 86.7h.8M356.0 85.1h.8M362.0 79.9h.8M361.0 91.2h.8M365.9 84.1h.8M356.4 89.4h.8M366.6 72.4h.8M362.4 77.3h.8M360.4 88.5h.8M358.9 63.0h.8M360.2 86.6h.8M357.9 69.0h.8M357.4 78.6h.8M366.3 69.4h.8M358.6 90.9h.8M362.4 84.6h.8M364.6 86.0h.8M358.7 81.0h.8M359.2 81.5h.8M364.6 90.9h.8M366.0 74.6h.8M361.1 72.0h.8M355.2 85.8h.8M362.7 89.3h.8M362.3 82.8h.8M357.2 71.7h.8M362.2 73.3h.8M364.2 89.4h.8M363.6 77.1h.8M363.6 92.6h.8M367.7 69.0h.8M357.5 82.2h.8M365.8 77.2h.8M356.7 81.2h.8M356.2 75.4h.8M356.9 82.3h.8M356.8 87.2h.8M359.2 86.5h.8M360.9 86.5h.8M354.2 71.1h.8M358.2 92.6h.8M357.8 85.2h.8M360.4 72.7h.8M358.1 78.1h.8M367.2 83.3h.8M366.3 76.6h.8M357.7 74.5h.8M359.6 70.4h.8M362.6 86.7h.8M359.0 85.8h.8M359.3 76.6h.8M361.2 81.7h.8M357.3 80.7h.8M360.5 57.6h.8M361.1 80.9h.8M365.0 86.5h.8M357.4 76.6h.8M360.7 86.8h.8M356.0 80.9h.8M362.9 81.5h.8M355.9 85.6h.8M360.3 78.0h.8M361.0 73.4h.8M362.0 92.0h.8M387.8 89.0h.8M391.5 87.2h.8M378.1 72.0h.8M376.8 79.7h.8M380.5 73.0h.8M387.1 88.4h.8M396.7 87.2h.8M384.5 77.3h.8M391.2 88.8h.8M386.4 79.3h.8M386.2 64.1h.8M392.4 73.2h.8M385.2 73.0h.8M384.5 80.0h.8M390.5 80.6h.8M394.5 83.9h.8M381.0 70.9h.8M394.5 78.1h.8M383.5 85.0h.8M384.9 79.7h.8M381.5 82.0h.8M381.7 83.0h.8M394.3 75.8h.8M377.2 81.9h.8M391.9 73.1h.8M390.0 82.2h.8M389.7 69.2h.8M388.4 69.6h.8M380.8 67.8h.8M385.9 81.3h.8M386.3 89.8h.8M395.8 72.0h.8M393.1 86.2h.8M390.3 74.1h.8M379.9 81.9h.8M390.3 70.2h.8M397.1 83.3h.8M383.4 82.5h.8M388.1 85.7h.8M387.9 78.0h.8M396.6 78.2h.8M386.3 70.1h.8M389.4 76.8h.8M380.3 77.7h.8M384.4 85.5h.8M391.2 71.7h.8M393.8 75.0h.8M385.8 80.0h.8M381.9 82.9h.8M384.9 83.6h.8M382.6 78.4h.8M387.3 81.2h.8M391.8 80.4h.8M394.4 77.3h.8M427.3 75.0h.8M429.1 82.4h.8M432.6 68.1h.8M429.6 75.5h.8M425.4 88.0h.8M430.1 84.1h.8M427.0 73.0h.8M430.2 81.8h.8M426.3 69.2h.8M424.5 83.5h.8M428.1 67.9h.8M427.6 84.6h.8M430.8 75.2h.8M431.3 77.8h.8M428.2 77.4h.8M426.3 64.7h.8M426.9 75.9h.8M425.9 83.7h.8M427.1 68.0h.8M427.8 86.9h.8M425.5 67.6h.8M428.3 69.2h.8M430.1 78.7h.8M429.8 82.6h.8M426.2 76.8h.8M423.7 77.1h.8M433.1 85.2h.8M434.7 89.3h.8M429.0 80.2h.8M427.4 82.7h.8M430.4 94.5h.8M425.4 68.5h.8M427.2 73.8h.8M425.2 83.5h.8M431.6 76.4h.8M425.8 84.3h.8M424.2 65.4h.8M422.0 81.7h.8M430.1 82.0h.8M430.2 63.0h.8M435.6 83.9h.8M422.4 66.6h.8M427.3 75.5h.8M425.6 74.6h.8M426.7 80.4h.8M426.0 69.3h.8M428.6 92.2h.8M424.5 75.0h.8M422.7 75.4h.8M431.6 80.9h.8M426.7 82.6h.8M424.9 69.7h.8M424.1 73.6h.8M427.9 75.9h.8M428.7 67.8h.8M429.6 67.3h.8M428.2 83.4h.8M423.0 69.2h.8M423.9 94.4h.8M435.6 86.0h.8M428.5 74.5h.8M427.4 74.9h.8M422.6 67.3h.8M426.5 72.0h.8M431.8 72.2h.8M432.8 83.3h.8M426.3 65.7h.8M427.2 91.5h.8M425.6 80.7h.8M425.8 91.8h.8M429.9 89.2h.8M427.8 78.8h.8M425.7 84.5h.8M428.3 71.7h.8M428.1 78.7h.8M425.6 80.0h.8M426.2 94.5h.8M428.8 73.4h.8M427.5 75.6h.8M424.4 74.3h.8M431.4 81.1h.8M432.4 75.4h.8M430.7 81.0h.8M427.3 89.1h.8M426.7 79.3h.8M425.6 65.4h.8M426.8 83.9h.8M426.3 64.7h.8M426.5 80.0h.8M424.9 82.0h.8M424.1 72.7h.8M425.4 76.0h.8M423.3 86.9h.8M425.8 85.5h.8M423.9 83.1h.8M424.1 81.8h.8M428.1 80.4h.8M424.4 89.4h.8M431.2 78.1h.8M428.0 88.4h.8M433.4 81.1h.8M425.1 82.2h.8M422.4 93.4h.8M430.7 79.0h.8M428.4 91.7h.8M426.2 69.4h.8M424.7 86.1h.8M427.6 73.5h.8M434.0 92.1h.8M437.0 90.2h.8M422.1 89.5h.8M429.3 84.8h.8M428.1 80.8h.8M425.0 80.0h.8M427.4 91.5h.8M428.2 70.3h.8M426.5 92.4h.8M433.9 75.9h.8M432.6 82.1h.8M433.6 91.1h.8M433.5 79.1h.8M428.3 90.1h.8M429.8 82.7h.8M427.0 80.8h.8M429.7 76.8h.8M423.5 84.1h.8M429.1 82.5h.8M430.5 79.5h.8M428.3 80.2h.8M429.2 86.6h.8M428.3 66.6h.8M425.9 65.7h.8M427.6 84.7h.8M429.4 91.4h.8M431.6 71.0h.8M429.3 92.5h.8M430.3 91.5h.8M424.9 89.4h.8M428.0 80.3h.8M425.0 78.8h.8M423.8 92.8h.8M432.5 61.4h.8M430.4 89.4h.8M428.7 69.9h.8M422.8 86.2h.8M427.7 80.8h.8M432.4 72.7h.8M427.9 76.8h.8M423.8 83.3h.8M431.2 63.8h.8M429.0 94.1h.8M424.6 93.9h.8M430.0 88.5h.8M430.4 71.0h.8M426.6 75.9h.8M422.1 73.4h.8M427.7 92.1h.8M430.2 75.4h.8M424.2 88.2h.8M429.0 87.2h.8M430.3 71.2h.8M426.0 87.8h.8M427.2 69.5h.8M428.6 79.6h.8M428.5 88.6h.8M428.6 71.5h.8M428.9 94.8h.8M426.0 89.3h.8M428.2 75.6h.8M429.0 70.8h.8M425.2 74.1h.8M434.6 69.3h.8M433.3 87.5h.8M425.2 67.1h.8M431.3 82.9h.8M424.9 72.1h.8M428.0 78.4h.8M432.6 80.4h.8M424.6 75.4h.8M431.0 65.9h.8M430.4 91.3h.8M423.8 69.5h.8M424.7 79.7h.8M426.8 79.6h.8M429.8 80.6h.8M425.4 71.8h.8M433.0 86.2h.8M433.6 77.8h.8M431.2 91.5h.8M430.9 59.7h.8M431.8 83.5h.8M422.4 74.0h.8M426.5 90.4h.8M431.0 93.1h.8M422.6 91.0h.8M427.6 76.9h.8M425.8 71.2h.8M424.3 86.2h.8M423.8 85.7h.8M434.2 88.3h.8M428.8 90.2h.8M425.5 70.6h.8M433.7 67.8h.8M428.4 75.1h.8M428.6 69.4h.8M427.9 86.0h.8M431.7 74.8h.8M422.6 79.8h.8M424.7 76.7h.8M434.1 73.6h.8M424.6 76.6h.8M429.6 90.9h.8M426.2 76.5h.8M429.0 88.3h.8M424.2 86.0h.8M428.7 77.5h.8M425.1 79.2h.8M426.1 84.5h.8M426.2 83.3h.8M426.3 89.5h.8M429.0 70.0h.8M432.0 89.4h.8M424.3 81.2h.8M429.2 90.5h.8M432.8 76.5h.8M427.5 65.1h.8M431.7 80.0h.8M428.0 75.9h.8M429.5 89.8h.8M427.3 91.1h.8M430.0 76.5h.8M427.4 79.0h.8M430.5 90.3h.8M430.8 68.4h.8M424.2 67.5h.8M433.9 80.1h.8M434.5 83.2h.8M434.2 85.2h.8M436.3 85.6h.8M432.0 77.2h.8M423.2 75.2h.8M425.7 82.9h.8M423.2 79.3h.8M431.7 79.7h.8M425.2 91.1h.8M424.3 73.0h.8M431.3 72.4h.8M425.8 67.8h.8M432.1 93.5h.8M426.2 84.3h.8M430.4 68.8h.8M425.6 87.2h.8M426.2 70.9h.8M426.1 88.2h.8M428.3 62.3h.8M427.8 84.6h.8M435.3 78.6h.8M422.7 76.1h.8M428.0 81.7h.8M425.2 78.4h.8M431.6 87.2h.8M424.9 69.4h.8M426.6 83.2h.8M428.7 93.8h.8M427.8 92.5h.8M426.7 89.1h.8M430.6 84.5h.8M424.5 70.4h.8M431.7 87.5h.8M427.8 72.2h.8M428.1 79.8h.8M435.7 85.5h.8M422.1 76.9h.8M430.3 76.0h.8M424.2 79.1h.8M427.0 83.8h.8M428.1 85.1h.8M425.8 79.8h.8M430.7 81.5h.8M429.4 94.3h.8M429.7 76.5h.8M427.3 81.6h.8M425.2 91.5h.8M428.4 62.4h.8M428.6 65.5h.8M427.8 69.1h.8M427.8 86.6h.8M428.5 79.5h.8M424.4 84.9h.8M428.5 88.0h.8M426.1 94.5h.8M431.0 85.2h.8M427.6 79.1h.8M431.5 86.4h.8M430.7 91.3h.8M424.1 83.1h.8M428.4 74.1h.8M429.9 90.8h.8M431.2 64.4h.8M430.2 80.8h.8M425.4 90.7h.8M429.9 90.2h.8M429.9 73.3h.8M430.4 90.6h.8M429.6 83.5h.8M422.1 83.4h.8M430.7 64.1h.8M432.2 79.8h.8M435.3 72.5h.8M431.5 84.4h.8M423.7 69.5h.8M426.3 70.8h.8M429.7 71.6h.8M426.3 63.5h.8M431.5 91.5h.8M427.4 67.2h.8M427.9 60.3h.8M426.5 68.1h.8M423.8 93.0h.8M423.7 80.8h.8M434.4 81.6h.8M424.0 85.5h.8M425.7 90.7h.8M426.0 84.9h.8M435.1 80.7h.8M429.4 76.6h.8M425.6 89.9h.8M430.3 63.2h.8M429.5 74.8h.8M432.5 69.9h.8M425.5 92.4h.8M424.4 91.6h.8M431.0 82.8h.8M442.7 87.3h.8M426.6 66.9h.8M429.4 78.3h.8M427.7 92.8h.8M444.4 91.2h.8M423.6 64.4h.8M424.4 80.5h.8M431.0 74.5h.8M422.2 87.9h.8M435.0 90.1h.8M432.0 87.8h.8M428.4 75.2h.8M435.4 78.4h.8M441.0 79.7h.8M433.7 73.3h.8M443.1 93.7h.8M426.6 76.0h.8M431.6 90.6h.8M429.9 90.4h.8M439.0 70.5h.8M431.4 79.4h.8M430.9 51.6h.8M432.7 47.8h.8M424.5 64.8h.8M427.9 68.4h.8M425.1 60.5h.8M432.0 66.6h.8M427.4 63.6h.8M422.3 64.9h.8M432.6 57.5h.8M431.2 56.9h.8M430.8 56.8h.8M429.7 60.9h.8M443.3 88.4h.8M438.5 89.4h.8M434.1 86.6h.8M435.6 90.4h.8M438.2 95.0h.8M438.4 83.6h.8M433.9 90.5h.8M435.4 86.0h.8M431.8 88.8h.8M441.9 90.1h.8M437.0 92.9h.8M479.9 63.3h.8" stroke="#000" stroke-width="0.85" stroke-opacity="0.58" fill="none"/>
<path d="M224.0 87.8h.8M223.2 80.7h.8M222.6 80.1h.8M224.2 94.0h.8M222.5 82.3h.8M225.5 88.1h.8M224.3 80.4h.8M223.9 90.2h.8M220.0 83.3h.8M220.2 87.6h.8M224.5 84.9h.8M223.9 86.7h.8M219.4 83.1h.8M221.1 81.1h.8M227.2 81.2h.8M223.9 91.3h.8M222.2 85.3h.8M224.3 86.4h.8M220.3 86.5h.8M228.1 76.7h.8M226.6 86.7h.8M226.3 78.8h.8M224.2 89.5h.8M223.4 90.1h.8M223.8 90.0h.8M228.3 81.9h.8M224.6 83.2h.8M224.4 78.9h.8M222.3 84.8h.8M226.7 92.9h.8M220.0 81.2h.8M225.9 74.0h.8M222.6 85.4h.8M227.8 90.1h.8M223.0 83.8h.8M223.2 95.1h.8M222.7 84.2h.8M225.1 85.3h.8M223.4 79.3h.8M224.0 83.3h.8M227.5 89.9h.8M223.9 90.0h.8M223.0 92.3h.8M224.0 89.5h.8M220.1 88.1h.8M223.1 80.6h.8M221.5 82.3h.8M224.6 89.0h.8M223.5 84.8h.8M226.1 89.1h.8M220.9 85.5h.8M224.1 79.7h.8M224.8 80.9h.8M226.9 87.2h.8M224.3 82.5h.8M220.7 68.6h.8M219.1 72.6h.8M221.4 72.8h.8M223.8 49.6h.8M226.6 79.4h.8M223.3 62.3h.8M223.1 55.2h.8M226.2 59.6h.8M223.4 57.1h.8M221.9 52.2h.8M226.6 63.5h.8M225.9 65.1h.8M221.8 61.7h.8M222.1 65.1h.8M222.6 62.0h.8M220.1 56.9h.8M227.6 58.3h.8M220.9 68.4h.8M227.0 50.5h.8M223.0 58.7h.8M219.1 72.3h.8M223.4 65.7h.8M221.6 69.5h.8M222.2 63.6h.8M220.7 52.8h.8M226.8 59.9h.8M224.2 64.7h.8M222.4 59.9h.8M231.5 84.3h.8M230.6 86.5h.8M238.0 85.9h.8M248.1 84.4h.8M248.9 85.7h.8M251.7 84.2h.8M239.9 93.4h.8M247.2 92.1h.8M251.1 90.1h.8M236.1 89.7h.8M231.3 92.0h.8M260.7 92.5h.8M231.6 87.4h.8M240.2 85.1h.8M250.1 92.0h.8M240.0 92.6h.8M255.5 85.3h.8M254.5 92.8h.8M311.2 83.2h.8M318.6 77.2h.8M300.5 81.1h.8M338.0 71.1h.8M329.7 68.3h.8M328.8 77.9h.8M327.6 84.0h.8M312.9 89.5h.8M317.4 93.6h.8M329.4 66.5h.8M328.8 82.3h.8M334.4 82.7h.8M323.4 83.1h.8M308.4 79.5h.8M333.2 70.5h.8M314.7 87.9h.8M333.4 70.9h.8M310.1 86.9h.8M328.7 73.8h.8M304.9 68.3h.8M335.0 92.8h.8M300.6 76.8h.8M310.9 78.0h.8M320.5 79.4h.8M321.6 80.8h.8M320.4 91.3h.8M310.6 71.4h.8M332.6 79.8h.8M303.5 86.4h.8M321.4 86.0h.8M310.1 90.8h.8M306.8 88.6h.8M311.4 90.2h.8M331.5 88.3h.8M459.1 65.5h.8M452.1 68.0h.8M467.2 60.7h.8M442.5 78.8h.8M447.6 84.7h.8M452.9 62.2h.8M457.0 89.3h.8" stroke="#000" stroke-width="0.85" stroke-opacity="0.36" fill="none"/>
<text x="7.2" y="215" font-size="12" fill="#000" stroke="#000" text-anchor="start" font-weight="bold">B</text>
<text x="53.1" y="230" font-size="8.6" fill="#222" stroke="#222" text-anchor="start" textLength="54.7" lengthAdjust="spacingAndGlyphs">WT Uninfected</text>
<text x="148.7" y="230" font-size="8.6" fill="#6ab04c" stroke="#6ab04c" text-anchor="start" textLength="12" lengthAdjust="spacingAndGlyphs">WT</text>
<text x="212.6" y="230" font-size="8.6" fill="#cc2420" stroke="#cc2420" text-anchor="start" textLength="24.4" lengthAdjust="spacingAndGlyphs">Prf1-/-</text>
<text x="288" y="230" font-size="8.6" fill="#3b49a8" stroke="#3b49a8" text-anchor="start" textLength="21" lengthAdjust="spacingAndGlyphs">Il18tg</text>
<rect x="40.2" y="235" width="294.8" height="73.5" fill="none" stroke="#111" stroke-width="1.4"/>
<path d="M113.6 235V308.5M187.3 235V308.5M261.5 235V308.5" stroke="#111" stroke-width="1.4"/>
<path d="M35 248V313.5H72" stroke="#111" stroke-width="1.25" fill="none"/>
<path d="M35 244.6l-2.5 5h5z M74.8 313.5l-5 -2.5v5z" fill="#1a1a1a"/>
<text transform="translate(29.8 280.9) rotate(-90)" font-size="9.4" fill="#222" stroke="#222" text-anchor="middle" textLength="12.7" lengthAdjust="spacingAndGlyphs">CTV</text>
<text x="44.9" y="323.6" font-size="10.6" fill="#222" stroke="#222" text-anchor="start" textLength="16.1" lengthAdjust="spacingAndGlyphs">CFSE</text>
<rect x="42.55" y="244.9" width="17.70" height="23.0" fill="#fff" stroke="#666" stroke-width="0.9"/>
<path d="M48.1 261.6h.8M48.2 262.3h.8M46.3 262.5h.8M47.9 256.1h.8M48.8 258.4h.8M46.8 256.7h.8M53.3 258.5h.8M48.3 257.7h.8M49.9 264.4h.8M47.6 260.1h.8M47.4 260.6h.8M48.3 259.8h.8M48.2 260.2h.8M48.0 260.3h.8M55.0 258.4h.8M48.9 258.2h.8M51.6 253.8h.8M49.7 259.6h.8M46.4 258.5h.8M43.4 253.2h.8M44.4 262.6h.8M45.7 260.3h.8M49.0 254.1h.8M47.5 263.1h.8M51.7 258.7h.8M45.8 258.3h.8M52.2 262.4h.8M47.3 258.7h.8M47.2 255.8h.8M47.8 262.7h.8M45.8 259.2h.8M48.5 263.0h.8M49.5 258.7h.8M46.4 262.5h.8M47.4 257.4h.8M50.3 259.1h.8M46.5 258.3h.8M43.5 259.6h.8M46.2 260.1h.8M44.6 259.5h.8M44.8 258.1h.8M47.7 260.0h.8M48.1 260.6h.8M44.1 264.4h.8M48.0 259.7h.8M51.3 258.5h.8M52.2 261.8h.8M43.6 258.6h.8M48.9 260.2h.8M44.3 261.5h.8M51.1 258.7h.8M47.4 260.6h.8M54.0 258.4h.8M44.8 263.4h.8M47.3 260.9h.8M48.7 261.1h.8M46.0 258.9h.8M49.1 260.1h.8M47.2 259.3h.8M47.8 262.2h.8M50.5 262.9h.8M50.6 253.2h.8M47.7 259.4h.8M49.4 261.2h.8M46.6 258.5h.8M46.7 259.7h.8M47.0 261.2h.8M45.8 259.6h.8M48.3 264.9h.8M52.6 251.5h.8M52.1 258.3h.8M47.9 261.8h.8M45.6 261.5h.8M50.2 258.8h.8M45.9 260.7h.8M47.0 260.2h.8M50.2 258.6h.8M48.1 258.5h.8M47.9 262.5h.8M46.2 261.0h.8M50.5 260.1h.8M45.7 254.6h.8M49.4 259.8h.8M48.6 260.0h.8M50.7 257.0h.8M50.8 260.4h.8M49.1 257.5h.8M48.6 258.5h.8M53.2 262.5h.8M48.0 260.0h.8M47.9 259.8h.8M44.9 262.5h.8M50.3 250.8h.8M44.8 259.4h.8M51.7 256.6h.8M45.0 260.4h.8M44.2 257.5h.8M48.0 260.3h.8M52.3 257.4h.8M46.7 258.3h.8M50.1 258.2h.8M51.8 255.0h.8M49.5 262.8h.8M45.6 256.1h.8M46.5 260.6h.8M49.4 259.7h.8M48.3 262.9h.8M48.2 255.5h.8M48.1 261.6h.8M45.8 259.6h.8" stroke="#6a78d0" stroke-width="0.8" stroke-opacity="0.5"/><path d="M48.2 262.8h.8M47.8 259.4h.8M47.7 260.1h.8M52.2 263.0h.8M48.1 264.3h.8M44.7 259.9h.8M50.8 263.4h.8M47.8 260.3h.8M46.7 260.2h.8M47.6 259.9h.8M47.6 259.3h.8M48.1 258.8h.8M44.1 258.8h.8M45.0 260.6h.8M48.0 257.9h.8M48.2 257.3h.8M46.9 259.8h.8M48.4 262.7h.8M46.9 257.9h.8M44.4 258.7h.8M47.8 260.0h.8M46.9 260.4h.8M48.0 261.0h.8M50.1 257.5h.8M47.7 261.9h.8M47.4 258.6h.8M47.7 260.8h.8M45.6 260.0h.8M48.3 261.4h.8M45.3 260.5h.8M48.7 259.1h.8M46.1 259.4h.8M47.6 260.2h.8M47.6 260.9h.8M47.9 264.9h.8M47.3 260.2h.8M48.5 258.9h.8M49.0 259.7h.8M43.5 261.5h.8M51.9 260.5h.8M47.7 260.5h.8M48.3 262.3h.8M47.9 259.6h.8M47.5 261.7h.8M46.9 259.0h.8M48.2 259.0h.8M53.6 256.2h.8M47.3 260.0h.8M48.3 256.9h.8M47.8 260.4h.8M47.4 265.1h.8M50.2 256.0h.8M52.8 260.8h.8M55.9 264.6h.8M50.6 256.3h.8M47.4 259.8h.8M47.8 260.6h.8M48.2 261.3h.8M46.9 260.0h.8M49.3 259.7h.8" stroke="#4050b8" stroke-width="0.8" stroke-opacity="0.65"/><path d="M47.2 259.9h.8M45.2 259.8h.8M48.9 258.2h.8M47.9 260.5h.8M47.4 260.3h.8M48.0 259.8h.8M46.5 260.8h.8M48.3 257.5h.8M49.1 258.4h.8M48.9 262.0h.8M48.1 262.0h.8M49.5 262.9h.8M47.9 259.8h.8M47.9 258.6h.8M47.2 259.4h.8M46.5 260.0h.8M47.8 259.5h.8M49.3 259.9h.8M47.6 259.7h.8M45.9 258.4h.8M46.5 260.4h.8M46.0 258.1h.8M48.5 260.6h.8M47.9 261.6h.8M44.3 257.0h.8M48.3 259.6h.8M49.3 260.3h.8M45.7 258.3h.8M47.7 260.2h.8M45.6 259.5h.8M48.5 260.8h.8M49.1 259.9h.8M47.6 261.3h.8M50.3 261.6h.8M46.6 259.2h.8M47.3 261.8h.8M48.0 262.9h.8M44.4 257.6h.8" stroke="#6aa8c8" stroke-width="0.8" stroke-opacity="0.7"/><path d="M49.7 260.2h.8M49.7 259.8h.8M47.6 260.0h.8M45.9 258.6h.8M47.7 259.7h.8M47.7 260.3h.8M48.4 260.6h.8M47.8 258.3h.8M48.7 261.0h.8M48.4 259.8h.8M46.2 260.3h.8M48.8 260.2h.8M48.5 259.3h.8M48.5 260.3h.8M45.0 261.7h.8M48.4 259.6h.8M48.1 260.2h.8M48.3 258.1h.8M47.4 260.4h.8M48.2 259.4h.8M48.8 258.3h.8M45.9 261.3h.8M47.1 260.9h.8M46.7 259.9h.8M48.9 260.8h.8M47.5 260.9h.8M47.1 260.3h.8M47.5 259.6h.8M45.4 257.8h.8M46.2 261.8h.8M45.6 259.7h.8M49.6 260.7h.8M47.2 260.0h.8" stroke="#78b848" stroke-width="0.8" stroke-opacity="0.85"/><path d="M48.8 260.2h.8M48.3 260.5h.8M46.1 260.1h.8M48.0 260.4h.8M48.4 259.8h.8M46.9 261.0h.8M48.4 260.5h.8M48.2 260.5h.8M47.3 260.6h.8M46.7 258.8h.8M47.4 258.1h.8M46.6 260.7h.8M47.2 258.9h.8M47.3 260.0h.8M47.8 259.9h.8" stroke="#c8c830" stroke-width="0.8" stroke-opacity="0.85"/><path d="M47.7 260.9h.8M47.4 259.5h.8M46.7 259.8h.8M47.6 259.7h.8" stroke="#d89a38" stroke-width="0.8" stroke-opacity="0.7"/>
<text x="64.0" y="253.1" font-size="8" fill="#222" stroke="#222" text-anchor="start" textLength="43" lengthAdjust="spacingAndGlyphs">gp33 coated</text>
<text x="85.30" y="262.1" font-size="8" fill="#222" stroke="#222" text-anchor="middle" textLength="14.5" lengthAdjust="spacingAndGlyphs">47.6</text>
<rect x="53.30" y="290.7" width="17.50" height="15.6" fill="#fff" stroke="#777" stroke-width="0.8"/>
<path d="M63.8 300.3h.8M65.1 300.3h.8M67.1 298.6h.8M61.3 300.0h.8M64.9 298.9h.8M62.4 299.2h.8M63.6 295.9h.8M61.7 296.7h.8M60.6 301.1h.8M61.4 298.8h.8M61.1 299.4h.8M63.4 298.2h.8M61.9 301.3h.8M60.0 295.8h.8M62.3 300.2h.8M57.7 295.0h.8M61.7 302.6h.8M59.3 300.5h.8M64.5 298.5h.8M63.4 299.5h.8M61.5 299.6h.8M61.4 297.0h.8M58.5 296.1h.8M62.9 300.5h.8M64.3 295.2h.8M60.3 301.9h.8M61.6 300.3h.8M59.6 300.9h.8M61.4 299.1h.8M59.8 299.0h.8M60.0 299.3h.8M61.5 303.0h.8M62.2 300.6h.8M60.1 303.3h.8M60.1 303.0h.8M65.3 301.4h.8M63.6 295.6h.8M62.6 304.2h.8M65.0 298.3h.8M61.6 299.7h.8M62.8 300.9h.8M61.1 300.0h.8M64.0 297.8h.8M61.7 300.5h.8M62.1 300.3h.8M60.1 299.2h.8M61.1 298.2h.8M60.5 301.4h.8M58.0 298.3h.8M59.4 299.0h.8M59.2 300.0h.8M62.1 299.6h.8M62.9 297.4h.8M68.6 304.3h.8M59.7 301.1h.8M64.3 300.6h.8M62.7 297.5h.8M59.2 302.5h.8M59.1 302.4h.8M60.3 298.3h.8M62.5 297.9h.8M62.9 299.1h.8M58.1 298.5h.8M60.3 301.9h.8M59.9 298.9h.8M59.2 299.0h.8M63.6 299.3h.8M63.2 298.9h.8M62.2 299.7h.8M67.6 300.2h.8M62.4 303.2h.8M62.0 297.6h.8M60.8 300.8h.8M60.8 301.9h.8M60.1 297.9h.8M57.4 300.8h.8M59.2 292.8h.8M62.5 304.2h.8M62.5 300.0h.8M61.3 299.8h.8M61.4 299.7h.8M63.4 301.0h.8M60.7 301.1h.8M60.9 302.2h.8M62.3 300.5h.8M62.1 299.1h.8M56.4 301.6h.8M62.1 299.7h.8M64.3 297.6h.8M61.5 299.6h.8M58.1 294.9h.8M61.5 301.0h.8M60.3 300.0h.8M60.4 300.8h.8M63.1 297.1h.8M61.3 298.8h.8M64.5 300.3h.8M64.0 299.0h.8M62.2 297.2h.8M58.4 303.6h.8M63.5 299.0h.8M60.3 302.6h.8M60.8 300.2h.8M60.5 299.4h.8M65.4 302.4h.8M63.3 298.2h.8M60.4 301.1h.8M62.1 299.7h.8M57.7 301.3h.8M57.8 303.7h.8" stroke="#6a78d0" stroke-width="0.8" stroke-opacity="0.5"/><path d="M65.2 301.9h.8M62.8 298.8h.8M61.9 299.7h.8M63.8 299.5h.8M64.1 297.3h.8M61.6 296.8h.8M59.0 296.6h.8M59.4 300.9h.8M60.8 300.8h.8M63.4 297.2h.8M62.0 299.1h.8M59.2 300.4h.8M62.3 298.8h.8M65.0 300.1h.8M62.3 304.3h.8M59.6 301.4h.8M62.3 300.2h.8M61.9 299.7h.8M61.6 301.0h.8M60.3 294.8h.8M57.9 299.2h.8M61.9 299.9h.8M64.0 299.9h.8M61.3 298.7h.8M62.3 300.0h.8M64.8 300.4h.8M61.8 299.7h.8M61.6 299.2h.8M62.3 300.6h.8M62.0 299.8h.8M61.6 300.1h.8M63.8 300.3h.8M61.9 297.2h.8M62.3 300.3h.8M59.0 303.4h.8M62.2 300.1h.8M59.9 300.4h.8M62.0 299.4h.8M62.4 299.9h.8M64.4 298.2h.8M62.2 302.0h.8M61.4 300.0h.8M65.3 298.6h.8M64.1 301.7h.8M61.9 300.3h.8M63.8 300.1h.8M62.3 299.9h.8M63.7 299.7h.8M62.3 300.2h.8M67.1 301.7h.8M61.3 301.0h.8M61.4 302.9h.8M62.3 302.1h.8M59.3 297.9h.8M62.0 300.0h.8M61.4 299.3h.8M61.4 301.1h.8M62.8 299.9h.8M61.8 299.6h.8M62.3 299.9h.8" stroke="#4050b8" stroke-width="0.8" stroke-opacity="0.65"/><path d="M60.4 298.0h.8M64.0 300.3h.8M58.3 298.0h.8M61.4 299.6h.8M62.5 300.6h.8M62.0 298.0h.8M61.7 298.8h.8M62.1 299.6h.8M62.7 300.1h.8M61.4 301.5h.8M62.5 299.4h.8M62.8 300.5h.8M63.8 299.0h.8M62.4 302.1h.8M61.9 299.4h.8M62.4 300.7h.8M61.3 300.7h.8M62.1 300.1h.8M60.2 298.3h.8M64.5 300.8h.8M60.9 299.8h.8M63.5 298.7h.8M62.1 299.7h.8M62.0 299.5h.8M62.4 299.9h.8M63.0 299.3h.8M62.0 299.6h.8M63.1 302.5h.8M63.0 299.9h.8M59.6 300.2h.8M63.4 298.5h.8M63.0 301.7h.8M63.4 299.5h.8M61.4 299.0h.8M63.0 300.2h.8M62.0 299.6h.8M61.6 299.6h.8M65.0 301.0h.8" stroke="#6aa8c8" stroke-width="0.8" stroke-opacity="0.7"/><path d="M62.9 299.2h.8M62.0 301.1h.8M62.7 301.9h.8M62.1 299.8h.8M61.9 300.4h.8M61.1 299.8h.8M62.6 299.8h.8M62.0 299.7h.8M63.0 300.9h.8M62.2 298.8h.8M63.2 299.8h.8M62.4 300.2h.8M63.2 299.9h.8M62.1 299.7h.8M61.7 299.8h.8M62.1 298.2h.8M64.4 300.9h.8M62.1 298.8h.8M62.4 299.3h.8M61.1 300.1h.8M61.0 299.6h.8M63.3 299.2h.8M61.7 297.0h.8M62.1 299.7h.8M62.6 300.2h.8M61.9 299.4h.8M62.0 299.9h.8M61.7 298.6h.8M61.1 300.4h.8M62.9 299.1h.8M62.3 299.2h.8M62.0 299.5h.8M61.0 299.7h.8" stroke="#78b848" stroke-width="0.8" stroke-opacity="0.85"/><path d="M61.9 300.3h.8M62.0 299.4h.8M61.4 300.7h.8M62.5 301.4h.8M62.2 300.1h.8M62.4 301.5h.8M61.7 299.1h.8M61.7 299.7h.8M62.2 300.3h.8M62.0 300.1h.8M61.9 299.9h.8M62.0 299.6h.8M61.5 299.8h.8M60.8 299.3h.8M61.3 300.3h.8" stroke="#c8c830" stroke-width="0.8" stroke-opacity="0.85"/><path d="M62.2 300.4h.8M61.9 300.1h.8M62.0 299.4h.8M61.8 299.9h.8" stroke="#d89a38" stroke-width="0.8" stroke-opacity="0.7"/>
<text x="78.4" y="296.1" font-size="8" fill="#222" stroke="#222" text-anchor="start" textLength="11.6" lengthAdjust="spacingAndGlyphs">Ctrl</text>
<text x="78.4" y="305.1" font-size="8" fill="#222" stroke="#222" text-anchor="start" textLength="14.4" lengthAdjust="spacingAndGlyphs">52.2</text>
<rect x="116.15" y="244.9" width="18.20" height="23.0" fill="#fff" stroke="#666" stroke-width="0.9"/>
<text x="139.5" y="253.1" font-size="8" fill="#222" stroke="#222" text-anchor="start" textLength="43" lengthAdjust="spacingAndGlyphs">gp33 coated</text>
<text x="160.75" y="262.1" font-size="8" fill="#222" stroke="#222" text-anchor="middle" textLength="14.5" lengthAdjust="spacingAndGlyphs">0.22</text>
<rect x="126.80" y="290.7" width="17.50" height="15.6" fill="#fff" stroke="#777" stroke-width="0.8"/>
<path d="M136.1 298.6h.8M135.7 299.8h.8M135.5 300.0h.8M135.4 299.1h.8M138.6 298.7h.8M135.9 297.4h.8M132.4 297.5h.8M139.1 297.7h.8M136.0 300.3h.8M135.6 302.8h.8M136.6 296.6h.8M135.4 301.8h.8M134.9 300.1h.8M134.8 299.3h.8M137.9 295.4h.8M134.7 299.6h.8M130.9 296.6h.8M137.6 301.8h.8M137.4 296.7h.8M135.0 296.2h.8M135.7 299.2h.8M135.6 300.3h.8M133.4 296.5h.8M135.8 299.1h.8M136.3 299.9h.8M134.5 301.4h.8M137.1 299.7h.8M136.0 297.9h.8M137.5 296.0h.8M132.9 299.7h.8M135.5 301.6h.8M136.0 300.1h.8M138.1 295.0h.8M133.7 298.2h.8M135.0 300.9h.8M135.9 299.7h.8M135.6 298.8h.8M137.5 299.7h.8M134.5 301.5h.8M136.4 300.2h.8M131.4 304.7h.8M137.5 302.1h.8M135.1 299.6h.8M133.9 302.5h.8M134.5 297.7h.8M135.1 295.1h.8M135.0 300.1h.8M138.3 299.2h.8M139.2 299.5h.8M137.3 302.6h.8M133.5 299.9h.8M135.7 300.8h.8M135.9 299.2h.8M136.3 297.3h.8M136.0 299.6h.8M138.4 301.1h.8M135.4 301.0h.8M133.9 299.7h.8M135.9 298.8h.8M135.7 300.5h.8M134.8 300.8h.8M130.8 297.2h.8M139.3 302.2h.8M136.9 300.2h.8M135.4 301.6h.8M133.8 299.8h.8M135.7 302.5h.8M135.5 299.2h.8M134.1 300.4h.8M133.7 298.9h.8M132.3 300.6h.8M137.2 299.9h.8M136.1 298.8h.8M139.4 298.1h.8M135.4 299.5h.8M129.8 298.5h.8M136.6 299.3h.8M133.7 299.8h.8M133.5 298.2h.8M130.3 296.9h.8M134.2 299.1h.8M134.7 300.4h.8M134.0 298.0h.8M135.4 299.3h.8M137.8 298.1h.8M135.7 299.8h.8M137.5 298.8h.8M135.6 297.5h.8M135.4 300.1h.8M134.5 299.6h.8M135.6 299.8h.8M134.5 299.8h.8M134.1 296.5h.8M135.6 299.4h.8M134.4 297.7h.8M135.2 300.2h.8M135.3 300.4h.8M134.1 292.6h.8M134.6 299.8h.8M140.7 299.9h.8M136.3 300.0h.8M137.2 298.9h.8M134.7 298.4h.8M135.5 298.1h.8M136.9 298.7h.8M134.6 303.5h.8M135.7 298.5h.8M135.6 300.7h.8M137.7 294.8h.8M139.4 299.1h.8" stroke="#6a78d0" stroke-width="0.8" stroke-opacity="0.5"/><path d="M135.5 299.3h.8M135.4 299.2h.8M134.9 297.9h.8M135.0 298.7h.8M133.2 299.0h.8M134.8 300.7h.8M135.9 299.6h.8M139.6 300.1h.8M135.4 302.2h.8M133.7 297.3h.8M138.7 301.3h.8M132.2 299.4h.8M136.3 299.7h.8M137.4 297.3h.8M136.4 302.5h.8M135.6 300.0h.8M140.4 296.1h.8M134.7 298.3h.8M134.7 297.5h.8M135.5 299.3h.8M132.7 295.7h.8M136.0 300.2h.8M136.3 303.4h.8M137.4 299.5h.8M137.0 300.3h.8M135.6 299.6h.8M137.8 302.1h.8M135.5 300.1h.8M136.2 301.6h.8M134.4 297.7h.8M131.5 302.7h.8M130.0 297.9h.8M133.5 301.1h.8M137.0 299.4h.8M134.7 299.7h.8M139.4 299.4h.8M135.2 298.2h.8M136.9 298.2h.8M136.4 300.7h.8M135.4 301.7h.8M135.4 299.1h.8M132.0 301.2h.8M135.5 299.5h.8M134.5 303.6h.8M134.7 301.8h.8M135.7 299.1h.8M133.5 299.2h.8M134.0 300.4h.8M134.9 299.9h.8M135.5 299.7h.8M135.6 299.6h.8M133.9 298.7h.8M133.6 301.5h.8M134.7 300.7h.8M134.0 300.2h.8M135.6 299.6h.8M134.9 295.8h.8M135.1 299.7h.8M136.2 299.5h.8M135.3 300.1h.8" stroke="#4050b8" stroke-width="0.8" stroke-opacity="0.65"/><path d="M133.9 298.3h.8M136.8 298.2h.8M136.9 298.0h.8M135.7 299.2h.8M136.6 299.1h.8M135.8 300.9h.8M135.8 299.6h.8M133.9 300.3h.8M135.3 300.6h.8M135.8 299.8h.8M135.0 299.2h.8M135.9 297.5h.8M136.2 299.7h.8M134.9 299.9h.8M134.1 297.0h.8M133.8 299.5h.8M135.4 301.5h.8M138.6 298.0h.8M134.7 299.7h.8M132.4 299.5h.8M136.9 298.6h.8M135.7 298.8h.8M135.3 303.0h.8M135.7 299.5h.8M136.1 299.1h.8M134.3 300.4h.8M133.1 298.8h.8M137.3 299.6h.8M137.5 300.5h.8M136.0 299.7h.8M135.1 299.0h.8M133.6 300.2h.8M135.1 304.3h.8M136.6 300.7h.8M134.9 299.3h.8M133.0 299.6h.8M134.7 298.4h.8M135.6 299.7h.8" stroke="#6aa8c8" stroke-width="0.8" stroke-opacity="0.7"/><path d="M135.8 297.9h.8M136.1 300.7h.8M136.5 300.4h.8M135.7 298.9h.8M135.8 299.7h.8M136.1 298.8h.8M136.4 299.1h.8M135.4 301.0h.8M134.2 298.3h.8M137.4 301.8h.8M135.3 299.1h.8M136.7 300.5h.8M136.3 300.2h.8M135.5 299.5h.8M136.3 300.0h.8M136.2 298.7h.8M135.9 299.9h.8M135.3 299.0h.8M136.1 300.4h.8M135.5 299.7h.8M135.5 300.2h.8M135.5 300.2h.8M136.5 298.8h.8M135.4 300.2h.8M135.4 300.2h.8M136.4 298.9h.8M136.3 299.0h.8M135.6 299.4h.8M135.2 298.9h.8M136.7 299.9h.8M135.3 299.8h.8M134.9 299.6h.8M135.1 299.5h.8" stroke="#78b848" stroke-width="0.8" stroke-opacity="0.85"/><path d="M135.7 299.4h.8M134.7 300.4h.8M135.6 299.6h.8M135.6 300.3h.8M136.5 299.8h.8M135.8 299.9h.8M136.1 300.1h.8M133.1 298.7h.8M136.1 300.1h.8M135.4 299.5h.8M135.8 300.3h.8M135.7 299.4h.8M135.5 299.7h.8M136.0 300.1h.8M135.7 299.8h.8" stroke="#c8c830" stroke-width="0.8" stroke-opacity="0.85"/><path d="M135.7 300.1h.8M135.5 299.7h.8M136.0 299.5h.8M135.8 299.7h.8" stroke="#d89a38" stroke-width="0.8" stroke-opacity="0.7"/>
<text x="155.0" y="296.1" font-size="8" fill="#222" stroke="#222" text-anchor="start" textLength="11.6" lengthAdjust="spacingAndGlyphs">Ctrl</text>
<text x="155.0" y="305.1" font-size="8" fill="#222" stroke="#222" text-anchor="start" textLength="14.2" lengthAdjust="spacingAndGlyphs">99.8</text>
<rect x="189.95" y="244.9" width="18.40" height="23.0" fill="#fff" stroke="#666" stroke-width="0.9"/>
<path d="M196.3 259.2h.8M194.3 255.9h.8M199.1 256.6h.8M193.4 253.2h.8M195.5 263.4h.8M191.3 259.1h.8M195.2 260.8h.8M195.9 260.9h.8M195.9 260.0h.8M195.1 260.3h.8M195.3 260.0h.8M191.8 257.1h.8M198.0 255.9h.8M195.6 265.4h.8M196.6 260.3h.8M195.3 261.0h.8M193.9 261.3h.8M194.3 258.6h.8M192.8 259.8h.8M192.9 263.4h.8M192.8 258.8h.8M190.8 259.9h.8M192.7 265.2h.8M193.8 263.0h.8M194.6 261.8h.8M196.7 263.6h.8M198.4 257.7h.8M195.2 259.7h.8M194.6 260.3h.8M194.7 263.5h.8M193.9 257.7h.8M197.1 259.3h.8M195.8 254.5h.8M192.0 254.1h.8M204.1 261.0h.8M192.9 253.9h.8M196.1 252.0h.8M194.5 260.1h.8M196.4 253.2h.8M194.1 258.0h.8M198.7 263.0h.8M192.7 257.1h.8M195.6 259.6h.8M191.4 257.1h.8M195.5 261.6h.8M195.1 257.3h.8M194.4 260.7h.8M195.6 259.7h.8M195.3 260.1h.8M196.1 260.1h.8M192.8 258.7h.8M195.5 259.5h.8M196.8 260.5h.8M198.5 261.3h.8M195.1 260.1h.8M196.0 259.0h.8M206.5 258.8h.8M191.8 259.8h.8M194.9 260.1h.8M192.1 255.3h.8M199.4 266.1h.8M197.4 265.0h.8M195.2 259.8h.8M194.7 258.8h.8M195.6 261.2h.8M194.8 260.5h.8M195.5 260.3h.8M196.5 261.6h.8M192.1 261.4h.8M196.0 258.9h.8M196.8 258.1h.8M197.1 262.7h.8M195.7 260.2h.8M194.6 259.1h.8M195.4 261.1h.8M191.1 263.8h.8M194.8 260.0h.8M196.3 258.7h.8M195.1 260.3h.8M194.0 263.4h.8M197.4 259.0h.8M199.1 263.6h.8M190.7 253.0h.8M200.6 252.7h.8M194.6 260.3h.8M195.4 260.2h.8M196.3 257.4h.8M195.0 260.4h.8M195.9 264.3h.8M193.8 262.6h.8M196.7 260.7h.8M197.1 258.6h.8M199.1 256.8h.8M195.5 262.5h.8M194.9 264.6h.8M194.3 261.5h.8M192.5 261.8h.8M193.6 256.3h.8M196.6 260.0h.8M193.8 254.9h.8M197.4 264.8h.8M195.3 260.1h.8M192.2 263.9h.8M193.7 259.4h.8M196.1 253.9h.8M192.9 256.6h.8M194.7 261.2h.8M193.7 258.6h.8M195.4 258.5h.8M194.5 257.8h.8" stroke="#6a78d0" stroke-width="0.8" stroke-opacity="0.5"/><path d="M196.3 259.9h.8M197.5 262.5h.8M192.2 261.5h.8M190.7 254.6h.8M195.8 260.7h.8M195.2 261.5h.8M198.7 258.1h.8M193.7 264.6h.8M194.6 263.1h.8M191.8 258.4h.8M196.2 258.1h.8M194.5 258.4h.8M193.4 259.5h.8M194.6 253.8h.8M195.0 260.0h.8M194.2 256.5h.8M196.5 258.5h.8M195.2 258.7h.8M195.0 259.7h.8M195.5 257.3h.8M194.3 258.5h.8M194.4 258.8h.8M197.1 260.4h.8M195.7 256.8h.8M195.3 257.2h.8M195.2 260.1h.8M195.2 259.8h.8M197.1 263.2h.8M196.2 258.5h.8M196.5 259.9h.8M195.2 261.3h.8M193.2 260.2h.8M194.5 260.0h.8M197.8 266.0h.8M195.9 259.5h.8M194.8 260.3h.8M202.6 258.7h.8M195.8 259.7h.8M195.1 260.0h.8M195.4 260.0h.8M195.5 262.1h.8M192.7 256.8h.8M197.7 259.4h.8M193.9 258.8h.8M194.8 261.0h.8M199.1 256.0h.8M196.3 257.6h.8M196.6 260.8h.8M194.3 256.2h.8M196.2 261.1h.8M194.0 262.0h.8M194.1 255.4h.8M200.0 259.5h.8M194.9 259.1h.8M195.2 260.4h.8M195.8 260.2h.8M194.4 259.8h.8M196.2 259.9h.8M192.1 258.3h.8M195.8 255.3h.8" stroke="#4050b8" stroke-width="0.8" stroke-opacity="0.65"/><path d="M195.3 259.3h.8M193.6 256.5h.8M194.5 259.2h.8M196.2 262.2h.8M194.5 259.8h.8M194.3 261.2h.8M195.1 260.2h.8M196.2 261.5h.8M193.3 259.5h.8M195.5 260.1h.8M193.5 258.1h.8M195.1 260.0h.8M193.0 260.2h.8M191.8 259.6h.8M194.8 259.5h.8M192.9 259.4h.8M192.3 257.1h.8M194.3 258.8h.8M194.0 259.1h.8M195.2 260.0h.8M195.1 260.0h.8M195.9 259.4h.8M193.9 260.3h.8M198.1 260.4h.8M193.6 262.6h.8M194.8 260.3h.8M192.5 259.6h.8M192.5 260.7h.8M195.5 259.5h.8M195.1 260.0h.8M194.8 263.6h.8M194.5 258.3h.8M195.6 259.9h.8M194.9 256.2h.8M196.5 260.7h.8M193.7 260.6h.8M195.1 259.9h.8M195.0 256.3h.8" stroke="#6aa8c8" stroke-width="0.8" stroke-opacity="0.7"/><path d="M194.7 258.8h.8M194.3 259.9h.8M194.4 259.0h.8M195.2 262.1h.8M194.8 259.8h.8M195.8 259.2h.8M195.1 260.0h.8M195.7 260.1h.8M195.3 257.6h.8M196.5 258.9h.8M193.8 258.7h.8M196.3 261.8h.8M199.0 262.2h.8M195.1 262.3h.8M193.5 260.6h.8M193.2 259.5h.8M197.5 261.3h.8M196.0 260.0h.8M195.0 259.1h.8M195.4 259.7h.8M195.3 259.8h.8M196.3 260.2h.8M195.8 260.6h.8M195.1 260.1h.8M195.4 260.1h.8M194.2 260.8h.8M195.2 260.5h.8M196.9 259.7h.8M195.0 260.2h.8M195.3 260.7h.8M195.8 258.9h.8M195.1 260.1h.8M195.8 259.4h.8" stroke="#78b848" stroke-width="0.8" stroke-opacity="0.85"/><path d="M195.0 260.1h.8M195.2 260.3h.8M195.5 261.1h.8M195.2 260.1h.8M197.4 259.8h.8M194.8 261.0h.8M195.4 259.9h.8M193.7 259.7h.8M195.1 260.9h.8M195.0 261.1h.8M195.2 260.8h.8M195.3 260.0h.8M195.8 259.4h.8M195.1 259.8h.8M195.0 260.0h.8" stroke="#c8c830" stroke-width="0.8" stroke-opacity="0.85"/><path d="M194.3 260.1h.8M193.7 260.8h.8M195.4 260.2h.8M195.2 260.0h.8" stroke="#d89a38" stroke-width="0.8" stroke-opacity="0.7"/>
<text x="214.0" y="253.1" font-size="8" fill="#222" stroke="#222" text-anchor="start" textLength="43" lengthAdjust="spacingAndGlyphs">gp33 coated</text>
<text x="235.25" y="262.1" font-size="8" fill="#222" stroke="#222" text-anchor="middle" textLength="14.5" lengthAdjust="spacingAndGlyphs">40.8</text>
<rect x="200.50" y="290.7" width="17.80" height="15.6" fill="#fff" stroke="#777" stroke-width="0.8"/>
<path d="M213.4 298.8h.8M206.4 299.6h.8M208.8 294.2h.8M209.6 300.6h.8M207.9 302.4h.8M209.5 295.6h.8M209.9 296.6h.8M208.8 301.2h.8M209.9 303.5h.8M210.4 300.0h.8M208.7 297.4h.8M205.7 299.7h.8M212.4 299.7h.8M210.5 300.3h.8M206.1 298.7h.8M211.0 299.7h.8M209.0 299.7h.8M209.2 300.6h.8M207.5 301.3h.8M210.1 298.1h.8M206.9 297.0h.8M206.9 297.0h.8M208.5 299.7h.8M209.4 299.9h.8M212.4 298.4h.8M208.1 298.8h.8M209.7 299.7h.8M211.6 303.5h.8M208.7 300.7h.8M209.1 299.7h.8M209.6 299.7h.8M210.4 298.4h.8M210.8 299.0h.8M213.5 301.5h.8M212.2 298.6h.8M208.3 301.2h.8M208.8 297.8h.8M207.1 299.2h.8M210.9 300.4h.8M209.1 300.2h.8M210.0 301.9h.8M211.1 299.5h.8M205.9 298.7h.8M215.9 297.7h.8M209.1 299.6h.8M211.6 297.6h.8M209.6 300.3h.8M206.2 300.7h.8M211.0 304.6h.8M209.4 299.9h.8M210.7 303.4h.8M211.5 300.6h.8M210.7 299.9h.8M208.5 297.4h.8M206.6 303.3h.8M203.0 298.1h.8M211.6 298.3h.8M208.3 293.7h.8M204.7 299.6h.8M209.4 299.7h.8M210.2 300.7h.8M210.3 300.3h.8M205.0 302.4h.8M209.4 299.7h.8M210.9 300.6h.8M208.1 301.8h.8M209.4 299.7h.8M212.5 302.4h.8M212.1 298.6h.8M208.3 302.0h.8M209.2 299.3h.8M210.0 300.3h.8M209.2 299.4h.8M209.9 298.6h.8M210.4 302.7h.8M210.5 299.8h.8M213.4 300.2h.8M206.4 299.5h.8M208.6 298.9h.8M211.0 299.6h.8M209.5 300.1h.8M212.2 301.4h.8M209.3 301.1h.8M210.4 299.8h.8M214.7 300.3h.8M209.2 299.5h.8M211.8 299.0h.8M211.2 300.8h.8M209.4 295.6h.8M210.3 299.4h.8M211.0 298.0h.8M209.0 302.3h.8M212.4 299.2h.8M210.9 296.8h.8M205.8 299.0h.8M212.2 300.8h.8M212.9 300.7h.8M214.4 295.9h.8M209.4 299.7h.8M208.5 299.9h.8M209.1 299.3h.8M209.6 299.0h.8M208.2 297.3h.8M205.3 302.0h.8M212.1 301.4h.8M207.7 295.1h.8M210.3 300.3h.8M209.0 299.3h.8M209.8 299.7h.8M208.9 299.3h.8" stroke="#6a78d0" stroke-width="0.8" stroke-opacity="0.5"/><path d="M206.1 298.4h.8M208.7 298.2h.8M212.2 299.6h.8M208.3 299.5h.8M209.4 299.7h.8M208.3 299.6h.8M209.5 300.0h.8M209.9 299.1h.8M207.4 298.7h.8M210.9 299.5h.8M209.9 301.1h.8M209.4 298.5h.8M206.3 299.0h.8M209.0 301.4h.8M209.4 299.9h.8M208.2 298.3h.8M210.9 296.5h.8M209.0 298.1h.8M209.6 298.9h.8M208.1 297.7h.8M208.2 299.3h.8M209.4 299.3h.8M211.7 299.0h.8M209.8 296.8h.8M209.3 299.1h.8M212.9 302.1h.8M210.7 297.9h.8M208.9 301.6h.8M209.3 299.7h.8M208.9 301.0h.8M208.6 302.9h.8M208.0 302.4h.8M207.4 298.8h.8M208.6 300.2h.8M209.7 300.4h.8M210.2 299.9h.8M209.7 298.8h.8M209.0 299.5h.8M205.9 302.3h.8M209.7 299.2h.8M211.4 299.3h.8M210.6 303.1h.8M209.8 299.4h.8M209.4 299.7h.8M209.2 299.5h.8M212.0 294.5h.8M208.6 300.2h.8M204.7 299.2h.8M208.9 299.6h.8M209.0 299.5h.8M209.6 299.0h.8M208.9 298.8h.8M204.9 298.1h.8M207.0 299.7h.8M210.0 299.6h.8M208.6 300.2h.8M210.3 299.6h.8M212.1 297.8h.8M205.4 299.5h.8M208.7 299.8h.8" stroke="#4050b8" stroke-width="0.8" stroke-opacity="0.65"/><path d="M209.1 299.8h.8M207.9 300.3h.8M209.7 299.6h.8M211.5 298.3h.8M208.0 299.8h.8M209.4 299.7h.8M208.4 298.4h.8M210.3 298.3h.8M209.8 300.3h.8M208.2 299.8h.8M205.9 298.1h.8M211.5 301.2h.8M209.4 300.3h.8M208.2 300.5h.8M209.5 302.0h.8M210.1 299.1h.8M209.3 298.8h.8M210.6 300.1h.8M210.2 299.2h.8M210.7 298.6h.8M209.0 298.1h.8M209.0 298.9h.8M208.7 299.7h.8M210.2 300.2h.8M210.1 300.6h.8M209.7 299.7h.8M208.0 299.3h.8M211.0 300.5h.8M205.8 298.9h.8M210.5 298.2h.8M208.7 300.0h.8M208.8 298.7h.8M207.7 302.0h.8M211.4 301.3h.8M209.5 299.9h.8M211.2 300.1h.8M209.9 300.0h.8M210.0 300.6h.8" stroke="#6aa8c8" stroke-width="0.8" stroke-opacity="0.7"/><path d="M210.9 302.1h.8M209.5 299.8h.8M210.7 298.7h.8M209.0 300.3h.8M209.8 299.5h.8M208.8 299.8h.8M210.2 299.9h.8M209.5 299.6h.8M209.5 299.6h.8M209.1 300.7h.8M208.3 299.0h.8M209.1 299.5h.8M209.2 299.9h.8M209.8 300.4h.8M210.3 300.5h.8M209.4 299.8h.8M209.5 298.4h.8M207.6 298.7h.8M209.9 300.1h.8M209.4 299.7h.8M211.2 298.5h.8M209.6 299.4h.8M210.0 296.7h.8M210.7 300.8h.8M207.4 299.4h.8M211.5 300.4h.8M209.2 300.3h.8M211.6 299.7h.8M209.4 299.7h.8M209.4 300.1h.8M209.8 299.7h.8M210.6 300.7h.8M208.5 300.3h.8" stroke="#78b848" stroke-width="0.8" stroke-opacity="0.85"/><path d="M209.1 300.8h.8M209.4 299.6h.8M209.3 299.2h.8M209.1 300.0h.8M209.5 300.1h.8M209.2 299.7h.8M209.3 299.6h.8M210.6 300.4h.8M209.7 299.6h.8M209.8 298.7h.8M209.3 299.7h.8M209.6 299.5h.8M210.1 299.9h.8M208.3 298.3h.8M211.1 298.9h.8" stroke="#c8c830" stroke-width="0.8" stroke-opacity="0.85"/><path d="M209.5 300.4h.8M209.3 298.8h.8M209.4 299.2h.8M210.2 299.7h.8" stroke="#d89a38" stroke-width="0.8" stroke-opacity="0.7"/>
<text x="227.0" y="296.1" font-size="8" fill="#222" stroke="#222" text-anchor="start" textLength="11.6" lengthAdjust="spacingAndGlyphs">Ctrl</text>
<text x="227.0" y="305.1" font-size="8" fill="#222" stroke="#222" text-anchor="start" textLength="14.3" lengthAdjust="spacingAndGlyphs">56.7</text>
<rect x="263.95" y="244.9" width="18.40" height="23.0" fill="#fff" stroke="#666" stroke-width="0.9"/>
<text x="287.5" y="253.1" font-size="8" fill="#222" stroke="#222" text-anchor="start" textLength="43" lengthAdjust="spacingAndGlyphs">gp33 coated</text>
<text x="308.75" y="262.1" font-size="8" fill="#222" stroke="#222" text-anchor="middle" textLength="14.5" lengthAdjust="spacingAndGlyphs">0.15</text>
<rect x="274.50" y="290.7" width="17.80" height="15.6" fill="#fff" stroke="#777" stroke-width="0.8"/>
<path d="M288.4 300.8h.8M283.9 300.9h.8M284.7 296.9h.8M281.7 301.4h.8M283.4 298.5h.8M286.0 297.3h.8M284.5 298.4h.8M282.7 302.0h.8M278.8 300.0h.8M284.7 300.7h.8M282.3 300.8h.8M287.0 300.6h.8M282.3 299.4h.8M283.3 299.9h.8M284.4 300.0h.8M284.4 300.2h.8M288.4 298.8h.8M282.0 301.0h.8M284.2 303.9h.8M284.9 300.8h.8M283.4 299.7h.8M281.8 301.5h.8M280.9 297.0h.8M282.1 298.5h.8M283.6 299.2h.8M284.4 299.7h.8M283.0 299.6h.8M285.3 303.1h.8M275.3 300.2h.8M282.9 301.5h.8M283.3 300.0h.8M285.9 298.6h.8M284.6 303.2h.8M283.8 300.7h.8M283.0 300.1h.8M281.6 303.5h.8M280.2 302.7h.8M283.0 302.6h.8M282.7 301.9h.8M282.4 300.9h.8M283.4 299.8h.8M280.8 295.0h.8M280.7 298.2h.8M282.2 300.7h.8M283.7 301.1h.8M282.4 299.8h.8M284.9 297.4h.8M282.5 299.9h.8M284.1 299.1h.8M284.2 298.6h.8M279.9 294.4h.8M282.8 301.9h.8M283.8 300.5h.8M285.2 296.8h.8M283.2 299.5h.8M280.4 298.0h.8M279.0 301.6h.8M284.1 299.3h.8M283.3 302.6h.8M281.6 304.3h.8M285.5 301.4h.8M283.3 299.7h.8M282.9 303.7h.8M281.4 300.0h.8M283.0 301.8h.8M281.7 299.0h.8M281.0 297.9h.8M280.9 298.1h.8M286.5 299.7h.8M283.1 299.5h.8M281.6 299.8h.8M281.9 298.5h.8M275.3 302.5h.8M286.5 297.2h.8M285.6 302.6h.8M283.4 299.6h.8M286.1 300.2h.8M280.2 296.9h.8M283.4 299.7h.8M283.7 298.8h.8M282.5 300.7h.8M285.1 302.3h.8M281.7 302.7h.8M286.9 302.8h.8M283.6 299.9h.8M282.0 299.2h.8M282.2 299.4h.8M283.1 297.0h.8M283.8 299.1h.8M280.3 302.3h.8M283.2 301.0h.8M283.4 299.7h.8M285.7 295.3h.8M277.9 301.2h.8M283.5 300.2h.8M285.1 299.8h.8M282.9 299.2h.8M283.3 299.8h.8M283.0 300.8h.8M283.9 299.0h.8M286.5 300.7h.8M280.5 303.7h.8M282.5 299.8h.8M283.8 298.7h.8M284.4 299.1h.8M285.1 301.4h.8M289.5 297.9h.8M288.2 301.1h.8M285.9 299.8h.8M279.4 294.9h.8" stroke="#6a78d0" stroke-width="0.8" stroke-opacity="0.5"/><path d="M282.7 299.8h.8M280.8 297.3h.8M283.6 298.5h.8M283.5 298.9h.8M282.4 300.7h.8M282.8 298.2h.8M281.1 299.2h.8M283.4 301.0h.8M287.5 302.7h.8M284.6 298.9h.8M281.0 299.6h.8M282.8 299.5h.8M284.0 301.7h.8M285.3 298.9h.8M282.7 299.5h.8M282.6 302.5h.8M283.2 299.9h.8M283.2 297.0h.8M283.6 299.3h.8M285.3 301.0h.8M283.7 299.6h.8M284.8 297.4h.8M283.9 300.1h.8M283.0 300.3h.8M282.1 300.3h.8M282.7 301.1h.8M283.1 298.7h.8M283.6 299.5h.8M282.3 298.4h.8M284.5 298.8h.8M282.4 299.3h.8M284.3 300.4h.8M287.4 299.6h.8M283.6 299.8h.8M283.0 300.6h.8M286.0 299.4h.8M284.0 299.5h.8M281.9 300.2h.8M284.3 300.7h.8M284.7 298.4h.8M284.3 299.1h.8M281.3 296.0h.8M283.1 299.7h.8M284.4 298.5h.8M281.8 298.4h.8M284.2 297.7h.8M283.4 298.0h.8M284.5 300.9h.8M284.2 302.3h.8M283.8 299.3h.8M283.4 299.6h.8M284.3 299.1h.8M282.4 299.3h.8M285.8 299.6h.8M283.3 299.5h.8M281.8 301.3h.8M283.6 299.7h.8M281.9 299.2h.8M282.4 293.3h.8M283.6 301.5h.8" stroke="#4050b8" stroke-width="0.8" stroke-opacity="0.65"/><path d="M283.3 299.6h.8M283.7 300.3h.8M283.1 298.7h.8M282.1 298.0h.8M281.6 299.8h.8M283.8 299.7h.8M279.6 299.9h.8M283.1 299.5h.8M283.8 297.4h.8M283.2 301.6h.8M284.5 299.6h.8M282.1 298.2h.8M284.3 299.0h.8M281.8 299.9h.8M284.7 301.3h.8M283.6 300.3h.8M280.8 301.0h.8M287.4 301.9h.8M283.5 300.0h.8M282.5 297.5h.8M283.3 299.6h.8M282.0 298.8h.8M283.8 298.7h.8M283.2 297.1h.8M282.7 301.6h.8M283.9 300.2h.8M283.9 298.2h.8M282.1 299.0h.8M283.3 299.5h.8M283.7 299.8h.8M285.9 298.1h.8M283.8 303.4h.8M285.5 299.1h.8M286.3 298.4h.8M282.4 298.2h.8M283.9 300.3h.8M286.1 298.6h.8M283.3 300.0h.8" stroke="#6aa8c8" stroke-width="0.8" stroke-opacity="0.7"/><path d="M283.5 300.2h.8M285.3 298.6h.8M282.8 299.7h.8M283.4 299.7h.8M284.3 300.6h.8M283.7 300.2h.8M282.9 299.5h.8M283.4 299.1h.8M283.6 299.8h.8M283.5 299.4h.8M282.6 299.8h.8M283.4 299.7h.8M281.8 298.3h.8M283.4 300.9h.8M283.3 299.8h.8M283.4 299.6h.8M285.7 300.6h.8M283.2 299.6h.8M283.1 299.6h.8M283.3 299.0h.8M282.8 300.4h.8M285.5 299.7h.8M281.6 300.2h.8M284.1 299.6h.8M285.6 299.2h.8M285.2 298.9h.8M284.4 301.7h.8M283.4 299.6h.8M283.6 297.3h.8M284.0 298.9h.8M285.0 298.1h.8M283.5 299.9h.8M285.8 299.0h.8" stroke="#78b848" stroke-width="0.8" stroke-opacity="0.85"/><path d="M285.5 299.8h.8M283.0 299.1h.8M283.2 300.3h.8M282.8 299.2h.8M283.5 299.4h.8M282.5 299.8h.8M284.2 299.5h.8M283.4 299.7h.8M283.4 299.6h.8M284.2 299.8h.8M283.4 299.7h.8M283.3 299.9h.8M283.5 300.1h.8M283.5 299.9h.8M283.8 300.3h.8" stroke="#c8c830" stroke-width="0.8" stroke-opacity="0.85"/><path d="M283.2 299.9h.8M284.2 299.2h.8M282.9 300.0h.8M283.6 299.7h.8" stroke="#d89a38" stroke-width="0.8" stroke-opacity="0.7"/>
<text x="298.7" y="296.1" font-size="8" fill="#222" stroke="#222" text-anchor="start" textLength="11.6" lengthAdjust="spacingAndGlyphs">Ctrl</text>
<text x="298.7" y="305.1" font-size="8" fill="#222" stroke="#222" text-anchor="start" textLength="13.2" lengthAdjust="spacingAndGlyphs">99.1</text>
<circle cx="394.8" cy="212.1" r="2.2" fill="#111"/>
<text x="400.2" y="215.1" font-size="8" fill="#222" stroke="#222" text-anchor="start" textLength="45" lengthAdjust="spacingAndGlyphs">GP33 coated</text>
<circle cx="456.7" cy="212.1" r="2.1" fill="none" stroke="#111" stroke-width="1.1"/>
<text x="462.1" y="215.1" font-size="8" fill="#222" stroke="#222" text-anchor="start" textLength="42.3" lengthAdjust="spacingAndGlyphs">Control cells</text>
<path d="M384 219.5V308.7H512.8" stroke="#111" stroke-width="1.3" fill="none"/>
<path d="M380.9 227.2H384M380.9 268.2H384M380.9 308.7H384M402.8 308.7V311.6M448 308.7V311.6M493 308.7V311.6" stroke="#111" stroke-width="1.1"/>
<text x="377.6" y="230.1" font-size="8.2" fill="#222" stroke="#222" text-anchor="end" textLength="12" lengthAdjust="spacingAndGlyphs">100</text>
<text x="376.6" y="270.8" font-size="8.4" fill="#222" stroke="#222" text-anchor="end" textLength="7.6" lengthAdjust="spacingAndGlyphs">50</text>
<text x="376.6" y="311.3" font-size="8.4" fill="#222" stroke="#222" text-anchor="end">0</text>
<text transform="translate(359.3 263.8) rotate(-90)" font-size="9.5" fill="#222" stroke="#222" text-anchor="middle" textLength="32.7" lengthAdjust="spacingAndGlyphs">% of  cells</text>
<text x="403.7" y="321.4" font-size="8.2" fill="#6ab04c" stroke="#6ab04c" text-anchor="middle" textLength="12.3" lengthAdjust="spacingAndGlyphs">WT</text>
<text x="448.4" y="321.4" font-size="8.2" fill="#cc2420" stroke="#cc2420" text-anchor="middle" textLength="23.2" lengthAdjust="spacingAndGlyphs">Prf1-/-</text>
<text x="492.9" y="321.4" font-size="8.2" fill="#3b49a8" stroke="#3b49a8" text-anchor="middle" textLength="20.8" lengthAdjust="spacingAndGlyphs">Il18tg</text>
<circle cx="391.8" cy="308.7" r="2" fill="#6ab04c"/><circle cx="394.4" cy="308.7" r="2" fill="#6ab04c"/><circle cx="397" cy="308.7" r="2" fill="#6ab04c"/><circle cx="399.4" cy="308.7" r="2" fill="#6ab04c"/>
<path d="M390.5 308.7h10.5" stroke="#111" stroke-width="0.8"/>
<circle cx="408" cy="228.4" r="2.1" fill="none" stroke="#6ab04c" stroke-width="0.9"/><circle cx="410.8" cy="228.2" r="2.1" fill="none" stroke="#6ab04c" stroke-width="0.9"/><circle cx="413.6" cy="228.4" r="2.1" fill="none" stroke="#6ab04c" stroke-width="0.9"/><circle cx="416.3" cy="228.2" r="2.1" fill="none" stroke="#6ab04c" stroke-width="0.9"/>
<path d="M407 228.3h10.8" stroke="#111" stroke-width="1"/>
<circle cx="436.1" cy="280.2" r="2" fill="#cc2420"/><circle cx="440" cy="276.6" r="2" fill="#cc2420"/><circle cx="443.8" cy="275.6" r="2" fill="#cc2420"/><circle cx="443.8" cy="280.2" r="2" fill="#cc2420"/><circle cx="442" cy="277.5" r="2" fill="#cc2420"/>
<path d="M434.2 278.4h11.7" stroke="#111" stroke-width="1"/>
<circle cx="452.7" cy="256.5" r="2.1" fill="none" stroke="#cc2420" stroke-width="0.9"/><circle cx="456.6" cy="256.4" r="2.1" fill="none" stroke="#cc2420" stroke-width="0.9"/><circle cx="453.2" cy="261.3" r="2.1" fill="none" stroke="#cc2420" stroke-width="0.9"/><circle cx="460.7" cy="260.6" r="2.1" fill="none" stroke="#cc2420" stroke-width="0.9"/><circle cx="457.3" cy="259.2" r="2.1" fill="none" stroke="#cc2420" stroke-width="0.9"/>
<path d="M451.2 258.5h10.6" stroke="#111" stroke-width="1"/>
<circle cx="481.6" cy="308.7" r="2" fill="#3b49a8"/><circle cx="484.8" cy="308.7" r="2" fill="#3b49a8"/><circle cx="488" cy="308.7" r="2" fill="#3b49a8"/>
<circle cx="497.5" cy="228.6" r="2.1" fill="none" stroke="#3b49a8" stroke-width="0.9"/><circle cx="501" cy="228.6" r="2.1" fill="none" stroke="#3b49a8" stroke-width="0.9"/><circle cx="504.6" cy="228.6" r="2.1" fill="none" stroke="#3b49a8" stroke-width="0.9"/>
<path d="M496 228.6h10.5" stroke="#111" stroke-width="1"/>
<rect x="0.5" y="0.5" width="519" height="330" fill="none" stroke="#000" stroke-width="1.2"/>
</svg></div>
</body></html>
